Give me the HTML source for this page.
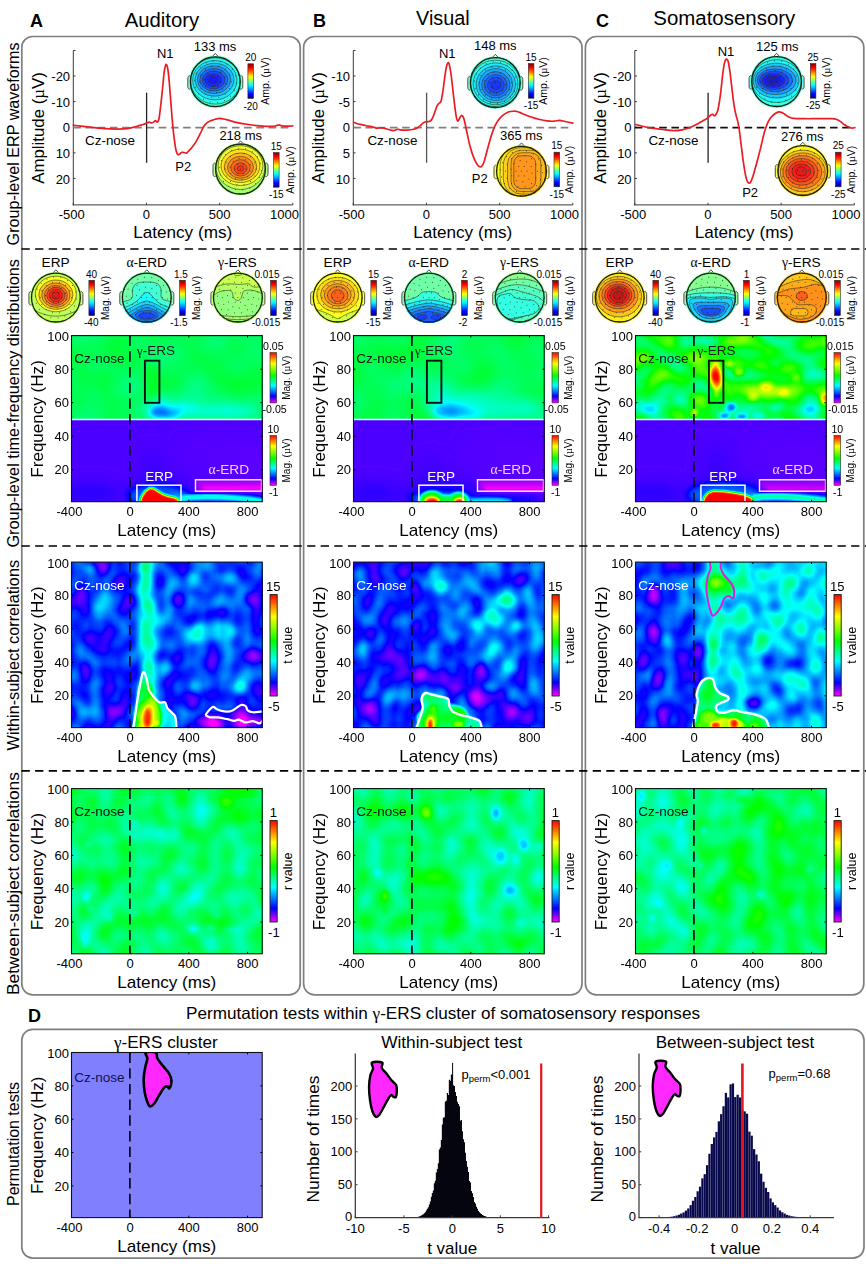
<!DOCTYPE html>
<html><head><meta charset="utf-8"><title>Figure</title>
<style>html,body{margin:0;padding:0;background:#fff}svg{display:block}text{font-family:"Liberation Sans",sans-serif}</style></head>
<body>
<svg width="866" height="1264" viewBox="0 0 866 1264">
<rect width="866" height="1264" fill="#fff"/>
<defs>
<linearGradient id="gHSV" x1="0" y1="1" x2="0" y2="0"><stop offset="0" stop-color="#ff00ff"/><stop offset="0.134" stop-color="#0000ff"/><stop offset="0.343" stop-color="#00ffff"/><stop offset="0.54" stop-color="#00ff00"/><stop offset="0.785" stop-color="#ffff00"/><stop offset="1" stop-color="#ff0000"/></linearGradient>
<linearGradient id="gJET" x1="0" y1="1" x2="0" y2="0"><stop offset="0" stop-color="#00007f"/><stop offset="0.06" stop-color="#0000bf"/><stop offset="0.12" stop-color="#0000ff"/><stop offset="0.19" stop-color="#003fff"/><stop offset="0.25" stop-color="#007fff"/><stop offset="0.31" stop-color="#00bfff"/><stop offset="0.38" stop-color="#00ffff"/><stop offset="0.44" stop-color="#3fffbf"/><stop offset="0.5" stop-color="#7fff7f"/><stop offset="0.56" stop-color="#bfff3f"/><stop offset="0.62" stop-color="#ffff00"/><stop offset="0.69" stop-color="#ffbf00"/><stop offset="0.75" stop-color="#ff7f00"/><stop offset="0.81" stop-color="#ff3f00"/><stop offset="0.88" stop-color="#ff0000"/><stop offset="0.94" stop-color="#bf0000"/><stop offset="1" stop-color="#7f0000"/></linearGradient>
<filter id="b1" x="-50%" y="-50%" width="200%" height="200%" color-interpolation-filters="sRGB"><feGaussianBlur stdDeviation="1"/></filter>
<filter id="b1_5" x="-50%" y="-50%" width="200%" height="200%" color-interpolation-filters="sRGB"><feGaussianBlur stdDeviation="1.5"/></filter>
<filter id="b2" x="-50%" y="-50%" width="200%" height="200%" color-interpolation-filters="sRGB"><feGaussianBlur stdDeviation="2"/></filter>
<filter id="b3" x="-50%" y="-50%" width="200%" height="200%" color-interpolation-filters="sRGB"><feGaussianBlur stdDeviation="3"/></filter>
<filter id="b4" x="-50%" y="-50%" width="200%" height="200%" color-interpolation-filters="sRGB"><feGaussianBlur stdDeviation="4"/></filter>
<filter id="b5" x="-50%" y="-50%" width="200%" height="200%" color-interpolation-filters="sRGB"><feGaussianBlur stdDeviation="5"/></filter>
<filter id="b6" x="-50%" y="-50%" width="200%" height="200%" color-interpolation-filters="sRGB"><feGaussianBlur stdDeviation="6"/></filter>
<filter id="b8" x="-50%" y="-50%" width="200%" height="200%" color-interpolation-filters="sRGB"><feGaussianBlur stdDeviation="8"/></filter>
<filter id="b10" x="-50%" y="-50%" width="200%" height="200%" color-interpolation-filters="sRGB"><feGaussianBlur stdDeviation="10"/></filter>
<filter id="h1" filterUnits="userSpaceOnUse" x="71.5" y="335.6" width="190.7" height="83.89" color-interpolation-filters="sRGB"><feTurbulence type="fractalNoise" baseFrequency="0.03 0.035" numOctaves="1" seed="31" result="n0"/><feColorMatrix in="n0" values="1 0 0 0 0  1 0 0 0 0  1 0 0 0 0  0 0 0 0 1" result="n"/><feComposite in="SourceGraphic" in2="n" operator="arithmetic" k1="0" k2="1" k3="0.13" k4="-0.07" result="s"/><feComponentTransfer><feFuncR type="table" tableValues="1 0 0 0 1 1"/><feFuncG type="table" tableValues="0 0 1 1 1 0"/><feFuncB type="table" tableValues="1 1 1 0 0 0"/><feFuncA type="table" tableValues="1 1"/></feComponentTransfer></filter>
<filter id="h2" filterUnits="userSpaceOnUse" x="71.5" y="419.49" width="190.7" height="82.21" color-interpolation-filters="sRGB"><feComponentTransfer><feFuncR type="table" tableValues="1 0 0 0 1 1"/><feFuncG type="table" tableValues="0 0 1 1 1 0"/><feFuncB type="table" tableValues="1 1 1 0 0 0"/><feFuncA type="table" tableValues="1 1"/></feComponentTransfer></filter>
<filter id="h3" filterUnits="userSpaceOnUse" x="353.5" y="335.6" width="190.7" height="83.89" color-interpolation-filters="sRGB"><feTurbulence type="fractalNoise" baseFrequency="0.03 0.035" numOctaves="1" seed="32" result="n0"/><feColorMatrix in="n0" values="1 0 0 0 0  1 0 0 0 0  1 0 0 0 0  0 0 0 0 1" result="n"/><feComposite in="SourceGraphic" in2="n" operator="arithmetic" k1="0" k2="1" k3="0.13" k4="-0.07" result="s"/><feComponentTransfer><feFuncR type="table" tableValues="1 0 0 0 1 1"/><feFuncG type="table" tableValues="0 0 1 1 1 0"/><feFuncB type="table" tableValues="1 1 1 0 0 0"/><feFuncA type="table" tableValues="1 1"/></feComponentTransfer></filter>
<filter id="h4" filterUnits="userSpaceOnUse" x="353.5" y="419.49" width="190.7" height="82.21" color-interpolation-filters="sRGB"><feComponentTransfer><feFuncR type="table" tableValues="1 0 0 0 1 1"/><feFuncG type="table" tableValues="0 0 1 1 1 0"/><feFuncB type="table" tableValues="1 1 1 0 0 0"/><feFuncA type="table" tableValues="1 1"/></feComponentTransfer></filter>
<filter id="h5" filterUnits="userSpaceOnUse" x="635.5" y="335.6" width="190.7" height="83.89" color-interpolation-filters="sRGB"><feTurbulence type="fractalNoise" baseFrequency="0.045 0.06" numOctaves="1" seed="37" result="n0"/><feColorMatrix in="n0" values="1 0 0 0 0  1 0 0 0 0  1 0 0 0 0  0 0 0 0 1" result="n"/><feComposite in="SourceGraphic" in2="n" operator="arithmetic" k1="0" k2="1" k3="0.46" k4="-0.23" result="s"/><feComponentTransfer><feFuncR type="table" tableValues="1 0 0 0 1 1"/><feFuncG type="table" tableValues="0 0 1 1 1 0"/><feFuncB type="table" tableValues="1 1 1 0 0 0"/><feFuncA type="table" tableValues="1 1"/></feComponentTransfer></filter>
<filter id="h6" filterUnits="userSpaceOnUse" x="635.5" y="419.49" width="190.7" height="82.21" color-interpolation-filters="sRGB"><feComponentTransfer><feFuncR type="table" tableValues="1 0 0 0 1 1"/><feFuncG type="table" tableValues="0 0 1 1 1 0"/><feFuncB type="table" tableValues="1 1 1 0 0 0"/><feFuncA type="table" tableValues="1 1"/></feComponentTransfer></filter>
<clipPath id="t7"><circle cx="215.3" cy="81.7" r="25.8"/></clipPath>
<clipPath id="t8"><circle cx="240.5" cy="169.1" r="25.8"/></clipPath>
<clipPath id="t9"><circle cx="495.3" cy="82.6" r="25.8"/></clipPath>
<clipPath id="t10"><circle cx="521.5" cy="171.2" r="25.8"/></clipPath>
<clipPath id="t11"><circle cx="776.6" cy="81.6" r="25.8"/></clipPath>
<clipPath id="t12"><circle cx="802.8" cy="170.6" r="25.8"/></clipPath>
<clipPath id="t13"><circle cx="55.9" cy="297.6" r="25.3"/></clipPath>
<clipPath id="t14"><circle cx="146.8" cy="297.6" r="25.3"/></clipPath>
<clipPath id="t15"><circle cx="237.9" cy="297.6" r="25.3"/></clipPath>
<clipPath id="t16"><circle cx="337.7" cy="297.6" r="25.3"/></clipPath>
<clipPath id="t17"><circle cx="428.9" cy="297.6" r="25.3"/></clipPath>
<clipPath id="t18"><circle cx="519.7" cy="297.6" r="25.3"/></clipPath>
<clipPath id="t19"><circle cx="619.7" cy="297.6" r="25.3"/></clipPath>
<clipPath id="t20"><circle cx="710.9" cy="297.6" r="25.3"/></clipPath>
<clipPath id="t21"><circle cx="801.8" cy="297.6" r="25.3"/></clipPath>
<filter id="h22" filterUnits="userSpaceOnUse" x="71.5" y="562.1" width="190.7" height="165.5" color-interpolation-filters="sRGB"><feTurbulence type="fractalNoise" baseFrequency="0.068 0.054" numOctaves="1" seed="4" result="n0"/><feColorMatrix in="n0" values="1 0 0 0 0  1 0 0 0 0  1 0 0 0 0  0 0 0 0 1" result="n"/><feComposite in="SourceGraphic" in2="n" operator="arithmetic" k1="0" k2="1" k3="0.36" k4="-0.18" result="s"/><feComponentTransfer><feFuncR type="table" tableValues="1 0 0 0 1 1"/><feFuncG type="table" tableValues="0 0 1 1 1 0"/><feFuncB type="table" tableValues="1 1 1 0 0 0"/><feFuncA type="table" tableValues="1 1"/></feComponentTransfer></filter>
<clipPath id="c23"><rect x="71.5" y="562.1" width="190.7" height="165.5"/></clipPath>
<filter id="h24" filterUnits="userSpaceOnUse" x="353.5" y="562.1" width="190.7" height="165.5" color-interpolation-filters="sRGB"><feTurbulence type="fractalNoise" baseFrequency="0.068 0.054" numOctaves="1" seed="8" result="n0"/><feColorMatrix in="n0" values="1 0 0 0 0  1 0 0 0 0  1 0 0 0 0  0 0 0 0 1" result="n"/><feComposite in="SourceGraphic" in2="n" operator="arithmetic" k1="0" k2="1" k3="0.36" k4="-0.18" result="s"/><feComponentTransfer><feFuncR type="table" tableValues="1 0 0 0 1 1"/><feFuncG type="table" tableValues="0 0 1 1 1 0"/><feFuncB type="table" tableValues="1 1 1 0 0 0"/><feFuncA type="table" tableValues="1 1"/></feComponentTransfer></filter>
<clipPath id="c25"><rect x="353.5" y="562.1" width="190.7" height="165.5"/></clipPath>
<filter id="h26" filterUnits="userSpaceOnUse" x="635.5" y="562.1" width="190.7" height="165.5" color-interpolation-filters="sRGB"><feTurbulence type="fractalNoise" baseFrequency="0.068 0.054" numOctaves="1" seed="13" result="n0"/><feColorMatrix in="n0" values="1 0 0 0 0  1 0 0 0 0  1 0 0 0 0  0 0 0 0 1" result="n"/><feComposite in="SourceGraphic" in2="n" operator="arithmetic" k1="0" k2="1" k3="0.36" k4="-0.18" result="s"/><feComponentTransfer><feFuncR type="table" tableValues="1 0 0 0 1 1"/><feFuncG type="table" tableValues="0 0 1 1 1 0"/><feFuncB type="table" tableValues="1 1 1 0 0 0"/><feFuncA type="table" tableValues="1 1"/></feComponentTransfer></filter>
<clipPath id="c27"><rect x="635.5" y="562.1" width="190.7" height="165.5"/></clipPath>
<filter id="h28" filterUnits="userSpaceOnUse" x="71.5" y="788.6" width="190.7" height="165.2" color-interpolation-filters="sRGB"><feTurbulence type="fractalNoise" baseFrequency="0.052 0.045" numOctaves="1" seed="21" result="n0"/><feColorMatrix in="n0" values="1 0 0 0 0  1 0 0 0 0  1 0 0 0 0  0 0 0 0 1" result="n"/><feComposite in="SourceGraphic" in2="n" operator="arithmetic" k1="0" k2="1" k3="0.3" k4="-0.15" result="s"/><feComponentTransfer><feFuncR type="table" tableValues="1 0 0 0 1 1"/><feFuncG type="table" tableValues="0 0 1 1 1 0"/><feFuncB type="table" tableValues="1 1 1 0 0 0"/><feFuncA type="table" tableValues="1 1"/></feComponentTransfer></filter>
<filter id="h29" filterUnits="userSpaceOnUse" x="353.5" y="788.6" width="190.7" height="165.2" color-interpolation-filters="sRGB"><feTurbulence type="fractalNoise" baseFrequency="0.052 0.045" numOctaves="1" seed="25" result="n0"/><feColorMatrix in="n0" values="1 0 0 0 0  1 0 0 0 0  1 0 0 0 0  0 0 0 0 1" result="n"/><feComposite in="SourceGraphic" in2="n" operator="arithmetic" k1="0" k2="1" k3="0.3" k4="-0.15" result="s"/><feComponentTransfer><feFuncR type="table" tableValues="1 0 0 0 1 1"/><feFuncG type="table" tableValues="0 0 1 1 1 0"/><feFuncB type="table" tableValues="1 1 1 0 0 0"/><feFuncA type="table" tableValues="1 1"/></feComponentTransfer></filter>
<filter id="h30" filterUnits="userSpaceOnUse" x="635.5" y="788.6" width="190.7" height="165.2" color-interpolation-filters="sRGB"><feTurbulence type="fractalNoise" baseFrequency="0.052 0.045" numOctaves="1" seed="29" result="n0"/><feColorMatrix in="n0" values="1 0 0 0 0  1 0 0 0 0  1 0 0 0 0  0 0 0 0 1" result="n"/><feComposite in="SourceGraphic" in2="n" operator="arithmetic" k1="0" k2="1" k3="0.3" k4="-0.15" result="s"/><feComponentTransfer><feFuncR type="table" tableValues="1 0 0 0 1 1"/><feFuncG type="table" tableValues="0 0 1 1 1 0"/><feFuncB type="table" tableValues="1 1 1 0 0 0"/><feFuncA type="table" tableValues="1 1"/></feComponentTransfer></filter>
<clipPath id="c31"><rect x="71.5" y="1052.5" width="190.7" height="165.1"/></clipPath>
</defs>
<rect x="21.8" y="36.5" width="278.4" height="958.3" fill="none" stroke="#7f7f7f" stroke-width="1.7" rx="11" />
<rect x="303.6" y="36.5" width="278.4" height="958.3" fill="none" stroke="#7f7f7f" stroke-width="1.7" rx="11" />
<rect x="585.4" y="36.5" width="278.4" height="958.3" fill="none" stroke="#7f7f7f" stroke-width="1.7" rx="11" />
<rect x="21.8" y="1029.3" width="842.2" height="228.8" fill="none" stroke="#7f7f7f" stroke-width="1.7" rx="11" />
<line x1="21.5" y1="249" x2="866" y2="249" stroke="#000" stroke-width="1.7" stroke-dasharray="8.3 5.3" />
<line x1="21.5" y1="546" x2="866" y2="546" stroke="#000" stroke-width="1.7" stroke-dasharray="8.3 5.3" />
<line x1="21.5" y1="770.8" x2="866" y2="770.8" stroke="#000" stroke-width="1.7" stroke-dasharray="8.3 5.3" />
<text x="36.5" y="26.74" font-size="18" text-anchor="middle" font-weight="bold" >A</text>
<text x="161.9" y="27.06" font-size="20" text-anchor="middle" textLength="74.5" lengthAdjust="spacingAndGlyphs" >Auditory</text>
<text x="319.6" y="26.74" font-size="18" text-anchor="middle" font-weight="bold" >B</text>
<text x="442.9" y="24.86" font-size="20" text-anchor="middle" textLength="53.7" lengthAdjust="spacingAndGlyphs" >Visual</text>
<text x="602.4" y="26.84" font-size="18" text-anchor="middle" font-weight="bold" >C</text>
<text x="724.3" y="24.96" font-size="20" text-anchor="middle" textLength="142" lengthAdjust="spacingAndGlyphs" >Somatosensory</text>
<text x="34.5" y="1022.04" font-size="18" text-anchor="middle" font-weight="bold" >D</text>
<text x="443" y="1019.01" font-size="16.5" text-anchor="middle" textLength="514" lengthAdjust="spacingAndGlyphs" >Permutation tests within <tspan font-family="Liberation Serif">γ</tspan>-ERS cluster of somatosensory responses</text>
<text x="12.7" y="149.81" font-size="16.5" text-anchor="middle" textLength="203" lengthAdjust="spacingAndGlyphs" transform="rotate(-90 12.7 143.9)" >Group-level ERP waveforms</text>
<text x="12.7" y="409.21" font-size="16.5" text-anchor="middle" textLength="288.6" lengthAdjust="spacingAndGlyphs" transform="rotate(-90 12.7 403.3)" >Group-level time-frequency distributions</text>
<text x="12.7" y="661.11" font-size="16.5" text-anchor="middle" textLength="190.5" lengthAdjust="spacingAndGlyphs" transform="rotate(-90 12.7 655.2)" >Within-subject correlations</text>
<text x="12.7" y="889.51" font-size="16.5" text-anchor="middle" textLength="223" lengthAdjust="spacingAndGlyphs" transform="rotate(-90 12.7 883.6)" >Between-subject correlations</text>
<text x="12.7" y="1149.91" font-size="16.5" text-anchor="middle" textLength="124" lengthAdjust="spacingAndGlyphs" transform="rotate(-90 12.7 1144)" >Permutation tests</text>
<line x1="73.3" y1="50.5" x2="73.3" y2="205.4" stroke="#3a3a3a" stroke-width="1" />
<line x1="72.8" y1="204.9" x2="292.8" y2="204.9" stroke="#3a3a3a" stroke-width="1" />
<line x1="73.3" y1="76" x2="75.5" y2="76" stroke="#3a3a3a" stroke-width="1" />
<text x="70.1" y="81.15" font-size="13" text-anchor="end" >-20</text>
<line x1="73.3" y1="101.62" x2="75.5" y2="101.62" stroke="#3a3a3a" stroke-width="1" />
<text x="70.1" y="106.77" font-size="13" text-anchor="end" >-10</text>
<line x1="73.3" y1="127.24" x2="75.5" y2="127.24" stroke="#3a3a3a" stroke-width="1" />
<text x="70.1" y="132.39" font-size="13" text-anchor="end" >0</text>
<line x1="73.3" y1="152.86" x2="75.5" y2="152.86" stroke="#3a3a3a" stroke-width="1" />
<text x="70.1" y="158.01" font-size="13" text-anchor="end" >10</text>
<line x1="73.3" y1="178.48" x2="75.5" y2="178.48" stroke="#3a3a3a" stroke-width="1" />
<text x="70.1" y="183.63" font-size="13" text-anchor="end" >20</text>
<line x1="73.3" y1="50.5" x2="75.5" y2="50.5" stroke="#3a3a3a" stroke-width="1" />
<line x1="73.3" y1="204.9" x2="73.3" y2="202.8" stroke="#3a3a3a" stroke-width="1" />
<text x="71.8" y="219.25" font-size="13" text-anchor="middle" >-500</text>
<line x1="146.47" y1="204.9" x2="146.47" y2="202.8" stroke="#3a3a3a" stroke-width="1" />
<text x="146.47" y="219.25" font-size="13" text-anchor="middle" >0</text>
<line x1="219.64" y1="204.9" x2="219.64" y2="202.8" stroke="#3a3a3a" stroke-width="1" />
<text x="219.64" y="219.25" font-size="13" text-anchor="middle" >500</text>
<line x1="292.81" y1="204.9" x2="292.81" y2="202.8" stroke="#3a3a3a" stroke-width="1" />
<text x="299" y="219.25" font-size="13" text-anchor="end" >1000</text>
<text x="182.7" y="238.39" font-size="17" text-anchor="middle" textLength="99" lengthAdjust="spacingAndGlyphs" >Latency (ms)</text>
<text x="38.3" y="134.09" font-size="17" text-anchor="middle" textLength="111.5" lengthAdjust="spacingAndGlyphs" transform="rotate(-90 38.3 128)" >Amplitude (<tspan font-family="Liberation Serif">µ</tspan>V)</text>
<line x1="73.3" y1="127.6" x2="292.8" y2="127.6" stroke="#808080" stroke-width="1.6" stroke-dasharray="7.6 4.6" />
<line x1="146.6" y1="92.7" x2="146.6" y2="162.8" stroke="#222" stroke-width="1.3" />
<path d="M73.3 125.09 C74.32 125.23 77 125.64 79.4 125.92 C81.8 126.2 84.48 126.38 87.72 126.75 C90.95 127.12 95.11 127.77 98.8 128.14 C102.5 128.51 105.73 128.83 109.89 128.97 C114.05 129.11 120.05 129.2 123.75 128.97 C127.44 128.74 129.52 128.14 132.06 127.58 C134.6 127.03 137.14 126.15 138.99 125.64 C140.84 125.13 141.9 124.95 143.15 124.53 C144.4 124.12 145.46 123.56 146.47 123.15 C147.49 122.73 148.41 122.09 149.25 122.04 C150.08 121.99 150.72 122.87 151.46 122.87 C152.2 122.87 152.99 122.41 153.68 122.04 C154.37 121.67 155.02 120.65 155.62 120.65 C156.22 120.65 156.73 122.32 157.28 122.04 C157.84 121.76 158.39 121.58 158.95 118.99 C159.5 116.4 160.01 111.6 160.61 106.52 C161.21 101.44 161.95 94.28 162.55 88.5 C163.15 82.73 163.7 75.75 164.21 71.87 C164.72 67.99 165.18 66.38 165.6 65.22 C166.01 64.07 166.34 64.3 166.71 64.94 C167.08 65.59 167.4 66.33 167.82 69.1 C168.23 71.87 168.69 76.03 169.2 81.57 C169.71 87.12 170.31 95.43 170.86 102.36 C171.42 109.29 171.97 117.14 172.53 123.15 C173.08 129.15 173.64 134 174.19 138.39 C174.75 142.78 175.3 146.85 175.85 149.48 C176.41 152.11 176.96 153.36 177.52 154.19 C178.07 155.02 178.53 154.75 179.18 154.47 C179.83 154.19 180.61 152.85 181.4 152.53 C182.18 152.2 183.06 152.44 183.89 152.53 C184.72 152.62 185.55 153.36 186.39 153.08 C187.22 152.8 187.86 151.93 188.88 150.86 C189.9 149.8 191.24 148.32 192.48 146.71 C193.73 145.09 195.07 143.34 196.36 141.16 C197.66 138.99 199.04 136.08 200.24 133.68 C201.44 131.28 202.46 128.55 203.57 126.75 C204.68 124.95 205.65 123.89 206.9 122.87 C208.14 121.86 209.67 121.25 211.05 120.65 C212.44 120.05 213.82 119.64 215.21 119.27 C216.6 118.9 217.98 118.48 219.37 118.44 C220.75 118.39 221.91 118.67 223.53 118.99 C225.14 119.31 226.76 119.78 229.07 120.38 C231.38 120.98 234.15 121.9 237.38 122.59 C240.62 123.29 244.77 123.98 248.47 124.53 C252.17 125.09 255.86 125.6 259.56 125.92 C263.25 126.24 267.96 126.47 270.64 126.47 C273.32 126.47 274.25 126.2 275.63 125.92 C277.02 125.64 277.94 124.81 278.96 124.81 C279.97 124.81 280.34 125.69 281.73 125.92 C283.12 126.15 285.42 126.2 287.27 126.2 C289.12 126.2 291.89 125.97 292.82 125.92" fill="none" stroke="#ea1d25" stroke-width="1.7" stroke-linejoin="round" stroke-linecap="round"/>
<text x="165.3" y="58.15" font-size="13" text-anchor="middle" >N1</text>
<text x="183.3" y="170.65" font-size="13" text-anchor="middle" >P2</text>
<text x="110" y="144.95" font-size="13" text-anchor="middle" textLength="50" lengthAdjust="spacingAndGlyphs" >Cz-nose</text>
<text x="215" y="50.65" font-size="13" text-anchor="middle" >133 ms</text>
<text x="240.7" y="140.25" font-size="13" text-anchor="middle" >218 ms</text>
<rect x="247.9" y="63.8" width="5.6" height="34.6" fill="url(#gJET)" stroke="#2a2a2a" stroke-width="0.6" />
<text x="250.7" y="61.08" font-size="10" text-anchor="middle" >20</text>
<text x="250.7" y="109.58" font-size="10" text-anchor="middle" >-20</text>
<text x="265" y="84.86" font-size="10.5" text-anchor="middle" transform="rotate(-90 265 81.1)" >Amp. (<tspan font-family="Liberation Serif">µ</tspan>V)</text>
<rect x="273.5" y="152.6" width="5.6" height="34.6" fill="url(#gJET)" stroke="#2a2a2a" stroke-width="0.6" />
<text x="276.3" y="149.88" font-size="10" text-anchor="middle" >15</text>
<text x="276.3" y="198.38" font-size="10" text-anchor="middle" >-15</text>
<text x="290.6" y="173.66" font-size="10.5" text-anchor="middle" transform="rotate(-90 290.6 169.9)" >Amp. (<tspan font-family="Liberation Serif">µ</tspan>V)</text>
<line x1="353.3" y1="50.5" x2="353.3" y2="205.4" stroke="#3a3a3a" stroke-width="1" />
<line x1="352.8" y1="204.9" x2="572.8" y2="204.9" stroke="#3a3a3a" stroke-width="1" />
<line x1="353.3" y1="76" x2="355.5" y2="76" stroke="#3a3a3a" stroke-width="1" />
<text x="350.1" y="81.15" font-size="13" text-anchor="end" >-10</text>
<line x1="353.3" y1="101.62" x2="355.5" y2="101.62" stroke="#3a3a3a" stroke-width="1" />
<text x="350.1" y="106.77" font-size="13" text-anchor="end" >-5</text>
<line x1="353.3" y1="127.24" x2="355.5" y2="127.24" stroke="#3a3a3a" stroke-width="1" />
<text x="350.1" y="132.39" font-size="13" text-anchor="end" >0</text>
<line x1="353.3" y1="152.86" x2="355.5" y2="152.86" stroke="#3a3a3a" stroke-width="1" />
<text x="350.1" y="158.01" font-size="13" text-anchor="end" >5</text>
<line x1="353.3" y1="178.48" x2="355.5" y2="178.48" stroke="#3a3a3a" stroke-width="1" />
<text x="350.1" y="183.63" font-size="13" text-anchor="end" >10</text>
<line x1="353.3" y1="50.5" x2="355.5" y2="50.5" stroke="#3a3a3a" stroke-width="1" />
<line x1="353.3" y1="204.9" x2="353.3" y2="202.8" stroke="#3a3a3a" stroke-width="1" />
<text x="351.8" y="219.25" font-size="13" text-anchor="middle" >-500</text>
<line x1="426.47" y1="204.9" x2="426.47" y2="202.8" stroke="#3a3a3a" stroke-width="1" />
<text x="426.47" y="219.25" font-size="13" text-anchor="middle" >0</text>
<line x1="499.64" y1="204.9" x2="499.64" y2="202.8" stroke="#3a3a3a" stroke-width="1" />
<text x="499.64" y="219.25" font-size="13" text-anchor="middle" >500</text>
<line x1="572.81" y1="204.9" x2="572.81" y2="202.8" stroke="#3a3a3a" stroke-width="1" />
<text x="579" y="219.25" font-size="13" text-anchor="end" >1000</text>
<text x="462.7" y="238.39" font-size="17" text-anchor="middle" textLength="99" lengthAdjust="spacingAndGlyphs" >Latency (ms)</text>
<text x="318.3" y="134.09" font-size="17" text-anchor="middle" textLength="111.5" lengthAdjust="spacingAndGlyphs" transform="rotate(-90 318.3 128)" >Amplitude (<tspan font-family="Liberation Serif">µ</tspan>V)</text>
<line x1="353.3" y1="127.6" x2="572.8" y2="127.6" stroke="#808080" stroke-width="1.6" stroke-dasharray="7.6 4.6" />
<line x1="426.6" y1="92.7" x2="426.6" y2="162.8" stroke="#555" stroke-width="1.3" />
<path d="M353.64 122.32 C354.24 122.55 355.72 123.29 357.24 123.7 C358.77 124.12 360.94 124.4 362.79 124.81 C364.63 125.23 366.71 125.87 368.33 126.2 C369.95 126.52 371.1 126.43 372.49 126.75 C373.87 127.08 375.03 127.95 376.65 128.14 C378.26 128.32 380.34 127.68 382.19 127.86 C384.04 128.05 385.88 128.78 387.73 129.25 C389.58 129.71 391.66 130.63 393.27 130.63 C394.89 130.63 396.05 129.34 397.43 129.25 C398.82 129.15 399.97 129.94 401.59 130.08 C403.21 130.22 405.29 130.17 407.13 130.08 C408.98 129.99 411.06 129.85 412.68 129.52 C414.29 129.2 415.59 128.74 416.83 128.14 C418.08 127.54 419.14 126.75 420.16 125.92 C421.18 125.09 422.01 123.84 422.93 123.15 C423.86 122.46 424.64 122.04 425.7 121.76 C426.77 121.49 428.24 121.95 429.31 121.49 C430.37 121.02 431.15 120.56 432.08 118.99 C433 117.42 434.02 114.23 434.85 112.06 C435.68 109.89 436.37 107.44 437.07 105.96 C437.76 104.49 438.36 103.93 439.01 103.19 C439.65 102.45 440.3 103.52 440.95 101.53 C441.59 99.54 442.29 95.06 442.89 91.27 C443.49 87.49 444 82.73 444.55 78.8 C445.1 74.88 445.66 70.4 446.21 67.72 C446.77 65.04 447.37 63.28 447.88 62.73 C448.38 62.17 448.75 62.63 449.26 64.39 C449.77 66.15 450.32 69.01 450.92 73.26 C451.53 77.51 452.22 84.35 452.86 89.89 C453.51 95.43 454.2 101.9 454.8 106.52 C455.41 111.14 455.96 115.16 456.47 117.61 C456.98 120.05 457.35 121.07 457.85 121.21 C458.36 121.35 458.96 119.36 459.52 118.44 C460.07 117.51 460.63 116.03 461.18 115.67 C461.73 115.3 462.29 115.34 462.84 116.22 C463.4 117.1 463.86 118.39 464.51 120.93 C465.15 123.47 465.89 127.63 466.72 131.46 C467.55 135.3 468.57 140.24 469.49 143.94 C470.42 147.63 471.34 150.86 472.27 153.64 C473.19 156.41 474.11 158.63 475.04 160.57 C475.96 162.51 476.98 164.21 477.81 165.28 C478.64 166.34 479.33 166.8 480.03 166.94 C480.72 167.08 481.27 167.03 481.97 166.11 C482.66 165.18 483.4 163.71 484.18 161.4 C484.97 159.09 485.8 155.48 486.68 152.25 C487.56 149.02 488.53 145.23 489.45 142 C490.37 138.76 491.3 135.53 492.22 132.85 C493.15 130.17 493.93 128.09 494.99 125.92 C496.06 123.75 497.3 121.58 498.6 119.82 C499.89 118.07 501.14 116.68 502.75 115.39 C504.37 114.09 506.45 112.75 508.3 112.06 C510.14 111.37 512.36 111.32 513.84 111.23 C515.32 111.14 515.78 111.14 517.17 111.51 C518.55 111.88 519.94 112.57 522.16 113.45 C524.37 114.33 527.7 115.8 530.47 116.77 C533.24 117.74 536.01 118.58 538.78 119.27 C541.56 119.96 544.56 120.61 547.1 120.93 C549.64 121.25 551.95 121.3 554.03 121.21 C556.11 121.12 557.72 120.33 559.57 120.38 C561.42 120.42 562.9 121.02 565.12 121.49 C567.33 121.95 571.58 122.87 572.88 123.15" fill="none" stroke="#ea1d25" stroke-width="1.7" stroke-linejoin="round" stroke-linecap="round"/>
<text x="447.3" y="57.95" font-size="13" text-anchor="middle" >N1</text>
<text x="479.7" y="183.25" font-size="13" text-anchor="middle" >P2</text>
<text x="392.4" y="145.25" font-size="13" text-anchor="middle" textLength="50" lengthAdjust="spacingAndGlyphs" >Cz-nose</text>
<text x="495.3" y="50.15" font-size="13" text-anchor="middle" >148 ms</text>
<text x="521.3" y="140.25" font-size="13" text-anchor="middle" >365 ms</text>
<rect x="528.3" y="63.6" width="5.6" height="34.6" fill="url(#gJET)" stroke="#2a2a2a" stroke-width="0.6" />
<text x="531.1" y="60.88" font-size="10" text-anchor="middle" >15</text>
<text x="531.1" y="109.38" font-size="10" text-anchor="middle" >-15</text>
<text x="543.6" y="84.66" font-size="10.5" text-anchor="middle" transform="rotate(-90 543.6 80.9)" >Amp. (<tspan font-family="Liberation Serif">µ</tspan>V)</text>
<rect x="554" y="152.2" width="5.6" height="34.6" fill="url(#gJET)" stroke="#2a2a2a" stroke-width="0.6" />
<text x="556.8" y="149.48" font-size="10" text-anchor="middle" >15</text>
<text x="556.8" y="197.98" font-size="10" text-anchor="middle" >-15</text>
<text x="569.3" y="173.26" font-size="10.5" text-anchor="middle" transform="rotate(-90 569.3 169.5)" >Amp. (<tspan font-family="Liberation Serif">µ</tspan>V)</text>
<line x1="634.8" y1="50.5" x2="634.8" y2="205.4" stroke="#3a3a3a" stroke-width="1" />
<line x1="634.3" y1="204.9" x2="854.3" y2="204.9" stroke="#3a3a3a" stroke-width="1" />
<line x1="634.8" y1="76" x2="637" y2="76" stroke="#3a3a3a" stroke-width="1" />
<text x="631.6" y="81.15" font-size="13" text-anchor="end" >-20</text>
<line x1="634.8" y1="101.62" x2="637" y2="101.62" stroke="#3a3a3a" stroke-width="1" />
<text x="631.6" y="106.77" font-size="13" text-anchor="end" >-10</text>
<line x1="634.8" y1="127.24" x2="637" y2="127.24" stroke="#3a3a3a" stroke-width="1" />
<text x="631.6" y="132.39" font-size="13" text-anchor="end" >0</text>
<line x1="634.8" y1="152.86" x2="637" y2="152.86" stroke="#3a3a3a" stroke-width="1" />
<text x="631.6" y="158.01" font-size="13" text-anchor="end" >10</text>
<line x1="634.8" y1="178.48" x2="637" y2="178.48" stroke="#3a3a3a" stroke-width="1" />
<text x="631.6" y="183.63" font-size="13" text-anchor="end" >20</text>
<line x1="634.8" y1="50.5" x2="637" y2="50.5" stroke="#3a3a3a" stroke-width="1" />
<line x1="634.8" y1="204.9" x2="634.8" y2="202.8" stroke="#3a3a3a" stroke-width="1" />
<text x="633.3" y="219.25" font-size="13" text-anchor="middle" >-500</text>
<line x1="707.97" y1="204.9" x2="707.97" y2="202.8" stroke="#3a3a3a" stroke-width="1" />
<text x="707.97" y="219.25" font-size="13" text-anchor="middle" >0</text>
<line x1="781.14" y1="204.9" x2="781.14" y2="202.8" stroke="#3a3a3a" stroke-width="1" />
<text x="781.14" y="219.25" font-size="13" text-anchor="middle" >500</text>
<line x1="854.31" y1="204.9" x2="854.31" y2="202.8" stroke="#3a3a3a" stroke-width="1" />
<text x="860.5" y="219.25" font-size="13" text-anchor="end" >1000</text>
<text x="744.2" y="238.39" font-size="17" text-anchor="middle" textLength="99" lengthAdjust="spacingAndGlyphs" >Latency (ms)</text>
<text x="599.8" y="134.09" font-size="17" text-anchor="middle" textLength="111.5" lengthAdjust="spacingAndGlyphs" transform="rotate(-90 599.8 128)" >Amplitude (<tspan font-family="Liberation Serif">µ</tspan>V)</text>
<line x1="634.8" y1="127.6" x2="854.3" y2="127.6" stroke="#111" stroke-width="1.8" stroke-dasharray="7.6 4.6" />
<line x1="708.1" y1="92.7" x2="708.1" y2="162.8" stroke="#222" stroke-width="1.3" />
<path d="M635.64 124.53 C636.93 124.86 640.72 125.87 643.4 126.47 C646.08 127.08 648.48 127.63 651.72 128.14 C654.95 128.65 659.11 129.11 662.8 129.52 C666.5 129.94 670.66 130.59 673.89 130.63 C677.12 130.68 679.43 130.35 682.2 129.8 C684.98 129.25 687.98 128.28 690.52 127.31 C693.06 126.34 695.37 125.09 697.45 123.98 C699.53 122.87 701.47 121.53 702.99 120.65 C704.52 119.78 705.62 119.36 706.59 118.71 C707.56 118.07 708.07 117.42 708.81 116.77 C709.55 116.13 710.38 115.25 711.03 114.83 C711.68 114.42 712.14 114.09 712.69 114.28 C713.25 114.46 713.8 115.94 714.35 115.94 C714.91 115.94 715.46 115.16 716.02 114.28 C716.57 113.4 717.13 112.66 717.68 110.68 C718.24 108.69 718.79 105.83 719.34 102.36 C719.9 98.9 720.45 94.51 721.01 89.89 C721.56 85.27 722.12 79.03 722.67 74.65 C723.22 70.26 723.82 66.05 724.33 63.56 C724.84 61.06 725.26 60.37 725.72 59.68 C726.18 58.99 726.64 58.89 727.1 59.4 C727.57 59.91 727.98 60.42 728.49 62.73 C729 65.04 729.55 68.73 730.15 73.26 C730.75 77.79 731.45 84.58 732.09 89.89 C732.74 95.2 733.39 100.98 734.03 105.13 C734.68 109.29 735.37 112.2 735.97 114.83 C736.57 117.47 737.08 118.39 737.64 120.93 C738.19 123.47 738.7 126.01 739.3 130.08 C739.9 134.14 740.59 140.24 741.24 145.32 C741.89 150.4 742.53 155.95 743.18 160.57 C743.83 165.18 744.47 169.67 745.12 173.04 C745.77 176.41 746.46 179.14 747.06 180.8 C747.66 182.46 748.17 182.74 748.72 183.02 C749.28 183.29 749.79 183.29 750.39 182.46 C750.99 181.63 751.59 180.15 752.33 178.03 C753.07 175.9 753.94 172.76 754.82 169.71 C755.7 166.66 756.58 163.57 757.59 159.73 C758.61 155.9 759.81 151.19 760.92 146.71 C762.03 142.23 763.14 136.78 764.24 132.85 C765.35 128.92 766.46 125.69 767.57 123.15 C768.68 120.61 769.79 119.08 770.9 117.61 C772 116.13 773.07 115.2 774.22 114.28 C775.38 113.36 776.62 112.39 777.82 112.06 C779.03 111.74 780.27 111.97 781.43 112.34 C782.58 112.71 783.51 113.49 784.75 114.28 C786 115.06 787.43 116.36 788.91 117.05 C790.39 117.74 791.08 118.16 793.62 118.44 C796.16 118.71 800.09 118.67 804.16 118.71 C808.22 118.76 813.39 118.71 818.01 118.71 C822.63 118.71 828.73 118.58 831.87 118.71 C835.01 118.85 835.38 119.04 836.86 119.55 C838.34 120.05 839.45 120.89 840.74 121.76 C842.03 122.64 843.33 123.93 844.62 124.81 C845.91 125.69 847.3 126.47 848.5 127.03 C849.7 127.58 850.76 128.05 851.83 128.14 C852.89 128.23 854.37 127.68 854.88 127.58" fill="none" stroke="#ea1d25" stroke-width="1.7" stroke-linejoin="round" stroke-linecap="round"/>
<text x="726" y="56.25" font-size="13" text-anchor="middle" >N1</text>
<text x="750.1" y="196.55" font-size="13" text-anchor="middle" >P2</text>
<text x="673.4" y="145.25" font-size="13" text-anchor="middle" textLength="50" lengthAdjust="spacingAndGlyphs" >Cz-nose</text>
<text x="777.3" y="50.65" font-size="13" text-anchor="middle" >125 ms</text>
<text x="802.3" y="141.05" font-size="13" text-anchor="middle" >276 ms</text>
<rect x="810.3" y="63.6" width="5.6" height="34.6" fill="url(#gJET)" stroke="#2a2a2a" stroke-width="0.6" />
<text x="813.1" y="60.88" font-size="10" text-anchor="middle" >25</text>
<text x="813.1" y="109.38" font-size="10" text-anchor="middle" >-25</text>
<text x="825.8" y="84.66" font-size="10.5" text-anchor="middle" transform="rotate(-90 825.8 80.9)" >Amp. (<tspan font-family="Liberation Serif">µ</tspan>V)</text>
<rect x="835.5" y="152.2" width="5.6" height="34.6" fill="url(#gJET)" stroke="#2a2a2a" stroke-width="0.6" />
<text x="838.3" y="149.48" font-size="10" text-anchor="middle" >25</text>
<text x="838.3" y="197.98" font-size="10" text-anchor="middle" >-25</text>
<text x="851" y="173.26" font-size="10.5" text-anchor="middle" transform="rotate(-90 851 169.5)" >Amp. (<tspan font-family="Liberation Serif">µ</tspan>V)</text>
<text x="55.6" y="267.2" font-size="13.7" text-anchor="middle" >ERP</text>
<rect x="88.9" y="280.3" width="5.7" height="35.3" fill="url(#gJET)" stroke="#2a2a2a" stroke-width="0.6" />
<text x="91.45" y="278.38" font-size="10" text-anchor="middle" >40</text>
<text x="91.25" y="326.38" font-size="10" text-anchor="middle" >-40</text>
<text x="105.3" y="301.53" font-size="10" text-anchor="middle" transform="rotate(-90 105.3 297.95)" >Mag. (<tspan font-family="Liberation Serif">µ</tspan>V)</text>
<text x="146.7" y="267.2" font-size="13.7" text-anchor="middle" ><tspan font-family="Liberation Serif">α</tspan>-ERD</text>
<rect x="179.6" y="280.3" width="5.7" height="35.3" fill="url(#gJET)" stroke="#2a2a2a" stroke-width="0.6" />
<text x="180.85" y="278.38" font-size="10" text-anchor="middle" >1.5</text>
<text x="178.85" y="326.38" font-size="10" text-anchor="middle" >-1.5</text>
<text x="196" y="301.53" font-size="10" text-anchor="middle" transform="rotate(-90 196 297.95)" >Mag. (<tspan font-family="Liberation Serif">µ</tspan>V)</text>
<text x="237.3" y="267.2" font-size="13.7" text-anchor="middle" ><tspan font-family="Liberation Serif">γ</tspan>-ERS</text>
<rect x="270.6" y="280.3" width="5.7" height="35.3" fill="url(#gJET)" stroke="#2a2a2a" stroke-width="0.6" />
<text x="266.95" y="278.38" font-size="10" text-anchor="middle" >0.015</text>
<text x="266.05" y="326.38" font-size="10" text-anchor="middle" >-0.015</text>
<text x="287" y="301.53" font-size="10" text-anchor="middle" transform="rotate(-90 287 297.95)" >Mag. (<tspan font-family="Liberation Serif">µ</tspan>V)</text>
<text x="337.6" y="267.2" font-size="13.7" text-anchor="middle" >ERP</text>
<rect x="370.9" y="280.3" width="5.7" height="35.3" fill="url(#gJET)" stroke="#2a2a2a" stroke-width="0.6" />
<text x="373.45" y="278.38" font-size="10" text-anchor="middle" >15</text>
<text x="373.25" y="326.38" font-size="10" text-anchor="middle" >-15</text>
<text x="387.3" y="301.53" font-size="10" text-anchor="middle" transform="rotate(-90 387.3 297.95)" >Mag. (<tspan font-family="Liberation Serif">µ</tspan>V)</text>
<text x="428.7" y="267.2" font-size="13.7" text-anchor="middle" ><tspan font-family="Liberation Serif">α</tspan>-ERD</text>
<rect x="461.6" y="280.3" width="5.7" height="35.3" fill="url(#gJET)" stroke="#2a2a2a" stroke-width="0.6" />
<text x="464.45" y="278.38" font-size="10" text-anchor="middle" >2</text>
<text x="462.95" y="326.38" font-size="10" text-anchor="middle" >-2</text>
<text x="478" y="301.53" font-size="10" text-anchor="middle" transform="rotate(-90 478 297.95)" >Mag. (<tspan font-family="Liberation Serif">µ</tspan>V)</text>
<text x="519.3" y="267.2" font-size="13.7" text-anchor="middle" ><tspan font-family="Liberation Serif">γ</tspan>-ERS</text>
<rect x="552.6" y="280.3" width="5.7" height="35.3" fill="url(#gJET)" stroke="#2a2a2a" stroke-width="0.6" />
<text x="548.95" y="278.38" font-size="10" text-anchor="middle" >0.015</text>
<text x="548.05" y="326.38" font-size="10" text-anchor="middle" >-0.015</text>
<text x="569" y="301.53" font-size="10" text-anchor="middle" transform="rotate(-90 569 297.95)" >Mag. (<tspan font-family="Liberation Serif">µ</tspan>V)</text>
<text x="619.6" y="267.2" font-size="13.7" text-anchor="middle" >ERP</text>
<rect x="652.9" y="280.3" width="5.7" height="35.3" fill="url(#gJET)" stroke="#2a2a2a" stroke-width="0.6" />
<text x="655.45" y="278.38" font-size="10" text-anchor="middle" >40</text>
<text x="655.25" y="326.38" font-size="10" text-anchor="middle" >-40</text>
<text x="669.3" y="301.53" font-size="10" text-anchor="middle" transform="rotate(-90 669.3 297.95)" >Mag. (<tspan font-family="Liberation Serif">µ</tspan>V)</text>
<text x="710.7" y="267.2" font-size="13.7" text-anchor="middle" ><tspan font-family="Liberation Serif">α</tspan>-ERD</text>
<rect x="743.6" y="280.3" width="5.7" height="35.3" fill="url(#gJET)" stroke="#2a2a2a" stroke-width="0.6" />
<text x="746.45" y="278.38" font-size="10" text-anchor="middle" >1</text>
<text x="744.95" y="326.38" font-size="10" text-anchor="middle" >-1</text>
<text x="760" y="301.53" font-size="10" text-anchor="middle" transform="rotate(-90 760 297.95)" >Mag. (<tspan font-family="Liberation Serif">µ</tspan>V)</text>
<text x="801.3" y="267.2" font-size="13.7" text-anchor="middle" ><tspan font-family="Liberation Serif">γ</tspan>-ERS</text>
<rect x="834.6" y="280.3" width="5.7" height="35.3" fill="url(#gJET)" stroke="#2a2a2a" stroke-width="0.6" />
<text x="830.95" y="278.38" font-size="10" text-anchor="middle" >0.015</text>
<text x="830.05" y="326.38" font-size="10" text-anchor="middle" >-0.015</text>
<text x="851" y="301.53" font-size="10" text-anchor="middle" transform="rotate(-90 851 297.95)" >Mag. (<tspan font-family="Liberation Serif">µ</tspan>V)</text>
<g filter="url(#h1)">
<rect x="41.5" y="305.6" width="250.7" height="143.89" fill="#898989" />
<g filter="url(#b6)">
<ellipse cx="196.19" cy="407.74" rx="60" ry="9" fill="#747474" opacity="0.95"/>
<ellipse cx="174.18" cy="399.36" rx="30" ry="10" fill="#7a7a7a" opacity="0.7"/>
<ellipse cx="93.5" cy="382.58" rx="22" ry="10" fill="#8c8c8c" opacity="0.5"/>
<ellipse cx="232.86" cy="406.07" rx="30" ry="6" fill="#808080" opacity="0.7"/>
<ellipse cx="108.17" cy="412.78" rx="30" ry="5" fill="#858585" opacity="0.6"/>
<ellipse cx="166.85" cy="399.36" rx="14" ry="8" fill="#808080" opacity="0.6"/>
</g>
<g filter="url(#b3)">
<ellipse cx="166.12" cy="411.94" rx="17" ry="6.5" fill="#494949"/>
<ellipse cx="181.52" cy="408.58" rx="16" ry="5" fill="#636363" opacity="0.9"/>
<ellipse cx="152.18" cy="382.58" rx="8" ry="18" fill="#999999" opacity="0.6"/>
<ellipse cx="200.59" cy="411.1" rx="18" ry="4" fill="#6b6b6b" opacity="0.8"/>
<ellipse cx="160.98" cy="402.71" rx="7" ry="5" fill="#6b6b6b" opacity="0.6"/>
<ellipse cx="225.53" cy="411.1" rx="30" ry="4" fill="#707070" opacity="0.7"/>
</g>
</g>
<g filter="url(#h2)">
<rect x="41.5" y="389.49" width="250.7" height="142.21" fill="#242424" />
<g filter="url(#b8)">
<ellipse cx="89.1" cy="493.31" rx="30" ry="10" fill="#2e2e2e" opacity="0.8"/>
<ellipse cx="225.53" cy="453.04" rx="45" ry="25" fill="#212121" opacity="0.6"/>
<ellipse cx="254.87" cy="469.82" rx="14" ry="20" fill="#1f1f1f" opacity="0.6"/>
<ellipse cx="159.52" cy="494.99" rx="34" ry="11" fill="#343434" opacity="0.9"/>
<ellipse cx="152.18" cy="469.82" rx="12" ry="20" fill="#2a2a2a" opacity="0.7"/>
</g>
<g filter="url(#b3)">
<ellipse cx="158.05" cy="495.83" rx="30" ry="10" fill="#474747"/>
<ellipse cx="212.32" cy="499.02" rx="52" ry="2.8" fill="#545454" opacity="0.95"/>
<ellipse cx="178.59" cy="499.35" rx="12" ry="3.2" fill="#616161" opacity="0.9"/>
</g>
<g filter="url(#b1_5)">
<rect x="197" y="480.8" width="70" height="9.4" fill="#0e0e0e"/>
<rect x="203" y="486" width="70" height="5" fill="#000000"/>
</g>
<g filter="url(#b1_5)">
<path d="M181 498.4 C205 494.6 235 497 263 501" stroke="#545454" stroke-width="6.5" fill="none"/>
<path d="M181 498.6 C205 494.8 235 497.2 263 501.2" stroke="#787878" stroke-width="3.4" fill="none"/>
</g>
<g filter="url(#b1)">
<path d="M139.6 504 L141 497.4 L145 491.2 L149.7 487.8 L154.2 488.4 L158.6 491.6 L163.8 494.6 L170 496.4 L175 497.6 L178.6 499.4 L179.4 504 Z" fill="#ffffff" />
</g>
</g>
<line x1="71.5" y1="419.49" x2="262.2" y2="419.49" stroke="#fff" stroke-width="1.5" />
<rect x="144.9" y="360.7" width="14.5" height="42.1" fill="none" stroke="#111" stroke-width="1.9" />
<rect x="136.9" y="485.2" width="44.1" height="17" fill="none" stroke="#fff" stroke-width="1.5" />
<rect x="195.5" y="479.8" width="66.1" height="11.4" fill="none" stroke="#ffdcff" stroke-width="1.5" />
<text x="155.8" y="355.13" font-size="13.5" text-anchor="middle" fill="#1a1a1a" ><tspan font-family="Liberation Serif">γ</tspan>-ERS</text>
<text x="159.2" y="481.43" font-size="13.5" text-anchor="middle" fill="#fff" >ERP</text>
<text x="228.8" y="474.3" font-size="13.7" text-anchor="middle" fill="#ffc8ff" ><tspan font-family="Liberation Serif">α</tspan>-ERD</text>
<rect x="71.5" y="335.6" width="190.7" height="166.1" fill="none" stroke="#111" stroke-width="1.1" />
<text x="68.9" y="341.05" font-size="13" text-anchor="end" >100</text>
<line x1="71.5" y1="369.16" x2="73.4" y2="369.16" stroke="#000" stroke-width="1" />
<line x1="262.2" y1="369.16" x2="260.3" y2="369.16" stroke="#000" stroke-width="1" />
<text x="68.9" y="373.81" font-size="13" text-anchor="end" >80</text>
<line x1="71.5" y1="402.71" x2="73.4" y2="402.71" stroke="#000" stroke-width="1" />
<line x1="262.2" y1="402.71" x2="260.3" y2="402.71" stroke="#000" stroke-width="1" />
<text x="68.9" y="407.37" font-size="13" text-anchor="end" >60</text>
<line x1="71.5" y1="436.27" x2="73.4" y2="436.27" stroke="#000" stroke-width="1" />
<line x1="262.2" y1="436.27" x2="260.3" y2="436.27" stroke="#000" stroke-width="1" />
<text x="68.9" y="440.92" font-size="13" text-anchor="end" >40</text>
<line x1="71.5" y1="469.82" x2="73.4" y2="469.82" stroke="#000" stroke-width="1" />
<line x1="262.2" y1="469.82" x2="260.3" y2="469.82" stroke="#000" stroke-width="1" />
<text x="68.9" y="474.48" font-size="13" text-anchor="end" >20</text>
<text x="69.5" y="515.85" font-size="13" text-anchor="middle" >-400</text>
<line x1="130.18" y1="501.7" x2="130.18" y2="499.8" stroke="#000" stroke-width="1" />
<line x1="130.18" y1="335.6" x2="130.18" y2="337.5" stroke="#000" stroke-width="1" />
<text x="130.18" y="515.85" font-size="13" text-anchor="middle" >0</text>
<line x1="188.85" y1="501.7" x2="188.85" y2="499.8" stroke="#000" stroke-width="1" />
<line x1="188.85" y1="335.6" x2="188.85" y2="337.5" stroke="#000" stroke-width="1" />
<text x="188.85" y="515.85" font-size="13" text-anchor="middle" >400</text>
<line x1="247.53" y1="501.7" x2="247.53" y2="499.8" stroke="#000" stroke-width="1" />
<line x1="247.53" y1="335.6" x2="247.53" y2="337.5" stroke="#000" stroke-width="1" />
<text x="247.53" y="515.85" font-size="13" text-anchor="middle" >800</text>
<text x="166.8" y="535.99" font-size="17" text-anchor="middle" textLength="99" lengthAdjust="spacingAndGlyphs" >Latency (ms)</text>
<text x="37.4" y="425.04" font-size="17" text-anchor="middle" textLength="117.5" lengthAdjust="spacingAndGlyphs" transform="rotate(-90 37.4 418.95)" >Frequency (Hz)</text>
<line x1="129.88" y1="335.6" x2="129.88" y2="501.7" stroke="#0a0a18" stroke-width="1.75" stroke-dasharray="10.4 5.3" />
<text x="99.4" y="363.03" font-size="13.5" text-anchor="middle" fill="#111" textLength="50.5" lengthAdjust="spacingAndGlyphs" >Cz-nose</text>
<rect x="270" y="352.6" width="6.6" height="50.3" fill="url(#gHSV)" stroke="#2a2a2a" stroke-width="0.6" />
<text x="273.3" y="350.39" font-size="10.6" text-anchor="middle" >0.05</text>
<text x="274.6" y="413.39" font-size="10.6" text-anchor="middle" >-0.05</text>
<text x="286.5" y="381.33" font-size="10" text-anchor="middle" transform="rotate(-90 286.5 377.75)" >Mag. (<tspan font-family="Liberation Serif">µ</tspan>V)</text>
<rect x="270" y="435.5" width="6.6" height="49.8" fill="url(#gHSV)" stroke="#2a2a2a" stroke-width="0.6" />
<text x="273.3" y="432.69" font-size="10.6" text-anchor="middle" >10</text>
<text x="273.7" y="495.79" font-size="10.6" text-anchor="middle" >-1</text>
<text x="286.5" y="463.98" font-size="10" text-anchor="middle" transform="rotate(-90 286.5 460.4)" >Mag. (<tspan font-family="Liberation Serif">µ</tspan>V)</text>
<g filter="url(#h3)">
<rect x="323.5" y="305.6" width="250.7" height="143.89" fill="#898989" />
<g filter="url(#b6)">
<ellipse cx="478.19" cy="406.07" rx="60" ry="11" fill="#737373" opacity="0.95"/>
<ellipse cx="459.12" cy="397.68" rx="28" ry="13" fill="#737373" opacity="0.85"/>
<ellipse cx="448.85" cy="389.29" rx="16" ry="9" fill="#7d7d7d" opacity="0.7"/>
<ellipse cx="526.6" cy="409.42" rx="18" ry="6" fill="#7a7a7a" opacity="0.7"/>
<ellipse cx="382.84" cy="412.78" rx="30" ry="5" fill="#878787" opacity="0.6"/>
<ellipse cx="494.32" cy="392.64" rx="20" ry="8" fill="#808080" opacity="0.5"/>
</g>
<g filter="url(#b3)">
<ellipse cx="449.58" cy="411.1" rx="18" ry="7" fill="#525252"/>
<ellipse cx="470.12" cy="412.78" rx="15" ry="5" fill="#5e5e5e" opacity="0.9"/>
<ellipse cx="444.45" cy="399.36" rx="8" ry="6" fill="#696969" opacity="0.7"/>
<ellipse cx="460.59" cy="402.71" rx="9" ry="5" fill="#6b6b6b" opacity="0.6"/>
<ellipse cx="500.19" cy="411.1" rx="30" ry="4" fill="#707070" opacity="0.6"/>
</g>
</g>
<g filter="url(#h4)">
<rect x="323.5" y="389.49" width="250.7" height="142.21" fill="#242424" />
<g filter="url(#b8)">
<ellipse cx="371.1" cy="493.31" rx="30" ry="10" fill="#2e2e2e" opacity="0.8"/>
<ellipse cx="507.53" cy="453.04" rx="45" ry="25" fill="#212121" opacity="0.6"/>
<ellipse cx="536.87" cy="469.82" rx="14" ry="20" fill="#1f1f1f" opacity="0.6"/>
<ellipse cx="442.98" cy="494.99" rx="38" ry="11" fill="#333333" opacity="0.9"/>
<ellipse cx="429.78" cy="473.18" rx="12" ry="16" fill="#2a2a2a" opacity="0.6"/>
</g>
<g filter="url(#b3)">
<ellipse cx="441.52" cy="499.02" rx="32" ry="6.5" fill="#4c4c4c"/>
<ellipse cx="497.26" cy="499.69" rx="45" ry="2.4" fill="#454545" opacity="0.8"/>
</g>
<g filter="url(#b1_5)">
<rect x="479" y="480.8" width="70" height="9.4" fill="#0e0e0e"/>
<rect x="485" y="486" width="70" height="5" fill="#000000"/>
</g>
<g filter="url(#b1_5)">
<ellipse cx="432" cy="500.5" rx="12" ry="9.5" fill="#999999"/>
<ellipse cx="458.5" cy="501" rx="10" ry="8.8" fill="#949494"/>
<ellipse cx="445" cy="501.5" rx="15" ry="6.2" fill="#8f8f8f"/>
<ellipse cx="488" cy="501" rx="24" ry="3.6" fill="#666666" opacity="0.9"/>
</g>
<g filter="url(#b1)">
<ellipse cx="432" cy="501.3" rx="8" ry="5.4" fill="#d1d1d1"/>
<ellipse cx="459.3" cy="501.8" rx="6" ry="4.6" fill="#d1d1d1"/>
<ellipse cx="432" cy="502" rx="6" ry="3.6" fill="#ffffff"/>
<ellipse cx="459.6" cy="502.4" rx="4.2" ry="3" fill="#ffffff"/>
</g>
</g>
<line x1="353.5" y1="419.49" x2="544.2" y2="419.49" stroke="#fff" stroke-width="1.5" />
<rect x="426.9" y="360.7" width="14.5" height="42.1" fill="none" stroke="#111" stroke-width="1.9" />
<rect x="418.9" y="485.2" width="44.1" height="17" fill="none" stroke="#fff" stroke-width="1.5" />
<rect x="477.5" y="479.8" width="66.1" height="11.4" fill="none" stroke="#ffdcff" stroke-width="1.5" />
<text x="433.9" y="355.13" font-size="13.5" text-anchor="middle" fill="#1a1a1a" ><tspan font-family="Liberation Serif">γ</tspan>-ERS</text>
<text x="441.2" y="481.43" font-size="13.5" text-anchor="middle" fill="#fff" >ERP</text>
<text x="510.8" y="474.3" font-size="13.7" text-anchor="middle" fill="#ffc8ff" ><tspan font-family="Liberation Serif">α</tspan>-ERD</text>
<rect x="353.5" y="335.6" width="190.7" height="166.1" fill="none" stroke="#111" stroke-width="1.1" />
<text x="350.9" y="341.05" font-size="13" text-anchor="end" >100</text>
<line x1="353.5" y1="369.16" x2="355.4" y2="369.16" stroke="#000" stroke-width="1" />
<line x1="544.2" y1="369.16" x2="542.3" y2="369.16" stroke="#000" stroke-width="1" />
<text x="350.9" y="373.81" font-size="13" text-anchor="end" >80</text>
<line x1="353.5" y1="402.71" x2="355.4" y2="402.71" stroke="#000" stroke-width="1" />
<line x1="544.2" y1="402.71" x2="542.3" y2="402.71" stroke="#000" stroke-width="1" />
<text x="350.9" y="407.37" font-size="13" text-anchor="end" >60</text>
<line x1="353.5" y1="436.27" x2="355.4" y2="436.27" stroke="#000" stroke-width="1" />
<line x1="544.2" y1="436.27" x2="542.3" y2="436.27" stroke="#000" stroke-width="1" />
<text x="350.9" y="440.92" font-size="13" text-anchor="end" >40</text>
<line x1="353.5" y1="469.82" x2="355.4" y2="469.82" stroke="#000" stroke-width="1" />
<line x1="544.2" y1="469.82" x2="542.3" y2="469.82" stroke="#000" stroke-width="1" />
<text x="350.9" y="474.48" font-size="13" text-anchor="end" >20</text>
<text x="351.5" y="515.85" font-size="13" text-anchor="middle" >-400</text>
<line x1="412.18" y1="501.7" x2="412.18" y2="499.8" stroke="#000" stroke-width="1" />
<line x1="412.18" y1="335.6" x2="412.18" y2="337.5" stroke="#000" stroke-width="1" />
<text x="412.18" y="515.85" font-size="13" text-anchor="middle" >0</text>
<line x1="470.85" y1="501.7" x2="470.85" y2="499.8" stroke="#000" stroke-width="1" />
<line x1="470.85" y1="335.6" x2="470.85" y2="337.5" stroke="#000" stroke-width="1" />
<text x="470.85" y="515.85" font-size="13" text-anchor="middle" >400</text>
<line x1="529.53" y1="501.7" x2="529.53" y2="499.8" stroke="#000" stroke-width="1" />
<line x1="529.53" y1="335.6" x2="529.53" y2="337.5" stroke="#000" stroke-width="1" />
<text x="529.53" y="515.85" font-size="13" text-anchor="middle" >800</text>
<text x="448.8" y="535.99" font-size="17" text-anchor="middle" textLength="99" lengthAdjust="spacingAndGlyphs" >Latency (ms)</text>
<text x="319.4" y="425.04" font-size="17" text-anchor="middle" textLength="117.5" lengthAdjust="spacingAndGlyphs" transform="rotate(-90 319.4 418.95)" >Frequency (Hz)</text>
<line x1="411.88" y1="335.6" x2="411.88" y2="501.7" stroke="#0a0a18" stroke-width="1.75" stroke-dasharray="10.4 5.3" />
<text x="381.4" y="363.03" font-size="13.5" text-anchor="middle" fill="#111" textLength="50.5" lengthAdjust="spacingAndGlyphs" >Cz-nose</text>
<rect x="552" y="352.6" width="6.6" height="50.3" fill="url(#gHSV)" stroke="#2a2a2a" stroke-width="0.6" />
<text x="555.3" y="350.39" font-size="10.6" text-anchor="middle" >0.05</text>
<text x="556.6" y="413.39" font-size="10.6" text-anchor="middle" >-0.05</text>
<text x="568.5" y="381.33" font-size="10" text-anchor="middle" transform="rotate(-90 568.5 377.75)" >Mag. (<tspan font-family="Liberation Serif">µ</tspan>V)</text>
<rect x="552" y="435.5" width="6.6" height="49.8" fill="url(#gHSV)" stroke="#2a2a2a" stroke-width="0.6" />
<text x="555.3" y="432.69" font-size="10.6" text-anchor="middle" >10</text>
<text x="555.7" y="495.79" font-size="10.6" text-anchor="middle" >-1</text>
<text x="568.5" y="463.98" font-size="10" text-anchor="middle" transform="rotate(-90 568.5 460.4)" >Mag. (<tspan font-family="Liberation Serif">µ</tspan>V)</text>
<g filter="url(#h5)">
<rect x="605.5" y="305.6" width="250.7" height="143.89" fill="#939393" />
<g filter="url(#b6)">
<ellipse cx="657.5" cy="402.71" rx="30" ry="14" fill="#7d7d7d" opacity="0.8"/>
<ellipse cx="767.52" cy="390.97" rx="44" ry="12" fill="#a8a8a8" opacity="0.6"/>
<ellipse cx="799.8" cy="411.1" rx="34" ry="7" fill="#7a7a7a" opacity="0.8"/>
<ellipse cx="738.18" cy="364.12" rx="26" ry="8" fill="#adadad" opacity="0.6"/>
<ellipse cx="661.9" cy="352.38" rx="30" ry="8" fill="#949494" opacity="0.6"/>
</g>
<g filter="url(#b2)">
<ellipse cx="716.18" cy="375.87" rx="6" ry="16" fill="#e0e0e0"/>
<ellipse cx="716.18" cy="374.19" rx="4" ry="8" fill="#ffffff"/>
<ellipse cx="716.18" cy="372.51" rx="2.5" ry="4" fill="#ffffff"/>
<ellipse cx="716.18" cy="394.32" rx="3" ry="4" fill="#cccccc" opacity="0.9"/>
<ellipse cx="730.85" cy="406.91" rx="5.5" ry="5" fill="#454545" opacity="0.95"/>
<ellipse cx="724.98" cy="416.13" rx="6" ry="3" fill="#3d3d3d" opacity="0.95"/>
<ellipse cx="741.12" cy="416.97" rx="7" ry="2.5" fill="#3d3d3d" opacity="0.9"/>
<ellipse cx="758.72" cy="416.13" rx="7" ry="2.5" fill="#474747" opacity="0.85"/>
<ellipse cx="727.92" cy="364.12" rx="4" ry="3" fill="#d1d1d1" opacity="0.9"/>
<ellipse cx="738.92" cy="372.51" rx="5.5" ry="3.5" fill="#dbdbdb" opacity="0.9"/>
<ellipse cx="694.18" cy="412.78" rx="3.5" ry="3" fill="#e0e0e0" opacity="0.95"/>
<ellipse cx="824.73" cy="399.36" rx="4" ry="6" fill="#e6e6e6" opacity="0.9"/>
<ellipse cx="766.06" cy="385.93" rx="6" ry="4" fill="#c7c7c7" opacity="0.8"/>
<ellipse cx="783.66" cy="392.64" rx="6" ry="4" fill="#c7c7c7" opacity="0.7"/>
<ellipse cx="796.86" cy="377.54" rx="5" ry="4" fill="#c2c2c2" opacity="0.7"/>
<ellipse cx="752.85" cy="397.68" rx="5" ry="4" fill="#c4c4c4" opacity="0.7"/>
<ellipse cx="776.32" cy="407.74" rx="8" ry="3" fill="#6b6b6b" opacity="0.7"/>
<ellipse cx="811.53" cy="409.42" rx="8" ry="3" fill="#6e6e6e" opacity="0.7"/>
<ellipse cx="650.17" cy="409.42" rx="8" ry="4" fill="#707070" opacity="0.7"/>
<ellipse cx="679.51" cy="399.36" rx="7" ry="5" fill="#737373" opacity="0.7"/>
</g>
</g>
<g filter="url(#h6)">
<rect x="605.5" y="389.49" width="250.7" height="142.21" fill="#242424" />
<g filter="url(#b8)">
<ellipse cx="653.1" cy="493.31" rx="30" ry="10" fill="#2e2e2e" opacity="0.8"/>
<ellipse cx="789.53" cy="453.04" rx="45" ry="25" fill="#212121" opacity="0.6"/>
<ellipse cx="818.87" cy="469.82" rx="14" ry="20" fill="#1f1f1f" opacity="0.6"/>
<ellipse cx="727.92" cy="494.99" rx="42" ry="12" fill="#343434" opacity="0.9"/>
<ellipse cx="716.18" cy="466.47" rx="14" ry="22" fill="#2a2a2a" opacity="0.7"/>
</g>
<g filter="url(#b3)">
<ellipse cx="723.52" cy="494.99" rx="36" ry="12" fill="#474747"/>
<ellipse cx="782.19" cy="498.18" rx="52" ry="3" fill="#545454" opacity="0.95"/>
<ellipse cx="749.92" cy="499.02" rx="12" ry="3.4" fill="#616161" opacity="0.9"/>
</g>
<g filter="url(#b1_5)">
<rect x="761" y="480.8" width="70" height="9.4" fill="#131313"/>
<rect x="767" y="486" width="70" height="5" fill="#090909"/>
</g>
<g filter="url(#b1_5)">
<path d="M753 497.4 C775 494.4 800 496.6 828 500.8" stroke="#575757" stroke-width="7.5" fill="none"/>
<path d="M753 497.8 C775 494.8 800 497 828 501.2" stroke="#808080" stroke-width="4.2" fill="none"/>
</g>
<g filter="url(#b1)">
<path d="M702.4 504 L704 497.4 L707.8 493 L713 490.8 L725 491.3 L735 492.8 L743.6 494.2 L748.6 496.6 L752.6 498.4 L753.8 504 Z" fill="#ffffff" />
</g>
</g>
<line x1="635.5" y1="419.49" x2="826.2" y2="419.49" stroke="#fff" stroke-width="1.5" />
<rect x="708.9" y="360.7" width="14.5" height="42.1" fill="none" stroke="#111" stroke-width="1.9" />
<rect x="700.9" y="485.2" width="44.1" height="17" fill="none" stroke="#fff" stroke-width="1.5" />
<rect x="759.5" y="479.8" width="66.1" height="11.4" fill="none" stroke="#ffdcff" stroke-width="1.5" />
<text x="716.4" y="355.13" font-size="13.5" text-anchor="middle" fill="#1a1a1a" ><tspan font-family="Liberation Serif">γ</tspan>-ERS</text>
<text x="723.2" y="481.43" font-size="13.5" text-anchor="middle" fill="#fff" >ERP</text>
<text x="792.8" y="474.3" font-size="13.7" text-anchor="middle" fill="#ffc8ff" ><tspan font-family="Liberation Serif">α</tspan>-ERD</text>
<rect x="635.5" y="335.6" width="190.7" height="166.1" fill="none" stroke="#111" stroke-width="1.1" />
<text x="632.9" y="341.05" font-size="13" text-anchor="end" >100</text>
<line x1="635.5" y1="369.16" x2="637.4" y2="369.16" stroke="#000" stroke-width="1" />
<line x1="826.2" y1="369.16" x2="824.3" y2="369.16" stroke="#000" stroke-width="1" />
<text x="632.9" y="373.81" font-size="13" text-anchor="end" >80</text>
<line x1="635.5" y1="402.71" x2="637.4" y2="402.71" stroke="#000" stroke-width="1" />
<line x1="826.2" y1="402.71" x2="824.3" y2="402.71" stroke="#000" stroke-width="1" />
<text x="632.9" y="407.37" font-size="13" text-anchor="end" >60</text>
<line x1="635.5" y1="436.27" x2="637.4" y2="436.27" stroke="#000" stroke-width="1" />
<line x1="826.2" y1="436.27" x2="824.3" y2="436.27" stroke="#000" stroke-width="1" />
<text x="632.9" y="440.92" font-size="13" text-anchor="end" >40</text>
<line x1="635.5" y1="469.82" x2="637.4" y2="469.82" stroke="#000" stroke-width="1" />
<line x1="826.2" y1="469.82" x2="824.3" y2="469.82" stroke="#000" stroke-width="1" />
<text x="632.9" y="474.48" font-size="13" text-anchor="end" >20</text>
<text x="633.5" y="515.85" font-size="13" text-anchor="middle" >-400</text>
<line x1="694.18" y1="501.7" x2="694.18" y2="499.8" stroke="#000" stroke-width="1" />
<line x1="694.18" y1="335.6" x2="694.18" y2="337.5" stroke="#000" stroke-width="1" />
<text x="694.18" y="515.85" font-size="13" text-anchor="middle" >0</text>
<line x1="752.85" y1="501.7" x2="752.85" y2="499.8" stroke="#000" stroke-width="1" />
<line x1="752.85" y1="335.6" x2="752.85" y2="337.5" stroke="#000" stroke-width="1" />
<text x="752.85" y="515.85" font-size="13" text-anchor="middle" >400</text>
<line x1="811.53" y1="501.7" x2="811.53" y2="499.8" stroke="#000" stroke-width="1" />
<line x1="811.53" y1="335.6" x2="811.53" y2="337.5" stroke="#000" stroke-width="1" />
<text x="811.53" y="515.85" font-size="13" text-anchor="middle" >800</text>
<text x="730.8" y="535.99" font-size="17" text-anchor="middle" textLength="99" lengthAdjust="spacingAndGlyphs" >Latency (ms)</text>
<text x="601.4" y="425.04" font-size="17" text-anchor="middle" textLength="117.5" lengthAdjust="spacingAndGlyphs" transform="rotate(-90 601.4 418.95)" >Frequency (Hz)</text>
<line x1="693.88" y1="335.6" x2="693.88" y2="501.7" stroke="#0a0a18" stroke-width="1.75" stroke-dasharray="10.4 5.3" />
<text x="663.4" y="363.03" font-size="13.5" text-anchor="middle" fill="#111" textLength="50.5" lengthAdjust="spacingAndGlyphs" >Cz-nose</text>
<rect x="834" y="352.6" width="6.6" height="50.3" fill="url(#gHSV)" stroke="#2a2a2a" stroke-width="0.6" />
<text x="840.3" y="350.39" font-size="10.6" text-anchor="middle" >0.015</text>
<text x="842.9" y="413.39" font-size="10.6" text-anchor="middle" >-0.015</text>
<text x="850.5" y="381.33" font-size="10" text-anchor="middle" transform="rotate(-90 850.5 377.75)" >Mag. (<tspan font-family="Liberation Serif">µ</tspan>V)</text>
<rect x="834" y="435.5" width="6.6" height="49.8" fill="url(#gHSV)" stroke="#2a2a2a" stroke-width="0.6" />
<text x="837.3" y="432.69" font-size="10.6" text-anchor="middle" >10</text>
<text x="837.7" y="495.79" font-size="10.6" text-anchor="middle" >-1</text>
<text x="850.5" y="463.98" font-size="10" text-anchor="middle" transform="rotate(-90 850.5 460.4)" >Mag. (<tspan font-family="Liberation Serif">µ</tspan>V)</text>
<circle cx="215.3" cy="81.7" r="26.7" fill="#38ffc6" opacity="0.35"/>
<path d="M211.3 57.7 L215.3 53.4 L219.3 57.7" fill="#fff" stroke="#222" stroke-width="0.8" stroke-linejoin="round"/>
<path d="M190.7 76.2 C189.4 75.2 187.8 75.7 187.8 78.7 L187.8 86.2 C187.8 89.2 189.4 89.7 190.7 88.7" fill="#38ffc6" fill-opacity="0.55" stroke="#222" stroke-width="0.8"/>
<path d="M239.9 76.2 C241.2 75.2 242.8 75.7 242.8 78.7 L242.8 86.2 C242.8 89.2 241.2 89.7 239.9 88.7" fill="#38ffc6" fill-opacity="0.55" stroke="#222" stroke-width="0.8"/>
<g clip-path="url(#t7)">
<circle cx="215.3" cy="81.7" r="26.9" fill="#38ffc6"/>
<ellipse cx="215.3" cy="80.95" rx="24.65" ry="23.16" fill="#0fffef" stroke="#16200e" stroke-width="0.6"/>
<ellipse cx="214.8" cy="80.21" rx="22.16" ry="19.67" fill="#00e5ff" stroke="#16200e" stroke-width="0.6"/>
<ellipse cx="214.55" cy="79.71" rx="19.42" ry="16.43" fill="#00b7ff" stroke="#16200e" stroke-width="0.6"/>
<ellipse cx="214.06" cy="79.71" rx="16.68" ry="13.7" fill="#0089ff" stroke="#16200e" stroke-width="0.6"/>
<ellipse cx="213.81" cy="79.71" rx="13.94" ry="11.21" fill="#005bff" stroke="#16200e" stroke-width="0.6"/>
<ellipse cx="213.56" cy="79.96" rx="11.21" ry="8.96" fill="#0032ff" stroke="#16200e" stroke-width="0.6"/>
<ellipse cx="213.31" cy="80.21" rx="8.22" ry="6.47" fill="#000fff" stroke="#16200e" stroke-width="0.6"/>
<ellipse cx="213.31" cy="80.21" rx="4.73" ry="3.73" fill="#0000f4" stroke="#16200e" stroke-width="0.6"/>
<circle cx="215.3" cy="81.7" r="26.9" fill="#fff" opacity="0.1"/>
</g>
<circle cx="215.3" cy="81.7" r="24.9" fill="none" stroke="#1c2414" stroke-width="1.3"/>
<path d="M215.3 81.7h0.01M220.78 81.7h0.01M218.04 86.44h0.01M212.56 86.44h0.01M209.82 81.7h0.01M212.56 76.96h0.01M218.04 76.96h0.01M225.82 83.71h0.01M222.63 89.51h0.01M216.64 92.32h0.01M210.14 91.08h0.01M205.61 86.26h0.01M204.78 79.69h0.01M207.97 73.89h0.01M213.96 71.08h0.01M220.46 72.32h0.01M224.99 77.14h0.01M231.24 81.7h0.01M229.66 88.61h0.01M225.24 94.16h0.01M218.85 97.24h0.01M211.75 97.24h0.01M205.36 94.16h0.01M200.94 88.61h0.01M199.36 81.7h0.01M200.94 74.79h0.01M205.36 69.24h0.01M211.75 66.16h0.01M218.85 66.16h0.01M225.24 69.24h0.01M229.66 74.79h0.01M236.17 83.16h0.01M234.41 90.21h0.01M230.35 96.23h0.01M224.47 100.5h0.01M217.49 102.5h0.01M210.24 101.99h0.01M203.6 99.04h0.01M198.38 93.99h0.01M195.19 87.47h0.01M194.43 80.24h0.01M196.19 73.19h0.01M200.25 67.17h0.01M206.13 62.9h0.01M213.11 60.9h0.01M220.36 61.41h0.01M227 64.36h0.01M232.22 69.41h0.01M235.41 75.93h0.01M239.94 82.47h0.01M238.49 90.05h0.01M234.78 96.81h0.01M229.16 102.09h0.01M222.18 105.37h0.01M214.53 106.34h0.01M206.95 104.89h0.01M200.19 101.18h0.01M194.91 95.56h0.01M191.63 88.58h0.01M190.66 80.93h0.01M192.11 73.35h0.01M195.82 66.59h0.01M201.44 61.31h0.01M208.42 58.03h0.01M216.07 57.06h0.01M223.65 58.51h0.01M230.41 62.22h0.01M235.69 67.84h0.01M238.97 74.82h0.01" stroke="#10180a" stroke-width="1" stroke-linecap="round" opacity="0.8"/>
<circle cx="240.5" cy="169.1" r="26.7" fill="#99ff65" opacity="0.35"/>
<path d="M236.5 145.1 L240.5 140.8 L244.5 145.1" fill="#fff" stroke="#222" stroke-width="0.8" stroke-linejoin="round"/>
<path d="M215.9 163.6 C214.6 162.6 213 163.1 213 166.1 L213 173.6 C213 176.6 214.6 177.1 215.9 176.1" fill="#99ff65" fill-opacity="0.55" stroke="#222" stroke-width="0.8"/>
<path d="M265.1 163.6 C266.4 162.6 268 163.1 268 166.1 L268 173.6 C268 176.6 266.4 177.1 265.1 176.1" fill="#99ff65" fill-opacity="0.55" stroke="#222" stroke-width="0.8"/>
<g clip-path="url(#t8)">
<circle cx="240.5" cy="169.1" r="26.9" fill="#99ff65"/>
<ellipse cx="240.5" cy="166.61" rx="24.65" ry="22.91" fill="#c6ff38" stroke="#16200e" stroke-width="0.6"/>
<ellipse cx="240.5" cy="165.61" rx="22.41" ry="19.92" fill="#f4ff0a" stroke="#16200e" stroke-width="0.6"/>
<ellipse cx="240.5" cy="165.86" rx="19.42" ry="16.68" fill="#ffdb00" stroke="#16200e" stroke-width="0.6"/>
<ellipse cx="240.5" cy="166.61" rx="16.18" ry="13.7" fill="#ffad00" stroke="#16200e" stroke-width="0.6"/>
<ellipse cx="240.5" cy="167.36" rx="12.95" ry="10.96" fill="#ff7f00" stroke="#16200e" stroke-width="0.6"/>
<ellipse cx="240.5" cy="167.85" rx="9.71" ry="8.22" fill="#ff5600" stroke="#16200e" stroke-width="0.6"/>
<ellipse cx="240.5" cy="168.35" rx="6.47" ry="5.48" fill="#ff3300" stroke="#16200e" stroke-width="0.6"/>
<ellipse cx="240.5" cy="168.6" rx="3.24" ry="2.74" fill="#ff1900" stroke="#16200e" stroke-width="0.6"/>
<circle cx="240.5" cy="169.1" r="26.9" fill="#fff" opacity="0.1"/>
</g>
<circle cx="240.5" cy="169.1" r="24.9" fill="none" stroke="#1c2414" stroke-width="1.3"/>
<path d="M240.5 169.1h0.01M245.98 169.1h0.01M243.24 173.84h0.01M237.76 173.84h0.01M235.02 169.1h0.01M237.76 164.36h0.01M243.24 164.36h0.01M251.02 171.11h0.01M247.83 176.91h0.01M241.84 179.72h0.01M235.34 178.48h0.01M230.81 173.66h0.01M229.98 167.09h0.01M233.17 161.29h0.01M239.16 158.48h0.01M245.66 159.72h0.01M250.19 164.54h0.01M256.44 169.1h0.01M254.86 176.01h0.01M250.44 181.56h0.01M244.05 184.64h0.01M236.95 184.64h0.01M230.56 181.56h0.01M226.14 176.01h0.01M224.56 169.1h0.01M226.14 162.19h0.01M230.56 156.64h0.01M236.95 153.56h0.01M244.05 153.56h0.01M250.44 156.64h0.01M254.86 162.19h0.01M261.37 170.56h0.01M259.61 177.61h0.01M255.55 183.63h0.01M249.67 187.9h0.01M242.69 189.9h0.01M235.44 189.39h0.01M228.8 186.44h0.01M223.58 181.39h0.01M220.39 174.87h0.01M219.63 167.64h0.01M221.39 160.59h0.01M225.45 154.57h0.01M231.33 150.3h0.01M238.31 148.3h0.01M245.56 148.81h0.01M252.2 151.76h0.01M257.42 156.81h0.01M260.61 163.33h0.01M265.14 169.87h0.01M263.69 177.45h0.01M259.98 184.21h0.01M254.36 189.49h0.01M247.38 192.77h0.01M239.73 193.74h0.01M232.15 192.29h0.01M225.39 188.58h0.01M220.11 182.96h0.01M216.83 175.98h0.01M215.86 168.33h0.01M217.31 160.75h0.01M221.02 153.99h0.01M226.64 148.71h0.01M233.62 145.43h0.01M241.27 144.46h0.01M248.85 145.91h0.01M255.61 149.62h0.01M260.89 155.24h0.01M264.17 162.22h0.01" stroke="#10180a" stroke-width="1" stroke-linecap="round" opacity="0.8"/>
<circle cx="495.3" cy="82.6" r="26.7" fill="#32ffcc" opacity="0.35"/>
<path d="M491.3 58.6 L495.3 54.3 L499.3 58.6" fill="#fff" stroke="#222" stroke-width="0.8" stroke-linejoin="round"/>
<path d="M470.7 77.1 C469.4 76.1 467.8 76.6 467.8 79.6 L467.8 87.1 C467.8 90.1 469.4 90.6 470.7 89.6" fill="#32ffcc" fill-opacity="0.55" stroke="#222" stroke-width="0.8"/>
<path d="M519.9 77.1 C521.2 76.1 522.8 76.6 522.8 79.6 L522.8 87.1 C522.8 90.1 521.2 90.6 519.9 89.6" fill="#32ffcc" fill-opacity="0.55" stroke="#222" stroke-width="0.8"/>
<g clip-path="url(#t9)">
<circle cx="495.3" cy="82.6" r="26.9" fill="#32ffcc"/>
<ellipse cx="495.3" cy="83.35" rx="24.65" ry="23.16" fill="#0fffef" stroke="#16200e" stroke-width="0.6"/>
<ellipse cx="495.55" cy="83.84" rx="22.41" ry="20.92" fill="#00eaff" stroke="#16200e" stroke-width="0.6"/>
<ellipse cx="495.8" cy="84.34" rx="19.67" ry="18.43" fill="#00c6ff" stroke="#16200e" stroke-width="0.6"/>
<ellipse cx="495.8" cy="84.59" rx="16.93" ry="15.94" fill="#009eff" stroke="#16200e" stroke-width="0.6"/>
<ellipse cx="495.8" cy="84.84" rx="14.19" ry="13.2" fill="#0075ff" stroke="#16200e" stroke-width="0.6"/>
<ellipse cx="495.8" cy="85.09" rx="11.45" ry="10.46" fill="#0051ff" stroke="#16200e" stroke-width="0.6"/>
<ellipse cx="495.8" cy="85.09" rx="8.47" ry="7.72" fill="#0032ff" stroke="#16200e" stroke-width="0.6"/>
<ellipse cx="495.8" cy="85.09" rx="4.98" ry="4.48" fill="#001eff" stroke="#16200e" stroke-width="0.6"/>
<circle cx="495.3" cy="82.6" r="26.9" fill="#fff" opacity="0.1"/>
</g>
<circle cx="495.3" cy="82.6" r="24.9" fill="none" stroke="#1c2414" stroke-width="1.3"/>
<path d="M495.3 82.6h0.01M500.78 82.6h0.01M498.04 87.34h0.01M492.56 87.34h0.01M489.82 82.6h0.01M492.56 77.86h0.01M498.04 77.86h0.01M505.82 84.61h0.01M502.63 90.41h0.01M496.64 93.22h0.01M490.14 91.98h0.01M485.61 87.16h0.01M484.78 80.59h0.01M487.97 74.79h0.01M493.96 71.98h0.01M500.46 73.22h0.01M504.99 78.04h0.01M511.24 82.6h0.01M509.66 89.51h0.01M505.24 95.06h0.01M498.85 98.14h0.01M491.75 98.14h0.01M485.36 95.06h0.01M480.94 89.51h0.01M479.36 82.6h0.01M480.94 75.69h0.01M485.36 70.14h0.01M491.75 67.06h0.01M498.85 67.06h0.01M505.24 70.14h0.01M509.66 75.69h0.01M516.17 84.06h0.01M514.41 91.11h0.01M510.35 97.13h0.01M504.47 101.4h0.01M497.49 103.4h0.01M490.24 102.89h0.01M483.6 99.94h0.01M478.38 94.89h0.01M475.19 88.37h0.01M474.43 81.14h0.01M476.19 74.09h0.01M480.25 68.07h0.01M486.13 63.8h0.01M493.11 61.8h0.01M500.36 62.31h0.01M507 65.26h0.01M512.22 70.31h0.01M515.41 76.83h0.01M519.94 83.37h0.01M518.49 90.95h0.01M514.78 97.71h0.01M509.16 102.99h0.01M502.18 106.27h0.01M494.53 107.24h0.01M486.95 105.79h0.01M480.19 102.08h0.01M474.91 96.46h0.01M471.63 89.48h0.01M470.66 81.83h0.01M472.11 74.25h0.01M475.82 67.49h0.01M481.44 62.21h0.01M488.42 58.93h0.01M496.07 57.96h0.01M503.65 59.41h0.01M510.41 63.12h0.01M515.69 68.74h0.01M518.97 75.72h0.01" stroke="#10180a" stroke-width="1" stroke-linecap="round" opacity="0.8"/>
<circle cx="521.5" cy="171.2" r="26.7" fill="#ffff00" opacity="0.35"/>
<path d="M517.5 147.2 L521.5 142.9 L525.5 147.2" fill="#fff" stroke="#222" stroke-width="0.8" stroke-linejoin="round"/>
<path d="M496.9 165.7 C495.6 164.7 494 165.2 494 168.2 L494 175.7 C494 178.7 495.6 179.2 496.9 178.2" fill="#ffff00" fill-opacity="0.55" stroke="#222" stroke-width="0.8"/>
<path d="M546.1 165.7 C547.4 164.7 549 165.2 549 168.2 L549 175.7 C549 178.7 547.4 179.2 546.1 178.2" fill="#ffff00" fill-opacity="0.55" stroke="#222" stroke-width="0.8"/>
<g clip-path="url(#t10)">
<circle cx="521.5" cy="171.2" r="26.9" fill="#ffff00"/>
<rect x="500.09" y="145.8" width="48.8" height="51.79" rx="19.92" fill="#ffe500" stroke="#16200e" stroke-width="0.6"/>
<rect x="503.32" y="147.79" width="44.82" height="48.31" rx="17.43" fill="#ffcb00" stroke="#16200e" stroke-width="0.6"/>
<rect x="507.56" y="150.28" width="37.85" height="43.82" rx="13.7" fill="#ffb200" stroke="#16200e" stroke-width="0.6"/>
<rect x="511.04" y="152.77" width="29.88" height="38.84" rx="10.46" fill="#ff9e00" stroke="#16200e" stroke-width="0.6"/>
<rect x="513.78" y="155.76" width="21.91" height="32.87" rx="7.47" fill="#ff8900" stroke="#16200e" stroke-width="0.6"/>
<circle cx="521.5" cy="171.2" r="26.9" fill="#fff" opacity="0.1"/>
</g>
<circle cx="521.5" cy="171.2" r="24.9" fill="none" stroke="#1c2414" stroke-width="1.3"/>
<path d="M521.5 171.2h0.01M526.98 171.2h0.01M524.24 175.94h0.01M518.76 175.94h0.01M516.02 171.2h0.01M518.76 166.46h0.01M524.24 166.46h0.01M532.02 173.21h0.01M528.83 179.01h0.01M522.84 181.82h0.01M516.34 180.58h0.01M511.81 175.76h0.01M510.98 169.19h0.01M514.17 163.39h0.01M520.16 160.58h0.01M526.66 161.82h0.01M531.19 166.64h0.01M537.44 171.2h0.01M535.86 178.11h0.01M531.44 183.66h0.01M525.05 186.74h0.01M517.95 186.74h0.01M511.56 183.66h0.01M507.14 178.11h0.01M505.56 171.2h0.01M507.14 164.29h0.01M511.56 158.74h0.01M517.95 155.66h0.01M525.05 155.66h0.01M531.44 158.74h0.01M535.86 164.29h0.01M542.37 172.66h0.01M540.61 179.71h0.01M536.55 185.73h0.01M530.67 190h0.01M523.69 192h0.01M516.44 191.49h0.01M509.8 188.54h0.01M504.58 183.49h0.01M501.39 176.97h0.01M500.63 169.74h0.01M502.39 162.69h0.01M506.45 156.67h0.01M512.33 152.4h0.01M519.31 150.4h0.01M526.56 150.91h0.01M533.2 153.86h0.01M538.42 158.91h0.01M541.61 165.43h0.01M546.14 171.97h0.01M544.69 179.55h0.01M540.98 186.31h0.01M535.36 191.59h0.01M528.38 194.87h0.01M520.73 195.84h0.01M513.15 194.39h0.01M506.39 190.68h0.01M501.11 185.06h0.01M497.83 178.08h0.01M496.86 170.43h0.01M498.31 162.85h0.01M502.02 156.09h0.01M507.64 150.81h0.01M514.62 147.53h0.01M522.27 146.56h0.01M529.85 148.01h0.01M536.61 151.72h0.01M541.89 157.34h0.01M545.17 164.32h0.01" stroke="#10180a" stroke-width="1" stroke-linecap="round" opacity="0.8"/>
<circle cx="776.6" cy="81.6" r="26.7" fill="#28ffd6" opacity="0.35"/>
<path d="M772.6 57.6 L776.6 53.3 L780.6 57.6" fill="#fff" stroke="#222" stroke-width="0.8" stroke-linejoin="round"/>
<path d="M752 76.1 C750.7 75.1 749.1 75.6 749.1 78.6 L749.1 86.1 C749.1 89.1 750.7 89.6 752 88.6" fill="#28ffd6" fill-opacity="0.55" stroke="#222" stroke-width="0.8"/>
<path d="M801.2 76.1 C802.5 75.1 804.1 75.6 804.1 78.6 L804.1 86.1 C804.1 89.1 802.5 89.6 801.2 88.6" fill="#28ffd6" fill-opacity="0.55" stroke="#222" stroke-width="0.8"/>
<g clip-path="url(#t11)">
<circle cx="776.6" cy="81.6" r="26.9" fill="#28ffd6"/>
<ellipse cx="776.6" cy="81.1" rx="24.65" ry="21.41" fill="#00f9ff" stroke="#16200e" stroke-width="0.6"/>
<ellipse cx="776.1" cy="80.6" rx="22.91" ry="17.43" fill="#00c6ff" stroke="#16200e" stroke-width="0.6"/>
<ellipse cx="775.6" cy="80.35" rx="20.42" ry="14.19" fill="#0093ff" stroke="#16200e" stroke-width="0.6"/>
<ellipse cx="774.86" cy="80.35" rx="17.68" ry="11.45" fill="#0060ff" stroke="#16200e" stroke-width="0.6"/>
<ellipse cx="774.11" cy="80.35" rx="14.69" ry="9.21" fill="#0032ff" stroke="#16200e" stroke-width="0.6"/>
<ellipse cx="773.36" cy="80.6" rx="11.45" ry="6.97" fill="#000aff" stroke="#16200e" stroke-width="0.6"/>
<ellipse cx="772.87" cy="80.6" rx="7.72" ry="4.73" fill="#0000e5" stroke="#16200e" stroke-width="0.6"/>
<ellipse cx="772.62" cy="80.6" rx="3.98" ry="2.49" fill="#0000d1" stroke="#16200e" stroke-width="0.6"/>
<circle cx="776.6" cy="81.6" r="26.9" fill="#fff" opacity="0.1"/>
</g>
<circle cx="776.6" cy="81.6" r="24.9" fill="none" stroke="#1c2414" stroke-width="1.3"/>
<path d="M776.6 81.6h0.01M782.08 81.6h0.01M779.34 86.34h0.01M773.86 86.34h0.01M771.12 81.6h0.01M773.86 76.86h0.01M779.34 76.86h0.01M787.12 83.61h0.01M783.93 89.41h0.01M777.94 92.22h0.01M771.44 90.98h0.01M766.91 86.16h0.01M766.08 79.59h0.01M769.27 73.79h0.01M775.26 70.98h0.01M781.76 72.22h0.01M786.29 77.04h0.01M792.54 81.6h0.01M790.96 88.51h0.01M786.54 94.06h0.01M780.15 97.14h0.01M773.05 97.14h0.01M766.66 94.06h0.01M762.24 88.51h0.01M760.66 81.6h0.01M762.24 74.69h0.01M766.66 69.14h0.01M773.05 66.06h0.01M780.15 66.06h0.01M786.54 69.14h0.01M790.96 74.69h0.01M797.47 83.06h0.01M795.71 90.11h0.01M791.65 96.13h0.01M785.77 100.4h0.01M778.79 102.4h0.01M771.54 101.89h0.01M764.9 98.94h0.01M759.68 93.89h0.01M756.49 87.37h0.01M755.73 80.14h0.01M757.49 73.09h0.01M761.55 67.07h0.01M767.43 62.8h0.01M774.41 60.8h0.01M781.66 61.31h0.01M788.3 64.26h0.01M793.52 69.31h0.01M796.71 75.83h0.01M801.24 82.37h0.01M799.79 89.95h0.01M796.08 96.71h0.01M790.46 101.99h0.01M783.48 105.27h0.01M775.83 106.24h0.01M768.25 104.79h0.01M761.49 101.08h0.01M756.21 95.46h0.01M752.93 88.48h0.01M751.96 80.83h0.01M753.41 73.25h0.01M757.12 66.49h0.01M762.74 61.21h0.01M769.72 57.93h0.01M777.37 56.96h0.01M784.95 58.41h0.01M791.71 62.12h0.01M796.99 67.74h0.01M800.27 74.72h0.01" stroke="#10180a" stroke-width="1" stroke-linecap="round" opacity="0.8"/>
<circle cx="802.8" cy="170.6" r="26.7" fill="#fff400" opacity="0.35"/>
<path d="M798.8 146.6 L802.8 142.3 L806.8 146.6" fill="#fff" stroke="#222" stroke-width="0.8" stroke-linejoin="round"/>
<path d="M778.2 165.1 C776.9 164.1 775.3 164.6 775.3 167.6 L775.3 175.1 C775.3 178.1 776.9 178.6 778.2 177.6" fill="#fff400" fill-opacity="0.55" stroke="#222" stroke-width="0.8"/>
<path d="M827.4 165.1 C828.7 164.1 830.3 164.6 830.3 167.6 L830.3 175.1 C830.3 178.1 828.7 178.6 827.4 177.6" fill="#fff400" fill-opacity="0.55" stroke="#222" stroke-width="0.8"/>
<g clip-path="url(#t12)">
<circle cx="802.8" cy="170.6" r="26.9" fill="#fff400"/>
<ellipse cx="802.8" cy="172.59" rx="24.65" ry="22.41" fill="#ffc600" stroke="#16200e" stroke-width="0.6"/>
<ellipse cx="802.8" cy="172.34" rx="22.41" ry="19.42" fill="#ff9900" stroke="#16200e" stroke-width="0.6"/>
<ellipse cx="802.3" cy="172.09" rx="19.42" ry="16.43" fill="#ff6b00" stroke="#16200e" stroke-width="0.6"/>
<ellipse cx="801.8" cy="171.84" rx="16.18" ry="13.45" fill="#ff4200" stroke="#16200e" stroke-width="0.6"/>
<ellipse cx="801.55" cy="171.6" rx="12.95" ry="10.46" fill="#ff1e00" stroke="#16200e" stroke-width="0.6"/>
<ellipse cx="801.31" cy="171.35" rx="9.46" ry="7.47" fill="#ff0000" stroke="#16200e" stroke-width="0.6"/>
<ellipse cx="801.06" cy="171.35" rx="5.48" ry="4.48" fill="#e50000" stroke="#16200e" stroke-width="0.6"/>
<circle cx="802.8" cy="170.6" r="26.9" fill="#fff" opacity="0.1"/>
</g>
<circle cx="802.8" cy="170.6" r="24.9" fill="none" stroke="#1c2414" stroke-width="1.3"/>
<path d="M802.8 170.6h0.01M808.28 170.6h0.01M805.54 175.34h0.01M800.06 175.34h0.01M797.32 170.6h0.01M800.06 165.86h0.01M805.54 165.86h0.01M813.32 172.61h0.01M810.13 178.41h0.01M804.14 181.22h0.01M797.64 179.98h0.01M793.11 175.16h0.01M792.28 168.59h0.01M795.47 162.79h0.01M801.46 159.98h0.01M807.96 161.22h0.01M812.49 166.04h0.01M818.74 170.6h0.01M817.16 177.51h0.01M812.74 183.06h0.01M806.35 186.14h0.01M799.25 186.14h0.01M792.86 183.06h0.01M788.44 177.51h0.01M786.86 170.6h0.01M788.44 163.69h0.01M792.86 158.14h0.01M799.25 155.06h0.01M806.35 155.06h0.01M812.74 158.14h0.01M817.16 163.69h0.01M823.67 172.06h0.01M821.91 179.11h0.01M817.85 185.13h0.01M811.97 189.4h0.01M804.99 191.4h0.01M797.74 190.89h0.01M791.1 187.94h0.01M785.88 182.89h0.01M782.69 176.37h0.01M781.93 169.14h0.01M783.69 162.09h0.01M787.75 156.07h0.01M793.63 151.8h0.01M800.61 149.8h0.01M807.86 150.31h0.01M814.5 153.26h0.01M819.72 158.31h0.01M822.91 164.83h0.01M827.44 171.37h0.01M825.99 178.95h0.01M822.28 185.71h0.01M816.66 190.99h0.01M809.68 194.27h0.01M802.03 195.24h0.01M794.45 193.79h0.01M787.69 190.08h0.01M782.41 184.46h0.01M779.13 177.48h0.01M778.16 169.83h0.01M779.61 162.25h0.01M783.32 155.49h0.01M788.94 150.21h0.01M795.92 146.93h0.01M803.57 145.96h0.01M811.15 147.41h0.01M817.91 151.12h0.01M823.19 156.74h0.01M826.47 163.72h0.01" stroke="#10180a" stroke-width="1" stroke-linecap="round" opacity="0.8"/>
<circle cx="55.9" cy="297.6" r="26.2" fill="#b7ff47" opacity="0.35"/>
<path d="M51.9 274.1 L55.9 269.8 L59.9 274.1" fill="#fff" stroke="#222" stroke-width="0.8" stroke-linejoin="round"/>
<path d="M31.8 292.1 C30.5 291.1 28.9 291.6 28.9 294.6 L28.9 302.1 C28.9 305.1 30.5 305.6 31.8 304.6" fill="#b7ff47" fill-opacity="0.55" stroke="#222" stroke-width="0.8"/>
<path d="M80 292.1 C81.3 291.1 82.9 291.6 82.9 294.6 L82.9 302.1 C82.9 305.1 81.3 305.6 80 304.6" fill="#b7ff47" fill-opacity="0.55" stroke="#222" stroke-width="0.8"/>
<g clip-path="url(#t13)">
<circle cx="55.9" cy="297.6" r="26.4" fill="#b7ff47"/>
<ellipse cx="55.9" cy="293.94" rx="20.5" ry="17.81" fill="#ffff00" stroke="#16200e" stroke-width="0.6"/>
<ellipse cx="55.9" cy="294.67" rx="17.08" ry="14.64" fill="#ffc600" stroke="#16200e" stroke-width="0.6"/>
<ellipse cx="55.9" cy="295.16" rx="14.15" ry="12.2" fill="#ff9300" stroke="#16200e" stroke-width="0.6"/>
<ellipse cx="55.9" cy="295.4" rx="11.47" ry="10" fill="#ff6000" stroke="#16200e" stroke-width="0.6"/>
<ellipse cx="55.9" cy="295.4" rx="9.03" ry="8.05" fill="#ff2d00" stroke="#16200e" stroke-width="0.6"/>
<ellipse cx="55.9" cy="295.4" rx="6.59" ry="6.1" fill="#ff0500" stroke="#16200e" stroke-width="0.6"/>
<ellipse cx="55.9" cy="295.4" rx="3.9" ry="3.66" fill="#e50000" stroke="#16200e" stroke-width="0.6"/>
<path d="M29.06 307.85 C31.5 308.91 39.23 312.81 43.7 314.19 C48.17 315.57 51.83 316.14 55.9 316.14 C59.97 316.14 63.63 315.57 68.1 314.19 C72.57 312.81 80.3 308.91 82.74 307.85" fill="none" stroke="#16200e" stroke-width="0.6"/>
<circle cx="55.9" cy="297.6" r="26.4" fill="#fff" opacity="0.1"/>
</g>
<circle cx="55.9" cy="297.6" r="24.4" fill="none" stroke="#1c2414" stroke-width="1.3"/>
<path d="M55.9 297.6h0.01M61.27 297.6h0.01M58.58 302.25h0.01M53.22 302.25h0.01M50.53 297.6h0.01M53.22 292.95h0.01M58.58 292.95h0.01M66.21 299.57h0.01M63.08 305.25h0.01M57.21 308.01h0.01M50.85 306.79h0.01M46.41 302.07h0.01M45.59 295.63h0.01M48.72 289.95h0.01M54.59 287.19h0.01M60.95 288.41h0.01M65.39 293.13h0.01M71.52 297.6h0.01M69.97 304.38h0.01M65.64 309.81h0.01M59.37 312.82h0.01M52.43 312.82h0.01M46.16 309.81h0.01M41.83 304.38h0.01M40.28 297.6h0.01M41.83 290.82h0.01M46.16 285.39h0.01M52.43 282.38h0.01M59.37 282.38h0.01M65.64 285.39h0.01M69.97 290.82h0.01M76.35 299.03h0.01M74.62 305.94h0.01M70.64 311.84h0.01M64.88 316.02h0.01M58.04 317.98h0.01M50.94 317.49h0.01M44.44 314.59h0.01M39.32 309.65h0.01M36.2 303.25h0.01M35.45 296.17h0.01M37.18 289.26h0.01M41.16 283.36h0.01M46.92 279.18h0.01M53.76 277.22h0.01M60.86 277.71h0.01M67.36 280.61h0.01M72.48 285.55h0.01M75.6 291.95h0.01M80.04 298.36h0.01M78.63 305.78h0.01M74.99 312.41h0.01M69.48 317.58h0.01M62.64 320.8h0.01M55.14 321.74h0.01M47.72 320.33h0.01M41.09 316.69h0.01M35.92 311.18h0.01M32.7 304.34h0.01M31.76 296.84h0.01M33.17 289.42h0.01M36.81 282.79h0.01M42.32 277.62h0.01M49.16 274.4h0.01M56.66 273.46h0.01M64.08 274.87h0.01M70.71 278.51h0.01M75.88 284.02h0.01M79.1 290.86h0.01" stroke="#10180a" stroke-width="1" stroke-linecap="round" opacity="0.8"/>
<circle cx="146.8" cy="297.6" r="26.2" fill="#60ff9e" opacity="0.35"/>
<path d="M142.8 274.1 L146.8 269.8 L150.8 274.1" fill="#fff" stroke="#222" stroke-width="0.8" stroke-linejoin="round"/>
<path d="M122.7 292.1 C121.4 291.1 119.8 291.6 119.8 294.6 L119.8 302.1 C119.8 305.1 121.4 305.6 122.7 304.6" fill="#60ff9e" fill-opacity="0.55" stroke="#222" stroke-width="0.8"/>
<path d="M170.9 292.1 C172.2 291.1 173.8 291.6 173.8 294.6 L173.8 302.1 C173.8 305.1 172.2 305.6 170.9 304.6" fill="#60ff9e" fill-opacity="0.55" stroke="#222" stroke-width="0.8"/>
<g clip-path="url(#t14)">
<circle cx="146.8" cy="297.6" r="26.4" fill="#60ff9e"/>
<path d="M117.35 303.37 C118.41 303.08 121.49 302.32 123.71 301.64 C125.92 300.97 129.15 300.29 130.63 299.33 C132.12 298.37 132.31 297.41 132.6 295.87 C132.89 294.33 131.92 292.02 132.37 290.09 C132.81 288.17 133.81 285.63 135.25 284.32 C136.7 283.01 139.1 282.63 141.03 282.24 C142.95 281.86 144.88 282.01 146.8 282.01 C148.72 282.01 150.65 281.86 152.57 282.24 C154.5 282.63 156.9 283.01 158.35 284.32 C159.79 285.63 160.79 288.17 161.23 290.09 C161.68 292.02 160.71 294.33 161 295.87 C161.29 297.41 161.39 298.37 162.97 299.33 C164.54 300.29 168.26 300.97 170.47 301.64 C172.69 302.32 175.28 303.08 176.25 303.37 L185.84 336.64 L107.76 336.64 Z" fill="#2dffd1" stroke="#16200e" stroke-width="0.6"/>
<path d="M118.51 309.72 C119.57 309.34 122.55 308.38 124.86 307.42 C127.17 306.45 130.06 305.3 132.37 303.95 C134.68 302.6 136.98 300.91 138.72 299.33 C140.45 297.75 141.41 295.64 142.76 294.48 C144.11 293.33 145.45 292.4 146.8 292.4 C148.15 292.4 149.49 293.33 150.84 294.48 C152.19 295.64 153.15 297.7 154.88 299.33 C156.62 300.97 158.83 302.95 161.23 304.3 C163.64 305.64 167.01 306.51 169.32 307.42 C171.63 308.32 174.13 309.34 175.09 309.72 L185.84 336.64 L107.76 336.64 Z" fill="#00f9ff" stroke="#16200e" stroke-width="0.6"/>
<path d="M119.66 313.19 C120.72 312.71 123.71 311.42 126.01 310.3 C128.32 309.19 131.21 307.68 133.52 306.49 C135.83 305.3 137.66 304.05 139.87 303.14 C142.08 302.24 144.49 301.06 146.8 301.06 C149.11 301.06 151.52 302.24 153.73 303.14 C155.94 304.05 157.77 305.3 160.08 306.49 C162.39 307.68 165.28 309.19 167.59 310.3 C169.89 311.42 172.88 312.71 173.94 313.19 L185.84 336.64 L107.76 336.64 Z" fill="#00d1ff" stroke="#16200e" stroke-width="0.6"/>
<path d="M120.82 316.65 C121.97 316.08 125.44 314.44 127.75 313.19 C130.06 311.94 132.46 310.34 134.68 309.15 C136.89 307.95 139.01 306.8 141.03 306.03 C143.05 305.26 144.88 304.53 146.8 304.53 C148.72 304.53 150.55 305.26 152.57 306.03 C154.59 306.8 156.71 307.95 158.92 309.15 C161.14 310.34 163.54 311.94 165.85 313.19 C168.16 314.44 171.63 316.08 172.78 316.65 L185.84 336.64 L107.76 336.64 Z" fill="#00a8ff" stroke="#16200e" stroke-width="0.6"/>
<path d="M123.13 319.54 C124.28 318.87 127.84 316.85 130.06 315.5 C132.27 314.15 134.39 312.61 136.41 311.46 C138.43 310.3 140.45 309.24 142.18 308.57 C143.91 307.9 145.26 307.42 146.8 307.42 C148.34 307.42 149.69 307.9 151.42 308.57 C153.15 309.24 155.17 310.3 157.19 311.46 C159.21 312.61 161.33 314.15 163.54 315.5 C165.76 316.85 169.32 318.87 170.47 319.54 L185.84 336.64 L107.76 336.64 Z" fill="#007fff" stroke="#16200e" stroke-width="0.6"/>
<ellipse cx="146.8" cy="315.41" rx="11.47" ry="4.88" fill="#0056ff" stroke="#16200e" stroke-width="0.6"/>
<ellipse cx="146.8" cy="315.9" rx="8.05" ry="3.05" fill="#0032ff" stroke="#16200e" stroke-width="0.6"/>
<circle cx="146.8" cy="297.6" r="26.4" fill="#fff" opacity="0.1"/>
</g>
<circle cx="146.8" cy="297.6" r="24.4" fill="none" stroke="#1c2414" stroke-width="1.3"/>
<path d="M146.8 297.6h0.01M152.17 297.6h0.01M149.48 302.25h0.01M144.12 302.25h0.01M141.43 297.6h0.01M144.12 292.95h0.01M149.48 292.95h0.01M157.11 299.57h0.01M153.98 305.25h0.01M148.11 308.01h0.01M141.75 306.79h0.01M137.31 302.07h0.01M136.49 295.63h0.01M139.62 289.95h0.01M145.49 287.19h0.01M151.85 288.41h0.01M156.29 293.13h0.01M162.42 297.6h0.01M160.87 304.38h0.01M156.54 309.81h0.01M150.27 312.82h0.01M143.33 312.82h0.01M137.06 309.81h0.01M132.73 304.38h0.01M131.18 297.6h0.01M132.73 290.82h0.01M137.06 285.39h0.01M143.33 282.38h0.01M150.27 282.38h0.01M156.54 285.39h0.01M160.87 290.82h0.01M167.25 299.03h0.01M165.52 305.94h0.01M161.54 311.84h0.01M155.78 316.02h0.01M148.94 317.98h0.01M141.84 317.49h0.01M135.34 314.59h0.01M130.22 309.65h0.01M127.1 303.25h0.01M126.35 296.17h0.01M128.08 289.26h0.01M132.06 283.36h0.01M137.82 279.18h0.01M144.66 277.22h0.01M151.76 277.71h0.01M158.26 280.61h0.01M163.38 285.55h0.01M166.5 291.95h0.01M170.94 298.36h0.01M169.53 305.78h0.01M165.89 312.41h0.01M160.38 317.58h0.01M153.54 320.8h0.01M146.04 321.74h0.01M138.62 320.33h0.01M131.99 316.69h0.01M126.82 311.18h0.01M123.6 304.34h0.01M122.66 296.84h0.01M124.07 289.42h0.01M127.71 282.79h0.01M133.22 277.62h0.01M140.06 274.4h0.01M147.56 273.46h0.01M154.98 274.87h0.01M161.61 278.51h0.01M166.78 284.02h0.01M170 290.86h0.01" stroke="#10180a" stroke-width="1" stroke-linecap="round" opacity="0.8"/>
<circle cx="237.9" cy="297.6" r="26.2" fill="#c3ff3b" opacity="0.35"/>
<path d="M233.9 274.1 L237.9 269.8 L241.9 274.1" fill="#fff" stroke="#222" stroke-width="0.8" stroke-linejoin="round"/>
<path d="M213.8 292.1 C212.5 291.1 210.9 291.6 210.9 294.6 L210.9 302.1 C210.9 305.1 212.5 305.6 213.8 304.6" fill="#c3ff3b" fill-opacity="0.55" stroke="#222" stroke-width="0.8"/>
<path d="M262 292.1 C263.3 291.1 264.9 291.6 264.9 294.6 L264.9 302.1 C264.9 305.1 263.3 305.6 262 304.6" fill="#c3ff3b" fill-opacity="0.55" stroke="#222" stroke-width="0.8"/>
<g clip-path="url(#t15)">
<circle cx="237.9" cy="297.6" r="26.4" fill="#c3ff3b"/>
<path d="M209.61 287.78 C210.96 287.52 215.38 286.71 217.69 286.17 C220 285.63 221.54 284.94 223.47 284.55 C225.39 284.17 226.55 283.88 229.24 283.86 C231.93 283.84 236.46 284.46 239.63 284.44 C242.81 284.42 246.37 283.53 248.29 283.74 C250.22 283.95 250.22 285.15 251.18 285.71 C252.14 286.26 252.72 286.9 254.07 287.09 C255.41 287.28 257.24 286.94 259.26 286.86 C261.28 286.78 265.04 286.67 266.19 286.63 L276.94 336.64 L198.86 336.64 Z" fill="#adff51" stroke="#16200e" stroke-width="0.6"/>
<path d="M208.45 296.45 C209.51 296.08 212.88 295.08 214.81 294.25 C216.73 293.42 218.27 292.1 220 291.48 C221.73 290.86 223.37 290.67 225.2 290.56 C227.03 290.44 229.72 290.19 230.97 290.79 C232.22 291.38 232.22 292.9 232.7 294.14 C233.18 295.37 233.05 297.12 233.86 298.18 C234.67 299.24 236.36 300.45 237.55 300.49 C238.75 300.53 240.19 299.56 241.02 298.41 C241.85 297.25 241.98 294.83 242.52 293.56 C243.06 292.29 242.81 291.36 244.25 290.79 C245.69 290.21 249.06 289.98 251.18 290.09 C253.3 290.21 255.22 290.94 256.95 291.48 C258.69 292.02 259.84 292.75 261.57 293.33 C263.3 293.9 266.38 294.67 267.35 294.94 L276.94 336.64 L198.86 336.64 Z" fill="#8bff73" stroke="#16200e" stroke-width="0.6"/>
<path d="M211.92 313.77 C213.46 314.05 218.08 315.07 221.16 315.5 C224.24 315.92 227.6 316.11 230.39 316.31 C233.18 316.5 235.4 316.65 237.9 316.65 C240.4 316.65 242.62 316.5 245.41 316.31 C248.2 316.11 251.56 315.92 254.64 315.5 C257.72 315.07 262.34 314.05 263.88 313.77 L276.94 336.64 L198.86 336.64 Z" fill="#a3ff5b" stroke="#16200e" stroke-width="0.6"/>
<path d="M218.85 317.23 C220.39 317.52 224.91 318.56 228.08 318.96 C231.26 319.37 234.63 319.66 237.9 319.66 C241.17 319.66 244.54 319.37 247.72 318.96 C250.89 318.56 255.41 317.52 256.95 317.23" fill="none" stroke="#16200e" stroke-width="0.6"/>
<path d="M223.47 319.89 C224.81 320.12 229.14 320.98 231.55 321.27 C233.95 321.56 235.78 321.62 237.9 321.62 C240.02 321.62 241.85 321.56 244.25 321.27 C246.66 320.98 250.99 320.12 252.33 319.89" fill="none" stroke="#16200e" stroke-width="0.6"/>
<path d="M233.86 274.51 C234.53 274.7 236.55 275.66 237.9 275.66 C239.25 275.66 241.27 274.7 241.94 274.51" fill="none" stroke="#16200e" stroke-width="0.6"/>
<circle cx="237.9" cy="297.6" r="26.4" fill="#fff" opacity="0.1"/>
</g>
<circle cx="237.9" cy="297.6" r="24.4" fill="none" stroke="#1c2414" stroke-width="1.3"/>
<path d="M237.9 297.6h0.01M243.27 297.6h0.01M240.58 302.25h0.01M235.22 302.25h0.01M232.53 297.6h0.01M235.22 292.95h0.01M240.58 292.95h0.01M248.21 299.57h0.01M245.08 305.25h0.01M239.21 308.01h0.01M232.85 306.79h0.01M228.41 302.07h0.01M227.59 295.63h0.01M230.72 289.95h0.01M236.59 287.19h0.01M242.95 288.41h0.01M247.39 293.13h0.01M253.52 297.6h0.01M251.97 304.38h0.01M247.64 309.81h0.01M241.37 312.82h0.01M234.43 312.82h0.01M228.16 309.81h0.01M223.83 304.38h0.01M222.28 297.6h0.01M223.83 290.82h0.01M228.16 285.39h0.01M234.43 282.38h0.01M241.37 282.38h0.01M247.64 285.39h0.01M251.97 290.82h0.01M258.35 299.03h0.01M256.62 305.94h0.01M252.64 311.84h0.01M246.88 316.02h0.01M240.04 317.98h0.01M232.94 317.49h0.01M226.44 314.59h0.01M221.32 309.65h0.01M218.2 303.25h0.01M217.45 296.17h0.01M219.18 289.26h0.01M223.16 283.36h0.01M228.92 279.18h0.01M235.76 277.22h0.01M242.86 277.71h0.01M249.36 280.61h0.01M254.48 285.55h0.01M257.6 291.95h0.01M262.04 298.36h0.01M260.63 305.78h0.01M256.99 312.41h0.01M251.48 317.58h0.01M244.64 320.8h0.01M237.14 321.74h0.01M229.72 320.33h0.01M223.09 316.69h0.01M217.92 311.18h0.01M214.7 304.34h0.01M213.76 296.84h0.01M215.17 289.42h0.01M218.81 282.79h0.01M224.32 277.62h0.01M231.16 274.4h0.01M238.66 273.46h0.01M246.08 274.87h0.01M252.71 278.51h0.01M257.88 284.02h0.01M261.1 290.86h0.01" stroke="#10180a" stroke-width="1" stroke-linecap="round" opacity="0.8"/>
<circle cx="337.7" cy="297.6" r="26.2" fill="#ffff00" opacity="0.35"/>
<path d="M333.7 274.1 L337.7 269.8 L341.7 274.1" fill="#fff" stroke="#222" stroke-width="0.8" stroke-linejoin="round"/>
<path d="M313.6 292.1 C312.3 291.1 310.7 291.6 310.7 294.6 L310.7 302.1 C310.7 305.1 312.3 305.6 313.6 304.6" fill="#ffff00" fill-opacity="0.55" stroke="#222" stroke-width="0.8"/>
<path d="M361.8 292.1 C363.1 291.1 364.7 291.6 364.7 294.6 L364.7 302.1 C364.7 305.1 363.1 305.6 361.8 304.6" fill="#ffff00" fill-opacity="0.55" stroke="#222" stroke-width="0.8"/>
<g clip-path="url(#t16)">
<circle cx="337.7" cy="297.6" r="26.4" fill="#ffff00"/>
<path d="M303.75 304.07 C305.64 304.87 311.57 307.51 315.07 308.92 C318.57 310.32 322.07 311.39 324.77 312.47 C327.46 313.55 329.08 314.36 331.23 315.38 C333.39 316.41 335.54 318.62 337.7 318.62 C339.86 318.62 342.01 316.41 344.17 315.38 C346.32 314.36 347.94 313.55 350.63 312.47 C353.33 311.39 356.83 310.32 360.33 308.92 C363.83 307.51 369.76 304.87 371.65 304.07 L376.74 336.64 L298.66 336.64 Z" fill="#cbff33" stroke="#16200e" stroke-width="0.6"/>
<ellipse cx="337.7" cy="294.67" rx="20.98" ry="17.32" fill="#ffd600" stroke="#16200e" stroke-width="0.6"/>
<ellipse cx="337.7" cy="294.67" rx="17.08" ry="14.15" fill="#ffb200" stroke="#16200e" stroke-width="0.6"/>
<ellipse cx="337.7" cy="294.92" rx="13.42" ry="11.22" fill="#ff8e00" stroke="#16200e" stroke-width="0.6"/>
<ellipse cx="337.7" cy="295.16" rx="10.25" ry="8.78" fill="#ff6b00" stroke="#16200e" stroke-width="0.6"/>
<ellipse cx="337.7" cy="295.65" rx="6.34" ry="5.86" fill="#ff4c00" stroke="#16200e" stroke-width="0.6"/>
<circle cx="337.7" cy="297.6" r="26.4" fill="#fff" opacity="0.1"/>
</g>
<circle cx="337.7" cy="297.6" r="24.4" fill="none" stroke="#1c2414" stroke-width="1.3"/>
<path d="M337.7 297.6h0.01M343.07 297.6h0.01M340.38 302.25h0.01M335.02 302.25h0.01M332.33 297.6h0.01M335.02 292.95h0.01M340.38 292.95h0.01M348.01 299.57h0.01M344.88 305.25h0.01M339.01 308.01h0.01M332.65 306.79h0.01M328.21 302.07h0.01M327.39 295.63h0.01M330.52 289.95h0.01M336.39 287.19h0.01M342.75 288.41h0.01M347.19 293.13h0.01M353.32 297.6h0.01M351.77 304.38h0.01M347.44 309.81h0.01M341.17 312.82h0.01M334.23 312.82h0.01M327.96 309.81h0.01M323.63 304.38h0.01M322.08 297.6h0.01M323.63 290.82h0.01M327.96 285.39h0.01M334.23 282.38h0.01M341.17 282.38h0.01M347.44 285.39h0.01M351.77 290.82h0.01M358.15 299.03h0.01M356.42 305.94h0.01M352.44 311.84h0.01M346.68 316.02h0.01M339.84 317.98h0.01M332.74 317.49h0.01M326.24 314.59h0.01M321.12 309.65h0.01M318 303.25h0.01M317.25 296.17h0.01M318.98 289.26h0.01M322.96 283.36h0.01M328.72 279.18h0.01M335.56 277.22h0.01M342.66 277.71h0.01M349.16 280.61h0.01M354.28 285.55h0.01M357.4 291.95h0.01M361.84 298.36h0.01M360.43 305.78h0.01M356.79 312.41h0.01M351.28 317.58h0.01M344.44 320.8h0.01M336.94 321.74h0.01M329.52 320.33h0.01M322.89 316.69h0.01M317.72 311.18h0.01M314.5 304.34h0.01M313.56 296.84h0.01M314.97 289.42h0.01M318.61 282.79h0.01M324.12 277.62h0.01M330.96 274.4h0.01M338.46 273.46h0.01M345.88 274.87h0.01M352.51 278.51h0.01M357.68 284.02h0.01M360.9 290.86h0.01" stroke="#10180a" stroke-width="1" stroke-linecap="round" opacity="0.8"/>
<circle cx="428.9" cy="297.6" r="26.2" fill="#60ff9e" opacity="0.35"/>
<path d="M424.9 274.1 L428.9 269.8 L432.9 274.1" fill="#fff" stroke="#222" stroke-width="0.8" stroke-linejoin="round"/>
<path d="M404.8 292.1 C403.5 291.1 401.9 291.6 401.9 294.6 L401.9 302.1 C401.9 305.1 403.5 305.6 404.8 304.6" fill="#60ff9e" fill-opacity="0.55" stroke="#222" stroke-width="0.8"/>
<path d="M453 292.1 C454.3 291.1 455.9 291.6 455.9 294.6 L455.9 302.1 C455.9 305.1 454.3 305.6 453 304.6" fill="#60ff9e" fill-opacity="0.55" stroke="#222" stroke-width="0.8"/>
<g clip-path="url(#t17)">
<circle cx="428.9" cy="297.6" r="26.4" fill="#60ff9e"/>
<path d="M397.38 302.77 C398.45 302.45 401.42 301.51 403.84 300.83 C406.27 300.16 409.64 299.49 411.93 298.73 C414.22 297.98 415.91 297.36 417.58 296.31 C419.25 295.26 420.06 293.21 421.95 292.43 C423.83 291.65 426.58 291.62 428.9 291.62 C431.22 291.62 433.97 291.65 435.85 292.43 C437.74 293.21 438.55 295.26 440.22 296.31 C441.89 297.36 443.58 297.98 445.87 298.73 C448.16 299.49 451.53 300.16 453.96 300.83 C456.38 301.51 459.35 302.45 460.42 302.77 L467.94 336.64 L389.86 336.64 Z" fill="#23ffdb" stroke="#16200e" stroke-width="0.6"/>
<path d="M397.38 307.62 C398.72 307.16 402.23 305.87 405.46 304.87 C408.69 303.88 412.87 302.48 416.78 301.64 C420.68 300.81 424.86 299.86 428.9 299.86 C432.94 299.86 437.12 300.81 441.02 301.64 C444.93 302.48 449.11 303.88 452.34 304.87 C455.57 305.87 459.08 307.16 460.42 307.62 L467.94 336.64 L389.86 336.64 Z" fill="#00efff" stroke="#16200e" stroke-width="0.6"/>
<path d="M397.38 311.34 C398.99 310.8 403.57 309.19 407.08 308.11 C410.58 307.03 414.76 305.68 418.39 304.87 C422.03 304.07 425.4 303.26 428.9 303.26 C432.4 303.26 435.77 304.07 439.41 304.87 C443.04 305.68 447.22 307.03 450.72 308.11 C454.23 309.19 458.81 310.8 460.42 311.34 L467.94 336.64 L389.86 336.64 Z" fill="#00bcff" stroke="#16200e" stroke-width="0.6"/>
<path d="M398.99 314.57 C400.61 313.9 405.33 311.69 408.69 310.53 C412.06 309.37 415.83 308.38 419.2 307.62 C422.57 306.87 425.67 306.01 428.9 306.01 C432.13 306.01 435.23 306.87 438.6 307.62 C441.97 308.38 445.74 309.37 449.11 310.53 C452.47 311.69 457.19 313.9 458.81 314.57 L467.94 336.64 L389.86 336.64 Z" fill="#0093ff" stroke="#16200e" stroke-width="0.6"/>
<path d="M400.61 317.81 C402.23 317.03 407.08 314.39 410.31 313.12 C413.54 311.85 416.91 310.96 420.01 310.21 C423.11 309.45 425.94 308.59 428.9 308.59 C431.86 308.59 434.69 309.45 437.79 310.21 C440.89 310.96 444.26 311.85 447.49 313.12 C450.72 314.39 455.57 317.03 457.19 317.81 L467.94 336.64 L389.86 336.64 Z" fill="#006bff" stroke="#16200e" stroke-width="0.6"/>
<path d="M403.84 321.04 C405.19 320.15 409.1 317.08 411.93 315.71 C414.76 314.33 417.99 313.5 420.82 312.8 C423.65 312.1 426.21 311.5 428.9 311.5 C431.59 311.5 434.15 312.1 436.98 312.8 C439.81 313.5 443.04 314.33 445.87 315.71 C448.7 317.08 452.61 320.15 453.96 321.04 L467.94 336.64 L389.86 336.64 Z" fill="#0047ff" stroke="#16200e" stroke-width="0.6"/>
<ellipse cx="422.31" cy="317.12" rx="4.88" ry="2.44" fill="#0028ff" stroke="#16200e" stroke-width="0.6"/>
<ellipse cx="436.22" cy="317.12" rx="4.88" ry="2.44" fill="#0028ff" stroke="#16200e" stroke-width="0.6"/>
<circle cx="428.9" cy="297.6" r="26.4" fill="#fff" opacity="0.1"/>
</g>
<circle cx="428.9" cy="297.6" r="24.4" fill="none" stroke="#1c2414" stroke-width="1.3"/>
<path d="M428.9 297.6h0.01M434.27 297.6h0.01M431.58 302.25h0.01M426.22 302.25h0.01M423.53 297.6h0.01M426.22 292.95h0.01M431.58 292.95h0.01M439.21 299.57h0.01M436.08 305.25h0.01M430.21 308.01h0.01M423.85 306.79h0.01M419.41 302.07h0.01M418.59 295.63h0.01M421.72 289.95h0.01M427.59 287.19h0.01M433.95 288.41h0.01M438.39 293.13h0.01M444.52 297.6h0.01M442.97 304.38h0.01M438.64 309.81h0.01M432.37 312.82h0.01M425.43 312.82h0.01M419.16 309.81h0.01M414.83 304.38h0.01M413.28 297.6h0.01M414.83 290.82h0.01M419.16 285.39h0.01M425.43 282.38h0.01M432.37 282.38h0.01M438.64 285.39h0.01M442.97 290.82h0.01M449.35 299.03h0.01M447.62 305.94h0.01M443.64 311.84h0.01M437.88 316.02h0.01M431.04 317.98h0.01M423.94 317.49h0.01M417.44 314.59h0.01M412.32 309.65h0.01M409.2 303.25h0.01M408.45 296.17h0.01M410.18 289.26h0.01M414.16 283.36h0.01M419.92 279.18h0.01M426.76 277.22h0.01M433.86 277.71h0.01M440.36 280.61h0.01M445.48 285.55h0.01M448.6 291.95h0.01M453.04 298.36h0.01M451.63 305.78h0.01M447.99 312.41h0.01M442.48 317.58h0.01M435.64 320.8h0.01M428.14 321.74h0.01M420.72 320.33h0.01M414.09 316.69h0.01M408.92 311.18h0.01M405.7 304.34h0.01M404.76 296.84h0.01M406.17 289.42h0.01M409.81 282.79h0.01M415.32 277.62h0.01M422.16 274.4h0.01M429.66 273.46h0.01M437.08 274.87h0.01M443.71 278.51h0.01M448.88 284.02h0.01M452.1 290.86h0.01" stroke="#10180a" stroke-width="1" stroke-linecap="round" opacity="0.8"/>
<circle cx="519.7" cy="297.6" r="26.2" fill="#7fff7f" opacity="0.35"/>
<path d="M515.7 274.1 L519.7 269.8 L523.7 274.1" fill="#fff" stroke="#222" stroke-width="0.8" stroke-linejoin="round"/>
<path d="M495.6 292.1 C494.3 291.1 492.7 291.6 492.7 294.6 L492.7 302.1 C492.7 305.1 494.3 305.6 495.6 304.6" fill="#7fff7f" fill-opacity="0.55" stroke="#222" stroke-width="0.8"/>
<path d="M543.8 292.1 C545.1 291.1 546.7 291.6 546.7 294.6 L546.7 302.1 C546.7 305.1 545.1 305.6 543.8 304.6" fill="#7fff7f" fill-opacity="0.55" stroke="#222" stroke-width="0.8"/>
<g clip-path="url(#t18)">
<circle cx="519.7" cy="297.6" r="26.4" fill="#7fff7f"/>
<path d="M487.37 287.09 C489.52 286.42 496.53 284.21 500.3 283.05 C504.07 281.89 506.77 280.81 510 280.14 C513.23 279.47 516.74 279.12 519.7 279.01 C522.66 278.9 525.22 279.09 527.78 279.49 C530.34 279.9 532.63 280.36 535.06 281.43 C537.48 282.51 539.23 283.94 542.33 285.96 C545.43 287.98 551.76 292.29 553.65 293.56 L558.74 336.64 L480.66 336.64 Z" fill="#60ff9e" stroke="#16200e" stroke-width="0.6"/>
<path d="M485.75 294.37 C487.64 293.56 493.57 290.86 497.07 289.52 C500.57 288.17 503.67 287.09 506.77 286.28 C509.87 285.48 512.83 284.83 515.66 284.67 C518.49 284.51 521.18 284.91 523.74 285.31 C526.3 285.72 528.59 286.39 531.02 287.09 C533.44 287.79 536 288.63 538.29 289.52 C540.58 290.41 541.93 291.08 544.76 292.43 C547.59 293.77 553.51 296.74 555.26 297.6 L558.74 336.64 L480.66 336.64 Z" fill="#47ffb7" stroke="#16200e" stroke-width="0.6"/>
<path d="M484.14 300.02 C486.02 299.22 492.08 296.58 495.45 295.18 C498.82 293.77 501.65 292.56 504.34 291.62 C507.04 290.68 509.06 289.6 511.62 289.52 C514.18 289.44 517.01 290.46 519.7 291.13 C522.39 291.81 525.36 292.86 527.78 293.56 C530.21 294.26 532.23 294.58 534.25 295.34 C536.27 296.09 538.16 296.85 539.91 298.08 C541.66 299.32 542.47 300.43 544.76 302.77 C547.05 305.12 552.17 310.59 553.65 312.15 L558.74 336.64 L480.66 336.64 Z" fill="#32ffcc" stroke="#16200e" stroke-width="0.6"/>
<path d="M498.68 296.31 C499.9 294.91 502.4 294.8 504.34 294.37 C506.28 293.94 508.3 293.07 510.32 293.72 C512.34 294.37 513.56 297.2 516.47 298.25 C519.38 299.3 524.82 299.57 527.78 300.02 C530.75 300.48 532.36 299.78 534.25 300.99 C536.13 302.21 538.96 305.17 539.1 307.3 C539.23 309.43 538.29 312.15 535.06 313.77 C531.82 315.38 524.15 316.19 519.7 317 C515.25 317.81 511.62 319.42 508.38 318.62 C505.15 317.81 502.19 314.79 500.3 312.15 C498.42 309.51 497.34 305.41 497.07 302.77 C496.8 300.13 497.47 297.71 498.68 296.31 Z" fill="#1effe0" stroke="#16200e" stroke-width="0.6"/>
<path d="M500.3 321.04 C500.3 318.83 507.58 320.72 511.62 319.91 C515.66 319.1 520.78 317.27 524.55 316.19 C528.32 315.11 531.69 314.65 534.25 313.44 C536.81 312.23 537.75 309.94 539.91 308.92 C542.06 307.89 544.89 305.68 547.18 307.3 C549.47 308.92 555.26 314.3 553.65 318.62 C552.03 322.93 544.49 330.74 537.48 333.16 C530.48 335.59 517.81 335.18 511.62 333.16 C505.42 331.14 500.3 323.25 500.3 321.04 Z" fill="#42ffbc" stroke="#16200e" stroke-width="0.6"/>
<path d="M511.62 325.4 C513.23 323.38 520.51 322.49 524.55 321.04 C528.59 319.59 532.9 318 535.87 316.68 C538.83 315.36 539.91 313.6 542.33 313.12 C544.76 312.63 549.07 311.5 550.41 313.77 C551.76 316.03 553.65 323.2 550.41 326.7 C547.18 330.2 536.94 333.7 531.02 334.78 C525.09 335.86 518.08 334.73 514.85 333.16 C511.62 331.6 510 327.43 511.62 325.4 Z" fill="#65ff99" stroke="#16200e" stroke-width="0.6"/>
<circle cx="519.7" cy="297.6" r="26.4" fill="#fff" opacity="0.1"/>
</g>
<circle cx="519.7" cy="297.6" r="24.4" fill="none" stroke="#1c2414" stroke-width="1.3"/>
<path d="M519.7 297.6h0.01M525.07 297.6h0.01M522.38 302.25h0.01M517.02 302.25h0.01M514.33 297.6h0.01M517.02 292.95h0.01M522.38 292.95h0.01M530.01 299.57h0.01M526.88 305.25h0.01M521.01 308.01h0.01M514.65 306.79h0.01M510.21 302.07h0.01M509.39 295.63h0.01M512.52 289.95h0.01M518.39 287.19h0.01M524.75 288.41h0.01M529.19 293.13h0.01M535.32 297.6h0.01M533.77 304.38h0.01M529.44 309.81h0.01M523.17 312.82h0.01M516.23 312.82h0.01M509.96 309.81h0.01M505.63 304.38h0.01M504.08 297.6h0.01M505.63 290.82h0.01M509.96 285.39h0.01M516.23 282.38h0.01M523.17 282.38h0.01M529.44 285.39h0.01M533.77 290.82h0.01M540.15 299.03h0.01M538.42 305.94h0.01M534.44 311.84h0.01M528.68 316.02h0.01M521.84 317.98h0.01M514.74 317.49h0.01M508.24 314.59h0.01M503.12 309.65h0.01M500 303.25h0.01M499.25 296.17h0.01M500.98 289.26h0.01M504.96 283.36h0.01M510.72 279.18h0.01M517.56 277.22h0.01M524.66 277.71h0.01M531.16 280.61h0.01M536.28 285.55h0.01M539.4 291.95h0.01M543.84 298.36h0.01M542.43 305.78h0.01M538.79 312.41h0.01M533.28 317.58h0.01M526.44 320.8h0.01M518.94 321.74h0.01M511.52 320.33h0.01M504.89 316.69h0.01M499.72 311.18h0.01M496.5 304.34h0.01M495.56 296.84h0.01M496.97 289.42h0.01M500.61 282.79h0.01M506.12 277.62h0.01M512.96 274.4h0.01M520.46 273.46h0.01M527.88 274.87h0.01M534.51 278.51h0.01M539.68 284.02h0.01M542.9 290.86h0.01" stroke="#10180a" stroke-width="1" stroke-linecap="round" opacity="0.8"/>
<circle cx="619.7" cy="297.6" r="26.2" fill="#ffea00" opacity="0.35"/>
<path d="M615.7 274.1 L619.7 269.8 L623.7 274.1" fill="#fff" stroke="#222" stroke-width="0.8" stroke-linejoin="round"/>
<path d="M595.6 292.1 C594.3 291.1 592.7 291.6 592.7 294.6 L592.7 302.1 C592.7 305.1 594.3 305.6 595.6 304.6" fill="#ffea00" fill-opacity="0.55" stroke="#222" stroke-width="0.8"/>
<path d="M643.8 292.1 C645.1 291.1 646.7 291.6 646.7 294.6 L646.7 302.1 C646.7 305.1 645.1 305.6 643.8 304.6" fill="#ffea00" fill-opacity="0.55" stroke="#222" stroke-width="0.8"/>
<g clip-path="url(#t19)">
<circle cx="619.7" cy="297.6" r="26.4" fill="#ffea00"/>
<ellipse cx="618.97" cy="296.62" rx="22.69" ry="20.25" fill="#ffbc00" stroke="#16200e" stroke-width="0.6"/>
<ellipse cx="618.48" cy="295.65" rx="19.52" ry="16.59" fill="#ff8e00" stroke="#16200e" stroke-width="0.6"/>
<ellipse cx="618.24" cy="295.16" rx="16.59" ry="13.66" fill="#ff6000" stroke="#16200e" stroke-width="0.6"/>
<ellipse cx="618.24" cy="295.16" rx="13.66" ry="11.22" fill="#ff3300" stroke="#16200e" stroke-width="0.6"/>
<ellipse cx="618.24" cy="295.16" rx="10.98" ry="9.27" fill="#ff0500" stroke="#16200e" stroke-width="0.6"/>
<ellipse cx="618.24" cy="295.16" rx="8.3" ry="7.32" fill="#d60000" stroke="#16200e" stroke-width="0.6"/>
<ellipse cx="618.24" cy="295.16" rx="4.88" ry="4.39" fill="#b20000" stroke="#16200e" stroke-width="0.6"/>
<circle cx="619.7" cy="297.6" r="26.4" fill="#fff" opacity="0.1"/>
</g>
<circle cx="619.7" cy="297.6" r="24.4" fill="none" stroke="#1c2414" stroke-width="1.3"/>
<path d="M619.7 297.6h0.01M625.07 297.6h0.01M622.38 302.25h0.01M617.02 302.25h0.01M614.33 297.6h0.01M617.02 292.95h0.01M622.38 292.95h0.01M630.01 299.57h0.01M626.88 305.25h0.01M621.01 308.01h0.01M614.65 306.79h0.01M610.21 302.07h0.01M609.39 295.63h0.01M612.52 289.95h0.01M618.39 287.19h0.01M624.75 288.41h0.01M629.19 293.13h0.01M635.32 297.6h0.01M633.77 304.38h0.01M629.44 309.81h0.01M623.17 312.82h0.01M616.23 312.82h0.01M609.96 309.81h0.01M605.63 304.38h0.01M604.08 297.6h0.01M605.63 290.82h0.01M609.96 285.39h0.01M616.23 282.38h0.01M623.17 282.38h0.01M629.44 285.39h0.01M633.77 290.82h0.01M640.15 299.03h0.01M638.42 305.94h0.01M634.44 311.84h0.01M628.68 316.02h0.01M621.84 317.98h0.01M614.74 317.49h0.01M608.24 314.59h0.01M603.12 309.65h0.01M600 303.25h0.01M599.25 296.17h0.01M600.98 289.26h0.01M604.96 283.36h0.01M610.72 279.18h0.01M617.56 277.22h0.01M624.66 277.71h0.01M631.16 280.61h0.01M636.28 285.55h0.01M639.4 291.95h0.01M643.84 298.36h0.01M642.43 305.78h0.01M638.79 312.41h0.01M633.28 317.58h0.01M626.44 320.8h0.01M618.94 321.74h0.01M611.52 320.33h0.01M604.89 316.69h0.01M599.72 311.18h0.01M596.5 304.34h0.01M595.56 296.84h0.01M596.97 289.42h0.01M600.61 282.79h0.01M606.12 277.62h0.01M612.96 274.4h0.01M620.46 273.46h0.01M627.88 274.87h0.01M634.51 278.51h0.01M639.68 284.02h0.01M642.9 290.86h0.01" stroke="#10180a" stroke-width="1" stroke-linecap="round" opacity="0.8"/>
<circle cx="710.9" cy="297.6" r="26.2" fill="#7aff84" opacity="0.35"/>
<path d="M706.9 274.1 L710.9 269.8 L714.9 274.1" fill="#fff" stroke="#222" stroke-width="0.8" stroke-linejoin="round"/>
<path d="M686.8 292.1 C685.5 291.1 683.9 291.6 683.9 294.6 L683.9 302.1 C683.9 305.1 685.5 305.6 686.8 304.6" fill="#7aff84" fill-opacity="0.55" stroke="#222" stroke-width="0.8"/>
<path d="M735 292.1 C736.3 291.1 737.9 291.6 737.9 294.6 L737.9 302.1 C737.9 305.1 736.3 305.6 735 304.6" fill="#7aff84" fill-opacity="0.55" stroke="#222" stroke-width="0.8"/>
<g clip-path="url(#t20)">
<circle cx="710.9" cy="297.6" r="26.4" fill="#7aff84"/>
<path d="M677.76 295.18 C679.11 294.66 682.34 293.26 685.84 292.1 C689.35 290.95 694.6 289.06 698.78 288.22 C702.95 287.39 706.86 287.09 710.9 287.09 C714.94 287.09 718.85 287.39 723.02 288.22 C727.2 289.06 732.45 290.95 735.96 292.1 C739.46 293.26 742.69 294.66 744.04 295.18 L749.94 336.64 L671.86 336.64 Z" fill="#51ffad" stroke="#16200e" stroke-width="0.6"/>
<path d="M677.76 298.41 C678.84 298.06 681.53 297.09 684.23 296.31 C686.92 295.53 689.48 294.31 693.93 293.72 C698.37 293.13 705.24 292.75 710.9 292.75 C716.56 292.75 723.43 293.13 727.87 293.72 C732.32 294.31 734.88 295.53 737.57 296.31 C740.27 297.09 742.96 298.06 744.04 298.41 L749.94 336.64 L671.86 336.64 Z" fill="#23ffdb" stroke="#16200e" stroke-width="0.6"/>
<path d="M679.38 307.3 C680.4 306.71 684.12 305.22 685.52 303.74 C686.92 302.26 685.57 299.59 687.78 298.41 C689.99 297.22 694.92 296.79 698.78 296.63 C702.63 296.47 706.86 297.44 710.9 297.44 C714.94 297.44 719.17 296.47 723.02 296.63 C726.88 296.79 731.81 297.22 734.02 298.41 C736.23 299.59 734.88 302.26 736.28 303.74 C737.68 305.22 741.4 306.71 742.42 307.3 L749.94 336.64 L671.86 336.64 Z" fill="#00f9ff" stroke="#16200e" stroke-width="0.6"/>
<path d="M689.88 300.19 C691.37 298.08 696.89 298.06 700.39 297.92 C703.89 297.79 707.4 299.38 710.9 299.38 C714.4 299.38 717.91 297.79 721.41 297.92 C724.91 298.06 730.43 298.08 731.92 300.19 C733.4 302.29 731.73 307.46 730.3 310.53 C728.87 313.6 726.58 316.81 723.35 318.62 C720.11 320.42 715.05 321.36 710.9 321.36 C706.75 321.36 701.69 320.42 698.45 318.62 C695.22 316.81 692.93 313.6 691.5 310.53 C690.07 307.46 688.4 302.29 689.88 300.19 Z" fill="#00ccff" stroke="#16200e" stroke-width="0.6"/>
<path d="M693.93 303.42 C696.4 301.88 705.24 302.29 710.9 302.29 C716.56 302.29 725.4 301.88 727.87 303.42 C730.35 304.96 727.12 309.24 725.77 311.5 C724.43 313.77 722.27 315.79 719.79 317 C717.31 318.21 713.86 318.78 710.9 318.78 C707.94 318.78 704.49 318.21 702.01 317 C699.53 315.79 697.37 313.77 696.03 311.5 C694.68 309.24 691.45 304.96 693.93 303.42 Z" fill="#0099ff" stroke="#16200e" stroke-width="0.6"/>
<path d="M697.97 306.65 C699.72 305.39 706.59 305.52 710.9 305.52 C715.21 305.52 722.08 305.39 723.83 306.65 C725.58 307.92 723.56 311.5 721.41 313.12 C719.25 314.74 714.4 316.35 710.9 316.35 C707.4 316.35 702.55 314.74 700.39 313.12 C698.24 311.5 696.22 307.92 697.97 306.65 Z" fill="#0065ff" stroke="#16200e" stroke-width="0.6"/>
<path d="M702.01 309.08 C703.28 308.16 707.94 308.27 710.9 308.27 C713.86 308.27 718.58 308.16 719.79 309.08 C721 309.99 719.66 312.77 718.17 313.77 C716.69 314.76 713.38 315.06 710.9 315.06 C708.42 315.06 704.78 314.76 703.3 313.77 C701.82 312.77 700.74 309.99 702.01 309.08 Z" fill="#0038ff" stroke="#16200e" stroke-width="0.6"/>
<circle cx="710.9" cy="297.6" r="26.4" fill="#fff" opacity="0.1"/>
</g>
<circle cx="710.9" cy="297.6" r="24.4" fill="none" stroke="#1c2414" stroke-width="1.3"/>
<path d="M710.9 297.6h0.01M716.27 297.6h0.01M713.58 302.25h0.01M708.22 302.25h0.01M705.53 297.6h0.01M708.22 292.95h0.01M713.58 292.95h0.01M721.21 299.57h0.01M718.08 305.25h0.01M712.21 308.01h0.01M705.85 306.79h0.01M701.41 302.07h0.01M700.59 295.63h0.01M703.72 289.95h0.01M709.59 287.19h0.01M715.95 288.41h0.01M720.39 293.13h0.01M726.52 297.6h0.01M724.97 304.38h0.01M720.64 309.81h0.01M714.37 312.82h0.01M707.43 312.82h0.01M701.16 309.81h0.01M696.83 304.38h0.01M695.28 297.6h0.01M696.83 290.82h0.01M701.16 285.39h0.01M707.43 282.38h0.01M714.37 282.38h0.01M720.64 285.39h0.01M724.97 290.82h0.01M731.35 299.03h0.01M729.62 305.94h0.01M725.64 311.84h0.01M719.88 316.02h0.01M713.04 317.98h0.01M705.94 317.49h0.01M699.44 314.59h0.01M694.32 309.65h0.01M691.2 303.25h0.01M690.45 296.17h0.01M692.18 289.26h0.01M696.16 283.36h0.01M701.92 279.18h0.01M708.76 277.22h0.01M715.86 277.71h0.01M722.36 280.61h0.01M727.48 285.55h0.01M730.6 291.95h0.01M735.04 298.36h0.01M733.63 305.78h0.01M729.99 312.41h0.01M724.48 317.58h0.01M717.64 320.8h0.01M710.14 321.74h0.01M702.72 320.33h0.01M696.09 316.69h0.01M690.92 311.18h0.01M687.7 304.34h0.01M686.76 296.84h0.01M688.17 289.42h0.01M691.81 282.79h0.01M697.32 277.62h0.01M704.16 274.4h0.01M711.66 273.46h0.01M719.08 274.87h0.01M725.71 278.51h0.01M730.88 284.02h0.01M734.1 290.86h0.01" stroke="#10180a" stroke-width="1" stroke-linecap="round" opacity="0.8"/>
<circle cx="801.8" cy="297.6" r="26.2" fill="#ffc100" opacity="0.35"/>
<path d="M797.8 274.1 L801.8 269.8 L805.8 274.1" fill="#fff" stroke="#222" stroke-width="0.8" stroke-linejoin="round"/>
<path d="M777.7 292.1 C776.4 291.1 774.8 291.6 774.8 294.6 L774.8 302.1 C774.8 305.1 776.4 305.6 777.7 304.6" fill="#ffc100" fill-opacity="0.55" stroke="#222" stroke-width="0.8"/>
<path d="M825.9 292.1 C827.2 291.1 828.8 291.6 828.8 294.6 L828.8 302.1 C828.8 305.1 827.2 305.6 825.9 304.6" fill="#ffc100" fill-opacity="0.55" stroke="#222" stroke-width="0.8"/>
<g clip-path="url(#t21)">
<circle cx="801.8" cy="297.6" r="26.4" fill="#ffc100"/>
<path d="M770.15 290.48 C772 289.74 778.07 287.32 781.23 286.05 C784.39 284.78 786.77 283.73 789.14 282.88 C791.52 282.04 792.31 281.57 795.47 280.99 C798.64 280.41 804.44 279.19 808.13 279.4 C811.82 279.61 813.93 280.67 817.62 282.25 C821.31 283.83 828.17 287.79 830.28 288.9 L840.84 336.64 L762.76 336.64 Z" fill="#ffa300" stroke="#16200e" stroke-width="0.6"/>
<path d="M766.99 296.81 C768.84 296.18 774.37 294.3 778.07 293.01 C781.76 291.72 784.92 290.01 789.14 289.06 C793.36 288.11 799.16 288.11 803.38 287.32 C807.6 286.52 811.29 284.57 814.46 284.31 C817.62 284.05 819.21 284.7 822.37 285.73 C825.53 286.76 831.6 289.69 833.45 290.48 L840.84 336.64 L762.76 336.64 Z" fill="#ff8400" stroke="#16200e" stroke-width="0.6"/>
<path d="M774.9 297.13 C776.09 294.83 784.39 295.28 787.56 296.02 C790.72 296.76 792.04 300.11 793.89 301.56 C795.73 303.01 795.73 304.19 798.64 304.72 C801.54 305.25 808.34 304.03 811.29 304.72 C814.25 305.41 816.09 306.94 816.36 308.83 C816.62 310.73 815.57 314.37 812.88 316.11 C810.19 317.85 804.17 319.28 800.22 319.28 C796.26 319.28 792.44 317.69 789.14 316.11 C785.85 314.53 782.81 312.95 780.44 309.78 C778.07 306.62 773.71 299.42 774.9 297.13 Z" fill="#ff9900" stroke="#16200e" stroke-width="0.6"/>
<rect x="790.58" y="308.58" width="17.57" height="7.32" rx="3.66" fill="#ffb200" stroke="#16200e" stroke-width="0.6"/>
<ellipse cx="801.8" cy="296.01" rx="5.61" ry="4.51" fill="#ff4c00" stroke="#16200e" stroke-width="0.6"/>
<path d="M781.23 319.75 C783.08 320.46 788.88 323.1 792.31 324.02 C795.73 324.95 798.11 325.4 801.8 325.29 C805.49 325.18 810.77 324.71 814.46 323.39 C818.15 322.07 822.37 318.38 823.95 317.38" fill="none" stroke="#16200e" stroke-width="0.6"/>
<circle cx="801.8" cy="297.6" r="26.4" fill="#fff" opacity="0.1"/>
</g>
<circle cx="801.8" cy="297.6" r="24.4" fill="none" stroke="#1c2414" stroke-width="1.3"/>
<path d="M801.8 297.6h0.01M807.17 297.6h0.01M804.48 302.25h0.01M799.12 302.25h0.01M796.43 297.6h0.01M799.12 292.95h0.01M804.48 292.95h0.01M812.11 299.57h0.01M808.98 305.25h0.01M803.11 308.01h0.01M796.75 306.79h0.01M792.31 302.07h0.01M791.49 295.63h0.01M794.62 289.95h0.01M800.49 287.19h0.01M806.85 288.41h0.01M811.29 293.13h0.01M817.42 297.6h0.01M815.87 304.38h0.01M811.54 309.81h0.01M805.27 312.82h0.01M798.33 312.82h0.01M792.06 309.81h0.01M787.73 304.38h0.01M786.18 297.6h0.01M787.73 290.82h0.01M792.06 285.39h0.01M798.33 282.38h0.01M805.27 282.38h0.01M811.54 285.39h0.01M815.87 290.82h0.01M822.25 299.03h0.01M820.52 305.94h0.01M816.54 311.84h0.01M810.78 316.02h0.01M803.94 317.98h0.01M796.84 317.49h0.01M790.34 314.59h0.01M785.22 309.65h0.01M782.1 303.25h0.01M781.35 296.17h0.01M783.08 289.26h0.01M787.06 283.36h0.01M792.82 279.18h0.01M799.66 277.22h0.01M806.76 277.71h0.01M813.26 280.61h0.01M818.38 285.55h0.01M821.5 291.95h0.01M825.94 298.36h0.01M824.53 305.78h0.01M820.89 312.41h0.01M815.38 317.58h0.01M808.54 320.8h0.01M801.04 321.74h0.01M793.62 320.33h0.01M786.99 316.69h0.01M781.82 311.18h0.01M778.6 304.34h0.01M777.66 296.84h0.01M779.07 289.42h0.01M782.71 282.79h0.01M788.22 277.62h0.01M795.06 274.4h0.01M802.56 273.46h0.01M809.98 274.87h0.01M816.61 278.51h0.01M821.78 284.02h0.01M825 290.86h0.01" stroke="#10180a" stroke-width="1" stroke-linecap="round" opacity="0.8"/>
<g filter="url(#h22)">
<rect x="41.5" y="532.1" width="250.7" height="225.5" fill="#3b3b3b" />
<g filter="url(#b8)">
<ellipse cx="206.57" cy="634.21" rx="60.05" ry="69.28" fill="#4b4b4b" opacity="0.5"/>
<ellipse cx="98.02" cy="645.76" rx="30.02" ry="92.38" fill="#3c3c3c" opacity="0.5"/>
</g>
<g filter="url(#b3)">
<ellipse cx="147.68" cy="627.28" rx="11.09" ry="76.21" fill="#616161" opacity="0.85"/>
<ellipse cx="147.68" cy="622.67" rx="6" ry="69.28" fill="#737373" opacity="0.95"/>
<ellipse cx="147.68" cy="579.94" rx="4.62" ry="8.08" fill="#878787"/>
<ellipse cx="148.83" cy="604.19" rx="5.08" ry="5.77" fill="#7e7e7e"/>
<ellipse cx="147.68" cy="631.9" rx="4.62" ry="9.24" fill="#808080"/>
<ellipse cx="147.68" cy="659.62" rx="5.08" ry="9.24" fill="#828282"/>
<ellipse cx="144.21" cy="568.39" rx="4.16" ry="4.62" fill="#7d7d7d"/>
<ellipse cx="88.79" cy="568.39" rx="6.93" ry="5.08" fill="#696969" opacity="0.9"/>
<ellipse cx="100.33" cy="611.12" rx="6.47" ry="9.24" fill="#616161" opacity="0.9"/>
<ellipse cx="102.64" cy="594.95" rx="5.08" ry="6.93" fill="#5e5e5e" opacity="0.8"/>
<ellipse cx="79.55" cy="708.12" rx="5.77" ry="9.24" fill="#606060" opacity="0.8"/>
<ellipse cx="104.95" cy="569.55" rx="5.77" ry="6.93" fill="#1f1f1f" opacity="0.9"/>
<ellipse cx="86.48" cy="601.88" rx="6.47" ry="10.39" fill="#242424" opacity="0.9"/>
<ellipse cx="104.95" cy="643.45" rx="6" ry="9.24" fill="#1f1f1f" opacity="0.9"/>
<ellipse cx="86.48" cy="668.85" rx="5.54" ry="6.93" fill="#262626" opacity="0.8"/>
<ellipse cx="114.19" cy="710.42" rx="8.08" ry="6.93" fill="#212121" opacity="0.8"/>
<ellipse cx="211.19" cy="631.9" rx="27.71" ry="9.24" fill="#616161" opacity="0.85"/>
<ellipse cx="238.9" cy="687.33" rx="9.24" ry="6.93" fill="#666666" opacity="0.9"/>
<ellipse cx="192.71" cy="581.09" rx="6.93" ry="8.08" fill="#636363" opacity="0.9"/>
<ellipse cx="165" cy="666.55" rx="6.93" ry="9.24" fill="#5e5e5e" opacity="0.8"/>
<ellipse cx="229.66" cy="578.79" rx="9.24" ry="5.77" fill="#5c5c5c" opacity="0.7"/>
<ellipse cx="215.81" cy="634.21" rx="6.93" ry="5.77" fill="#6b6b6b" opacity="0.8"/>
<ellipse cx="197.33" cy="687.33" rx="9.24" ry="5.77" fill="#5e5e5e" opacity="0.8"/>
<ellipse cx="178.85" cy="600.73" rx="9.24" ry="6.93" fill="#242424" opacity="0.9"/>
<ellipse cx="218.12" cy="612.27" rx="11.55" ry="5.08" fill="#292929" opacity="0.9"/>
<ellipse cx="252.76" cy="599.57" rx="8.08" ry="6.93" fill="#242424" opacity="0.9"/>
<ellipse cx="176.55" cy="659.62" rx="8.08" ry="6.93" fill="#212121" opacity="0.9"/>
<ellipse cx="206.57" cy="661.93" rx="9.24" ry="6.93" fill="#2b2b2b" opacity="0.8"/>
<ellipse cx="252.76" cy="655" rx="8.08" ry="6.93" fill="#242424" opacity="0.9"/>
<ellipse cx="229.66" cy="668.85" rx="8.08" ry="5.77" fill="#2d2d2d" opacity="0.8"/>
<ellipse cx="188.09" cy="701.19" rx="10.39" ry="9.24" fill="#1f1f1f" opacity="0.9"/>
</g>
<g filter="url(#b2)">
<ellipse cx="229.66" cy="720.82" rx="34.64" ry="6.93" fill="#161616" opacity="0.95"/>
<ellipse cx="211.19" cy="724.74" rx="11.55" ry="3.7" fill="#050505"/>
<ellipse cx="250.45" cy="723.13" rx="11.55" ry="3.23" fill="#090909"/>
<ellipse cx="229.66" cy="712.27" rx="13.86" ry="2.77" fill="#171717" opacity="0.9"/>
</g>
<g filter="url(#b1_5)">
<path d="M132.67 730.06 L134.97 717.35 L137.28 701.19 L139.59 687.33 L143.06 672.32 L146.52 678.09 L148.83 689.64 L153.45 696.57 L159.22 702.34 L165 702.34 L167.31 708.12 L171.93 712.73 L175.39 717.35 L176.55 730.06 Z" fill="#737373" />
<ellipse cx="145.37" cy="705.81" rx="8.78" ry="27.71" fill="#8a8a8a"/>
<ellipse cx="147.68" cy="717.35" rx="12.7" ry="13.86" fill="#8f8f8f"/>
<ellipse cx="149.29" cy="715.04" rx="11.55" ry="17.32" fill="#ababab"/>
<ellipse cx="148.14" cy="717.35" rx="6.93" ry="12.93" fill="#cccccc"/>
<ellipse cx="147.45" cy="717.82" rx="3.93" ry="9.7" fill="#f2f2f2"/>
<ellipse cx="147.68" cy="717.35" rx="2.31" ry="6.93" fill="#ffffff"/>
<ellipse cx="156.91" cy="723.82" rx="3.7" ry="3.23" fill="#c6c6c6"/>
<ellipse cx="139.59" cy="726.59" rx="2.77" ry="2.31" fill="#b9b9b9"/>
<ellipse cx="143.06" cy="687.33" rx="2.77" ry="9.24" fill="#8a8a8a"/>
</g>
</g>
<g clip-path="url(#c23)">
<path d="M132.67 730.06 C133.05 727.94 134.2 722.16 134.97 717.35 C135.74 712.54 136.51 706.19 137.28 701.19 C138.05 696.18 138.63 692.14 139.59 687.33 C140.56 682.52 141.9 673.86 143.06 672.32 C144.21 670.78 145.56 675.21 146.52 678.09 C147.48 680.98 147.68 686.56 148.83 689.64 C149.99 692.72 151.72 694.45 153.45 696.57 C155.18 698.69 157.3 701.38 159.22 702.34 C161.15 703.3 163.65 701.38 165 702.34 C166.34 703.3 166.15 706.38 167.31 708.12 C168.46 709.85 170.58 711.19 171.93 712.73 C173.27 714.27 174.62 714.47 175.39 717.35 C176.16 720.24 176.35 727.94 176.55 730.06" fill="none" stroke="#fff" stroke-width="2.3" stroke-linejoin="round"/>
<path d="M205.41 715.04 C205.99 714.27 207.61 711.77 208.88 710.42 C210.15 709.08 211.69 707.15 213.03 706.96 C214.38 706.77 215.54 708.62 216.96 709.27 C218.38 709.92 219.85 710.5 221.58 710.89 C223.31 711.27 225.54 711.66 227.35 711.58 C229.16 711.5 230.7 711.19 232.43 710.42 C234.17 709.66 236.21 707.88 237.75 706.96 C239.29 706.04 240.32 705 241.67 704.88 C243.02 704.77 244.83 705.34 245.83 706.27 C246.83 707.19 246.52 709.42 247.68 710.42 C248.83 711.43 250.18 712.12 252.76 712.27 C255.34 712.43 261.42 711.5 263.15 711.35" fill="none" stroke="#fff" stroke-width="2.2" stroke-linejoin="round"/>
<path d="M205.41 715.04 C206.18 715.43 207.92 716.97 210.03 717.35 C212.15 717.74 215.23 717.05 218.12 717.35 C221 717.66 224.66 718.62 227.35 719.2 C230.05 719.78 232.36 720.74 234.28 720.82 C236.21 720.89 236.98 719.39 238.9 719.66 C240.83 719.93 243.52 722.2 245.83 722.43 C248.14 722.67 250.45 720.89 252.76 721.05 C255.07 721.2 257.95 723.59 259.69 723.36 C261.42 723.13 262.57 720.28 263.15 719.66" fill="none" stroke="#fff" stroke-width="2.2" stroke-linejoin="round"/>
</g>
<rect x="71.5" y="562.1" width="190.7" height="165.5" fill="none" stroke="#111" stroke-width="1.1" />
<text x="68.9" y="567.55" font-size="13" text-anchor="end" >100</text>
<line x1="71.5" y1="595.53" x2="73.4" y2="595.53" stroke="#000" stroke-width="1" />
<line x1="262.2" y1="595.53" x2="260.3" y2="595.53" stroke="#000" stroke-width="1" />
<text x="68.9" y="600.19" font-size="13" text-anchor="end" >80</text>
<line x1="71.5" y1="628.97" x2="73.4" y2="628.97" stroke="#000" stroke-width="1" />
<line x1="262.2" y1="628.97" x2="260.3" y2="628.97" stroke="#000" stroke-width="1" />
<text x="68.9" y="633.62" font-size="13" text-anchor="end" >60</text>
<line x1="71.5" y1="662.4" x2="73.4" y2="662.4" stroke="#000" stroke-width="1" />
<line x1="262.2" y1="662.4" x2="260.3" y2="662.4" stroke="#000" stroke-width="1" />
<text x="68.9" y="667.06" font-size="13" text-anchor="end" >40</text>
<line x1="71.5" y1="695.84" x2="73.4" y2="695.84" stroke="#000" stroke-width="1" />
<line x1="262.2" y1="695.84" x2="260.3" y2="695.84" stroke="#000" stroke-width="1" />
<text x="68.9" y="700.49" font-size="13" text-anchor="end" >20</text>
<text x="69.5" y="741.75" font-size="13" text-anchor="middle" >-400</text>
<line x1="130.18" y1="727.6" x2="130.18" y2="725.7" stroke="#000" stroke-width="1" />
<line x1="130.18" y1="562.1" x2="130.18" y2="564" stroke="#000" stroke-width="1" />
<text x="130.18" y="741.75" font-size="13" text-anchor="middle" >0</text>
<line x1="188.85" y1="727.6" x2="188.85" y2="725.7" stroke="#000" stroke-width="1" />
<line x1="188.85" y1="562.1" x2="188.85" y2="564" stroke="#000" stroke-width="1" />
<text x="188.85" y="741.75" font-size="13" text-anchor="middle" >400</text>
<line x1="247.53" y1="727.6" x2="247.53" y2="725.7" stroke="#000" stroke-width="1" />
<line x1="247.53" y1="562.1" x2="247.53" y2="564" stroke="#000" stroke-width="1" />
<text x="247.53" y="741.75" font-size="13" text-anchor="middle" >800</text>
<text x="166.8" y="761.89" font-size="17" text-anchor="middle" textLength="99" lengthAdjust="spacingAndGlyphs" >Latency (ms)</text>
<text x="37.4" y="651.24" font-size="17" text-anchor="middle" textLength="117.5" lengthAdjust="spacingAndGlyphs" transform="rotate(-90 37.4 645.15)" >Frequency (Hz)</text>
<line x1="129.88" y1="562.1" x2="129.88" y2="727.6" stroke="#0a0a18" stroke-width="1.75" stroke-dasharray="10.4 5.3" />
<text x="99.4" y="589.53" font-size="13.5" text-anchor="middle" fill="#fff" textLength="50.5" lengthAdjust="spacingAndGlyphs" >Cz-nose</text>
<rect x="270" y="594.6" width="7.2" height="101.4" fill="url(#gHSV)" stroke="#1a1a1a" stroke-width="0.9" />
<text x="273.3" y="591.05" font-size="13" text-anchor="middle" >15</text>
<text x="273.9" y="711.45" font-size="13" text-anchor="middle" >-5</text>
<text x="287.6" y="649.78" font-size="12.5" text-anchor="middle" transform="rotate(-90 287.6 645.3)" >t value</text>
<g filter="url(#h24)">
<rect x="323.5" y="532.1" width="250.7" height="225.5" fill="#3b3b3b" />
<g filter="url(#b8)">
<ellipse cx="493.19" cy="615.74" rx="60.05" ry="55.43" fill="#545454" opacity="0.6"/>
<ellipse cx="382.33" cy="645.76" rx="32.33" ry="92.38" fill="#393939" opacity="0.5"/>
</g>
<g filter="url(#b3)">
<ellipse cx="442.38" cy="588.02" rx="6.93" ry="6.93" fill="#6e6e6e" opacity="0.9"/>
<ellipse cx="453.93" cy="598.42" rx="6.93" ry="5.77" fill="#666666" opacity="0.9"/>
<ellipse cx="493.19" cy="618.05" rx="11.55" ry="8.08" fill="#707070" opacity="0.95"/>
<ellipse cx="517.44" cy="624.97" rx="5.08" ry="5.54" fill="#808080"/>
<ellipse cx="479.33" cy="622.67" rx="8.08" ry="6.93" fill="#666666" opacity="0.9"/>
<ellipse cx="507.04" cy="599.57" rx="9.24" ry="6.93" fill="#666666" opacity="0.9"/>
<ellipse cx="530.14" cy="597.26" rx="6.93" ry="8.08" fill="#636363" opacity="0.9"/>
<ellipse cx="497.81" cy="650.38" rx="9.24" ry="8.08" fill="#616161" opacity="0.9"/>
<ellipse cx="511.66" cy="666.55" rx="8.08" ry="6.93" fill="#616161" opacity="0.8"/>
<ellipse cx="437.76" cy="571.86" rx="9.24" ry="6.93" fill="#5e5e5e" opacity="0.8"/>
<ellipse cx="534.76" cy="687.33" rx="6.93" ry="9.24" fill="#5e5e5e" opacity="0.8"/>
<ellipse cx="386.95" cy="696.57" rx="5.77" ry="8.08" fill="#5e5e5e" opacity="0.8"/>
<ellipse cx="363.86" cy="650.38" rx="5.77" ry="8.08" fill="#616161" opacity="0.8"/>
<ellipse cx="384.64" cy="588.02" rx="5.08" ry="6.93" fill="#5c5c5c" opacity="0.7"/>
<ellipse cx="493.19" cy="687.33" rx="6.93" ry="5.77" fill="#5c5c5c" opacity="0.8"/>
<ellipse cx="419.28" cy="673.47" rx="6.93" ry="8.08" fill="#1a1a1a" opacity="0.95"/>
<ellipse cx="453.93" cy="682.71" rx="13.86" ry="9.24" fill="#1c1c1c" opacity="0.95"/>
<ellipse cx="481.64" cy="698.88" rx="13.86" ry="9.24" fill="#1c1c1c" opacity="0.95"/>
<ellipse cx="504.73" cy="711.58" rx="13.86" ry="8.08" fill="#1c1c1c" opacity="0.95"/>
<ellipse cx="527.83" cy="720.82" rx="13.86" ry="6.93" fill="#212121" opacity="0.9"/>
<ellipse cx="460.85" cy="643.45" rx="6.47" ry="8.31" fill="#1f1f1f" opacity="0.95"/>
<ellipse cx="481.64" cy="668.85" rx="5.08" ry="6.93" fill="#1c1c1c" opacity="0.95"/>
<ellipse cx="396.19" cy="659.62" rx="6.47" ry="8.31" fill="#1a1a1a" opacity="0.95"/>
<ellipse cx="373.09" cy="634.21" rx="5.08" ry="6.93" fill="#1f1f1f" opacity="0.9"/>
<ellipse cx="416.97" cy="623.82" rx="5.08" ry="6" fill="#1c1c1c" opacity="0.9"/>
<ellipse cx="414.67" cy="585.71" rx="5.08" ry="6.93" fill="#1f1f1f" opacity="0.9"/>
<ellipse cx="403.12" cy="574.17" rx="5.08" ry="6.47" fill="#212121" opacity="0.9"/>
<ellipse cx="369.63" cy="705.81" rx="4.62" ry="6.47" fill="#0f0f0f" opacity="0.95"/>
<ellipse cx="520.9" cy="578.79" rx="6.47" ry="6.93" fill="#242424" opacity="0.9"/>
<ellipse cx="477.02" cy="599.57" rx="5.77" ry="6.93" fill="#242424" opacity="0.9"/>
<ellipse cx="382.33" cy="678.09" rx="5.08" ry="6.93" fill="#1f1f1f" opacity="0.9"/>
<ellipse cx="396.19" cy="615.74" rx="4.62" ry="6.93" fill="#262626" opacity="0.8"/>
</g>
<g filter="url(#b2)">
</g>
<g filter="url(#b1_5)">
<path d="M415.82 730.06 L419.28 719.66 L422.75 708.12 L421.59 698.88 L425.06 693.1 L430.83 694.26 L440.07 696.57 L448.15 698.88 L449.31 705.81 L452.77 711.58 L460.85 715.04 L470.09 717.35 L479.33 720.82 L482.1 730.06 Z" fill="#787878" />
<ellipse cx="442.38" cy="717.35" rx="25.4" ry="13.86" fill="#8c8c8c"/>
<ellipse cx="430.83" cy="719.66" rx="8.08" ry="11.55" fill="#a6a6a6"/>
<ellipse cx="430.83" cy="723.13" rx="4.16" ry="8.08" fill="#cccccc"/>
<ellipse cx="430.14" cy="724.74" rx="2.08" ry="6" fill="#f9f9f9"/>
<ellipse cx="458.55" cy="724.74" rx="6.47" ry="3.7" fill="#b9b9b9"/>
<ellipse cx="433.14" cy="710.42" rx="4.16" ry="5.77" fill="#acacac"/>
</g>
</g>
<g clip-path="url(#c25)">
<path d="M415.82 730.06 C416.4 728.32 418.13 723.32 419.28 719.66 C420.44 716.01 422.36 711.58 422.75 708.12 C423.13 704.65 421.21 701.38 421.59 698.88 C421.98 696.38 423.52 693.87 425.06 693.1 C426.6 692.33 428.33 693.68 430.83 694.26 C433.33 694.84 437.18 695.8 440.07 696.57 C442.96 697.34 446.61 697.34 448.15 698.88 C449.69 700.42 448.54 703.69 449.31 705.81 C450.08 707.92 450.85 710.04 452.77 711.58 C454.7 713.12 457.97 714.08 460.85 715.04 C463.74 716.01 467.01 716.39 470.09 717.35 C473.17 718.32 477.33 718.7 479.33 720.82 C481.33 722.93 481.64 728.52 482.1 730.06" fill="none" stroke="#fff" stroke-width="2.3" stroke-linejoin="round"/>
</g>
<rect x="353.5" y="562.1" width="190.7" height="165.5" fill="none" stroke="#111" stroke-width="1.1" />
<text x="350.9" y="567.55" font-size="13" text-anchor="end" >100</text>
<line x1="353.5" y1="595.53" x2="355.4" y2="595.53" stroke="#000" stroke-width="1" />
<line x1="544.2" y1="595.53" x2="542.3" y2="595.53" stroke="#000" stroke-width="1" />
<text x="350.9" y="600.19" font-size="13" text-anchor="end" >80</text>
<line x1="353.5" y1="628.97" x2="355.4" y2="628.97" stroke="#000" stroke-width="1" />
<line x1="544.2" y1="628.97" x2="542.3" y2="628.97" stroke="#000" stroke-width="1" />
<text x="350.9" y="633.62" font-size="13" text-anchor="end" >60</text>
<line x1="353.5" y1="662.4" x2="355.4" y2="662.4" stroke="#000" stroke-width="1" />
<line x1="544.2" y1="662.4" x2="542.3" y2="662.4" stroke="#000" stroke-width="1" />
<text x="350.9" y="667.06" font-size="13" text-anchor="end" >40</text>
<line x1="353.5" y1="695.84" x2="355.4" y2="695.84" stroke="#000" stroke-width="1" />
<line x1="544.2" y1="695.84" x2="542.3" y2="695.84" stroke="#000" stroke-width="1" />
<text x="350.9" y="700.49" font-size="13" text-anchor="end" >20</text>
<text x="351.5" y="741.75" font-size="13" text-anchor="middle" >-400</text>
<line x1="412.18" y1="727.6" x2="412.18" y2="725.7" stroke="#000" stroke-width="1" />
<line x1="412.18" y1="562.1" x2="412.18" y2="564" stroke="#000" stroke-width="1" />
<text x="412.18" y="741.75" font-size="13" text-anchor="middle" >0</text>
<line x1="470.85" y1="727.6" x2="470.85" y2="725.7" stroke="#000" stroke-width="1" />
<line x1="470.85" y1="562.1" x2="470.85" y2="564" stroke="#000" stroke-width="1" />
<text x="470.85" y="741.75" font-size="13" text-anchor="middle" >400</text>
<line x1="529.53" y1="727.6" x2="529.53" y2="725.7" stroke="#000" stroke-width="1" />
<line x1="529.53" y1="562.1" x2="529.53" y2="564" stroke="#000" stroke-width="1" />
<text x="529.53" y="741.75" font-size="13" text-anchor="middle" >800</text>
<text x="448.8" y="761.89" font-size="17" text-anchor="middle" textLength="99" lengthAdjust="spacingAndGlyphs" >Latency (ms)</text>
<text x="319.4" y="651.24" font-size="17" text-anchor="middle" textLength="117.5" lengthAdjust="spacingAndGlyphs" transform="rotate(-90 319.4 645.15)" >Frequency (Hz)</text>
<line x1="411.88" y1="562.1" x2="411.88" y2="727.6" stroke="#0a0a18" stroke-width="1.75" stroke-dasharray="10.4 5.3" />
<text x="381.4" y="589.53" font-size="13.5" text-anchor="middle" fill="#fff" textLength="50.5" lengthAdjust="spacingAndGlyphs" >Cz-nose</text>
<rect x="552" y="594.6" width="7.2" height="101.4" fill="url(#gHSV)" stroke="#1a1a1a" stroke-width="0.9" />
<text x="555.3" y="591.05" font-size="13" text-anchor="middle" >15</text>
<text x="555.9" y="711.45" font-size="13" text-anchor="middle" >-5</text>
<text x="569.6" y="649.78" font-size="12.5" text-anchor="middle" transform="rotate(-90 569.6 645.3)" >t value</text>
<g filter="url(#h26)">
<rect x="605.5" y="532.1" width="250.7" height="225.5" fill="#3b3b3b" />
<g filter="url(#b8)">
<path d="M704.75 548.76 L839.85 548.76 L839.85 742.76 L704.75 742.76 Z" fill="#5c5c5c" opacity="0.95" />
<ellipse cx="761.33" cy="599.57" rx="69.28" ry="50.81" fill="#656565" opacity="0.7"/>
<ellipse cx="662.02" cy="645.76" rx="27.71" ry="97" fill="#3d3d3d" opacity="0.6"/>
</g>
<g filter="url(#b3)">
<ellipse cx="713.99" cy="636.52" rx="6.93" ry="13.86" fill="#808080" opacity="0.95"/>
<ellipse cx="763.64" cy="643.45" rx="5.77" ry="10.39" fill="#7a7a7a" opacity="0.9"/>
<ellipse cx="738.24" cy="666.55" rx="6.47" ry="11.55" fill="#787878" opacity="0.9"/>
<ellipse cx="742.85" cy="583.4" rx="6.93" ry="10.39" fill="#757575" opacity="0.9"/>
<ellipse cx="761.33" cy="574.17" rx="6.93" ry="6.93" fill="#787878" opacity="0.9"/>
<ellipse cx="782.12" cy="581.09" rx="8.08" ry="6.93" fill="#757575" opacity="0.9"/>
<ellipse cx="807.52" cy="571.86" rx="8.08" ry="6.93" fill="#737373" opacity="0.9"/>
<ellipse cx="814.45" cy="613.43" rx="9.24" ry="9.24" fill="#707070" opacity="0.9"/>
<ellipse cx="800.59" cy="682.71" rx="8.08" ry="6.93" fill="#7a7a7a" opacity="0.9"/>
<ellipse cx="819.07" cy="636.52" rx="5.77" ry="9.24" fill="#6e6e6e" opacity="0.9"/>
<ellipse cx="729" cy="615.74" rx="8.08" ry="6.93" fill="#6e6e6e" opacity="0.8"/>
<ellipse cx="784.42" cy="624.97" rx="9.24" ry="6.93" fill="#6e6e6e" opacity="0.8"/>
<ellipse cx="701.28" cy="585.71" rx="5.77" ry="13.86" fill="#666666" opacity="0.8"/>
<ellipse cx="712.83" cy="661.93" rx="6.93" ry="9.24" fill="#707070" opacity="0.8"/>
<ellipse cx="770.57" cy="664.24" rx="8.08" ry="6.93" fill="#383838" opacity="0.95"/>
<ellipse cx="793.66" cy="664.24" rx="8.08" ry="6.47" fill="#383838" opacity="0.95"/>
<ellipse cx="754.4" cy="627.28" rx="5.77" ry="5.77" fill="#424242" opacity="0.9"/>
<ellipse cx="752.09" cy="703.5" rx="9.24" ry="5.77" fill="#262626" opacity="0.95"/>
<ellipse cx="779.81" cy="687.33" rx="9.24" ry="6.93" fill="#404040" opacity="0.9"/>
<ellipse cx="816.76" cy="705.81" rx="9.24" ry="8.08" fill="#404040" opacity="0.9"/>
<ellipse cx="772.88" cy="606.5" rx="5.77" ry="5.77" fill="#454545" opacity="0.9"/>
<ellipse cx="793.66" cy="708.12" rx="9.24" ry="6.93" fill="#424242" opacity="0.8"/>
<ellipse cx="653.94" cy="592.64" rx="5.77" ry="10.39" fill="#1c1c1c" opacity="0.95"/>
<ellipse cx="652.79" cy="636.52" rx="6.93" ry="10.39" fill="#1c1c1c" opacity="0.95"/>
<ellipse cx="641.24" cy="664.24" rx="5.08" ry="8.08" fill="#1c1c1c" opacity="0.9"/>
<ellipse cx="657.4" cy="680.4" rx="5.77" ry="8.08" fill="#1f1f1f" opacity="0.9"/>
<ellipse cx="662.02" cy="717.35" rx="5.77" ry="9.24" fill="#1a1a1a" opacity="0.95"/>
<ellipse cx="685.12" cy="659.62" rx="5.08" ry="6.93" fill="#1f1f1f" opacity="0.9"/>
<ellipse cx="698.97" cy="652.69" rx="4.16" ry="6.47" fill="#212121" opacity="0.9"/>
<ellipse cx="673.57" cy="611.12" rx="6.93" ry="6.93" fill="#545454" opacity="0.8"/>
<ellipse cx="641.24" cy="606.5" rx="4.62" ry="8.08" fill="#595959" opacity="0.8"/>
<ellipse cx="666.64" cy="638.83" rx="5.08" ry="6.93" fill="#595959" opacity="0.8"/>
<path d="M709.37 560.31 L710.52 568.39 L707.75 576.48 L706.36 588.02 L707.75 599.57 L710.52 611.12 L712.83 615.74 L716.3 613.43 L720.91 606.5 L724.38 598.42 L729 596.11 L733.15 598.42 L734.08 590.33 L731.31 583.4 L724.38 575.32 L720.91 568.39 L720.91 560.31 Z" fill="#878787" opacity="0.95" />
<ellipse cx="716.3" cy="582.25" rx="5.08" ry="6.93" fill="#a1a1a1"/>
<ellipse cx="716.3" cy="582.25" rx="2.31" ry="3.23" fill="#adadad"/>
</g>
<g filter="url(#b2)">
</g>
<g filter="url(#b1_5)">
<path d="M692.51 730.06 L695.51 715.04 L697.82 701.19 L696.67 694.26 L700.13 683.87 L705.9 678.55 L712.83 679.25 L715.14 687.33 L719.76 693.1 L727.84 696.57 L727.84 700.03 L722.07 702.34 L716.3 705.81 L717.45 711.58 L724.38 712.73 L733.62 710.42 L745.16 712.73 L756.71 715.04 L765.95 719.66 L769.41 730.06 Z" fill="#878787" />
<ellipse cx="720.91" cy="724.74" rx="24.25" ry="7.39" fill="#c2c2c2"/>
<ellipse cx="708.21" cy="719.66" rx="9.7" ry="9.7" fill="#adadad"/>
<ellipse cx="715.6" cy="725.21" rx="4.62" ry="3.23" fill="#ffffff"/>
<ellipse cx="733.85" cy="723.59" rx="3.93" ry="4.85" fill="#ffffff"/>
<ellipse cx="752.09" cy="725.44" rx="6.93" ry="2.77" fill="#9f9f9f"/>
</g>
</g>
<g clip-path="url(#c27)">
<path d="M692.51 730.06 C693.01 727.55 694.63 719.86 695.51 715.04 C696.4 710.23 697.63 704.65 697.82 701.19 C698.01 697.72 696.28 697.15 696.67 694.26 C697.05 691.37 698.59 686.48 700.13 683.87 C701.67 681.25 703.79 679.32 705.9 678.55 C708.02 677.78 711.29 677.78 712.83 679.25 C714.37 680.71 713.99 685.02 715.14 687.33 C716.3 689.64 717.64 691.56 719.76 693.1 C721.88 694.64 726.5 695.41 727.84 696.57 C729.19 697.72 728.81 699.07 727.84 700.03 C726.88 700.99 723.99 701.38 722.07 702.34 C720.14 703.3 717.07 704.27 716.3 705.81 C715.53 707.35 716.1 710.42 717.45 711.58 C718.8 712.73 721.68 712.93 724.38 712.73 C727.07 712.54 730.15 710.42 733.62 710.42 C737.08 710.42 741.31 711.96 745.16 712.73 C749.01 713.5 753.25 713.89 756.71 715.04 C760.18 716.2 763.83 717.16 765.95 719.66 C768.07 722.16 768.84 728.32 769.41 730.06" fill="none" stroke="#fff" stroke-width="2.3" stroke-linejoin="round"/>
<path d="M709.37 560.31 C709.56 561.66 710.79 565.7 710.52 568.39 C710.25 571.09 708.44 573.2 707.75 576.48 C707.06 579.75 706.36 584.17 706.36 588.02 C706.36 591.87 707.06 595.72 707.75 599.57 C708.44 603.42 709.68 608.42 710.52 611.12 C711.37 613.81 711.87 615.35 712.83 615.74 C713.79 616.12 714.95 614.97 716.3 613.43 C717.64 611.89 719.57 609 720.91 606.5 C722.26 604 723.03 600.15 724.38 598.42 C725.73 596.68 727.54 596.11 729 596.11 C730.46 596.11 732.31 599.38 733.15 598.42 C734 597.45 734.39 592.83 734.08 590.33 C733.77 587.83 732.92 585.91 731.31 583.4 C729.69 580.9 726.11 577.82 724.38 575.32 C722.65 572.82 721.49 570.89 720.91 568.39 C720.34 565.89 720.91 561.66 720.91 560.31" fill="none" stroke="#dc1edc" stroke-width="2" stroke-linejoin="round"/>
</g>
<rect x="635.5" y="562.1" width="190.7" height="165.5" fill="none" stroke="#111" stroke-width="1.1" />
<text x="632.9" y="567.55" font-size="13" text-anchor="end" >100</text>
<line x1="635.5" y1="595.53" x2="637.4" y2="595.53" stroke="#000" stroke-width="1" />
<line x1="826.2" y1="595.53" x2="824.3" y2="595.53" stroke="#000" stroke-width="1" />
<text x="632.9" y="600.19" font-size="13" text-anchor="end" >80</text>
<line x1="635.5" y1="628.97" x2="637.4" y2="628.97" stroke="#000" stroke-width="1" />
<line x1="826.2" y1="628.97" x2="824.3" y2="628.97" stroke="#000" stroke-width="1" />
<text x="632.9" y="633.62" font-size="13" text-anchor="end" >60</text>
<line x1="635.5" y1="662.4" x2="637.4" y2="662.4" stroke="#000" stroke-width="1" />
<line x1="826.2" y1="662.4" x2="824.3" y2="662.4" stroke="#000" stroke-width="1" />
<text x="632.9" y="667.06" font-size="13" text-anchor="end" >40</text>
<line x1="635.5" y1="695.84" x2="637.4" y2="695.84" stroke="#000" stroke-width="1" />
<line x1="826.2" y1="695.84" x2="824.3" y2="695.84" stroke="#000" stroke-width="1" />
<text x="632.9" y="700.49" font-size="13" text-anchor="end" >20</text>
<text x="633.5" y="741.75" font-size="13" text-anchor="middle" >-400</text>
<line x1="694.18" y1="727.6" x2="694.18" y2="725.7" stroke="#000" stroke-width="1" />
<line x1="694.18" y1="562.1" x2="694.18" y2="564" stroke="#000" stroke-width="1" />
<text x="694.18" y="741.75" font-size="13" text-anchor="middle" >0</text>
<line x1="752.85" y1="727.6" x2="752.85" y2="725.7" stroke="#000" stroke-width="1" />
<line x1="752.85" y1="562.1" x2="752.85" y2="564" stroke="#000" stroke-width="1" />
<text x="752.85" y="741.75" font-size="13" text-anchor="middle" >400</text>
<line x1="811.53" y1="727.6" x2="811.53" y2="725.7" stroke="#000" stroke-width="1" />
<line x1="811.53" y1="562.1" x2="811.53" y2="564" stroke="#000" stroke-width="1" />
<text x="811.53" y="741.75" font-size="13" text-anchor="middle" >800</text>
<text x="730.8" y="761.89" font-size="17" text-anchor="middle" textLength="99" lengthAdjust="spacingAndGlyphs" >Latency (ms)</text>
<text x="601.4" y="651.24" font-size="17" text-anchor="middle" textLength="117.5" lengthAdjust="spacingAndGlyphs" transform="rotate(-90 601.4 645.15)" >Frequency (Hz)</text>
<line x1="693.88" y1="562.1" x2="693.88" y2="727.6" stroke="#0a0a18" stroke-width="1.75" stroke-dasharray="10.4 5.3" />
<text x="663.4" y="589.53" font-size="13.5" text-anchor="middle" fill="#fff" textLength="50.5" lengthAdjust="spacingAndGlyphs" >Cz-nose</text>
<rect x="834" y="594.6" width="7.2" height="101.4" fill="url(#gHSV)" stroke="#1a1a1a" stroke-width="0.9" />
<text x="837.3" y="591.05" font-size="13" text-anchor="middle" >15</text>
<text x="837.9" y="711.45" font-size="13" text-anchor="middle" >-5</text>
<text x="851.6" y="649.78" font-size="12.5" text-anchor="middle" transform="rotate(-90 851.6 645.3)" >t value</text>
<g filter="url(#h28)">
<rect x="41.5" y="758.6" width="250.7" height="225.2" fill="#838383" />
<g filter="url(#b8)">
<ellipse cx="184.14" cy="869.1" rx="51.05" ry="60.06" fill="#808080" opacity="0.6"/>
<ellipse cx="94.05" cy="905.14" rx="21.02" ry="39.04" fill="#808080" opacity="0.5"/>
<ellipse cx="235.2" cy="809.04" rx="24.02" ry="18.02" fill="#999999" opacity="0.6"/>
<ellipse cx="100.06" cy="809.04" rx="27.03" ry="18.02" fill="#959595" opacity="0.6"/>
</g>
<g filter="url(#b2)">
<ellipse cx="86.55" cy="897.63" rx="3" ry="4.8" fill="#5e5e5e"/>
<ellipse cx="89.55" cy="908.14" rx="3" ry="4.2" fill="#696969"/>
<ellipse cx="109.67" cy="917.75" rx="4.2" ry="3" fill="#696969"/>
<ellipse cx="136.1" cy="822.55" rx="2.7" ry="3.6" fill="#696969"/>
<ellipse cx="88.05" cy="845.08" rx="3" ry="3" fill="#696969" opacity="0.8"/>
<ellipse cx="193.15" cy="928.56" rx="4.8" ry="2.4" fill="#5e5e5e"/>
<ellipse cx="211.17" cy="927.66" rx="4.2" ry="2.4" fill="#696969"/>
<ellipse cx="232.19" cy="929.16" rx="9.01" ry="2.1" fill="#696969" opacity="0.8"/>
<ellipse cx="217.18" cy="915.65" rx="3" ry="2.7" fill="#696969" opacity="0.8"/>
<ellipse cx="134.59" cy="914.14" rx="3" ry="3.6" fill="#696969" opacity="0.7"/>
<ellipse cx="226.19" cy="802.43" rx="6.61" ry="6.01" fill="#a8a8a8" opacity="0.9"/>
<ellipse cx="85.05" cy="941.17" rx="3" ry="7.51" fill="#666666" opacity="0.8"/>
<ellipse cx="169.13" cy="833.06" rx="12.01" ry="7.51" fill="#6e6e6e" opacity="0.6"/>
<ellipse cx="196.16" cy="890.12" rx="6.01" ry="9.01" fill="#6e6e6e" opacity="0.6"/>
</g>
</g>
<rect x="71.5" y="788.6" width="190.7" height="165.2" fill="none" stroke="#111" stroke-width="1.1" />
<text x="68.9" y="794.05" font-size="13" text-anchor="end" >100</text>
<line x1="71.5" y1="821.97" x2="73.4" y2="821.97" stroke="#000" stroke-width="1" />
<line x1="262.2" y1="821.97" x2="260.3" y2="821.97" stroke="#000" stroke-width="1" />
<text x="68.9" y="826.63" font-size="13" text-anchor="end" >80</text>
<line x1="71.5" y1="855.35" x2="73.4" y2="855.35" stroke="#000" stroke-width="1" />
<line x1="262.2" y1="855.35" x2="260.3" y2="855.35" stroke="#000" stroke-width="1" />
<text x="68.9" y="860" font-size="13" text-anchor="end" >60</text>
<line x1="71.5" y1="888.72" x2="73.4" y2="888.72" stroke="#000" stroke-width="1" />
<line x1="262.2" y1="888.72" x2="260.3" y2="888.72" stroke="#000" stroke-width="1" />
<text x="68.9" y="893.38" font-size="13" text-anchor="end" >40</text>
<line x1="71.5" y1="922.09" x2="73.4" y2="922.09" stroke="#000" stroke-width="1" />
<line x1="262.2" y1="922.09" x2="260.3" y2="922.09" stroke="#000" stroke-width="1" />
<text x="68.9" y="926.75" font-size="13" text-anchor="end" >20</text>
<text x="69.5" y="967.95" font-size="13" text-anchor="middle" >-400</text>
<line x1="130.18" y1="953.8" x2="130.18" y2="951.9" stroke="#000" stroke-width="1" />
<line x1="130.18" y1="788.6" x2="130.18" y2="790.5" stroke="#000" stroke-width="1" />
<text x="130.18" y="967.95" font-size="13" text-anchor="middle" >0</text>
<line x1="188.85" y1="953.8" x2="188.85" y2="951.9" stroke="#000" stroke-width="1" />
<line x1="188.85" y1="788.6" x2="188.85" y2="790.5" stroke="#000" stroke-width="1" />
<text x="188.85" y="967.95" font-size="13" text-anchor="middle" >400</text>
<line x1="247.53" y1="953.8" x2="247.53" y2="951.9" stroke="#000" stroke-width="1" />
<line x1="247.53" y1="788.6" x2="247.53" y2="790.5" stroke="#000" stroke-width="1" />
<text x="247.53" y="967.95" font-size="13" text-anchor="middle" >800</text>
<text x="166.8" y="988.09" font-size="17" text-anchor="middle" textLength="99" lengthAdjust="spacingAndGlyphs" >Latency (ms)</text>
<text x="37.4" y="877.59" font-size="17" text-anchor="middle" textLength="117.5" lengthAdjust="spacingAndGlyphs" transform="rotate(-90 37.4 871.5)" >Frequency (Hz)</text>
<line x1="129.88" y1="788.6" x2="129.88" y2="953.8" stroke="#0a0a18" stroke-width="1.75" stroke-dasharray="10.4 5.3" />
<text x="99.4" y="816.03" font-size="13.5" text-anchor="middle" fill="#111" textLength="50.5" lengthAdjust="spacingAndGlyphs" >Cz-nose</text>
<rect x="270" y="820.6" width="7.2" height="101.4" fill="url(#gHSV)" stroke="#1a1a1a" stroke-width="0.9" />
<text x="273.3" y="817.25" font-size="13" text-anchor="middle" >1</text>
<text x="273.9" y="936.65" font-size="13" text-anchor="middle" >-1</text>
<text x="287.6" y="875.78" font-size="12.5" text-anchor="middle" transform="rotate(-90 287.6 871.3)" >r value</text>
<g filter="url(#h29)">
<rect x="323.5" y="758.6" width="250.7" height="225.2" fill="#838383" />
<g filter="url(#b8)">
<ellipse cx="497.81" cy="871.76" rx="46.19" ry="53.12" fill="#797979" opacity="0.75"/>
<ellipse cx="377.71" cy="876.38" rx="23.09" ry="46.19" fill="#858585" opacity="0.5"/>
<ellipse cx="442.38" cy="899.47" rx="23.09" ry="46.19" fill="#949494" opacity="0.5"/>
<ellipse cx="419.28" cy="807.09" rx="23.09" ry="13.86" fill="#969696" opacity="0.5"/>
</g>
<g filter="url(#b2)">
<ellipse cx="495.5" cy="814.02" rx="3.7" ry="6.47" fill="#5e5e5e"/>
<ellipse cx="523.21" cy="845.2" rx="5.08" ry="6" fill="#5e5e5e"/>
<ellipse cx="501.27" cy="857.9" rx="5.08" ry="7.85" fill="#696969"/>
<ellipse cx="516.28" cy="857.9" rx="3.7" ry="6.93" fill="#696969" opacity="0.9"/>
<ellipse cx="511.66" cy="890.24" rx="7.39" ry="4.16" fill="#696969"/>
<ellipse cx="539.38" cy="846.36" rx="2.77" ry="4.62" fill="#696969" opacity="0.8"/>
<ellipse cx="520.9" cy="922.57" rx="4.16" ry="3.23" fill="#696969" opacity="0.7"/>
<ellipse cx="377.71" cy="872.91" rx="3.23" ry="3.23" fill="#666666" opacity="0.8"/>
<ellipse cx="426.21" cy="812.87" rx="6" ry="6" fill="#a8a8a8" opacity="0.9"/>
<ellipse cx="385.8" cy="894.85" rx="2.77" ry="5.08" fill="#a8a8a8" opacity="0.85"/>
<ellipse cx="384.64" cy="911.02" rx="2.31" ry="3.23" fill="#a8a8a8" opacity="0.6"/>
</g>
</g>
<rect x="353.5" y="788.6" width="190.7" height="165.2" fill="none" stroke="#111" stroke-width="1.1" />
<text x="350.9" y="794.05" font-size="13" text-anchor="end" >100</text>
<line x1="353.5" y1="821.97" x2="355.4" y2="821.97" stroke="#000" stroke-width="1" />
<line x1="544.2" y1="821.97" x2="542.3" y2="821.97" stroke="#000" stroke-width="1" />
<text x="350.9" y="826.63" font-size="13" text-anchor="end" >80</text>
<line x1="353.5" y1="855.35" x2="355.4" y2="855.35" stroke="#000" stroke-width="1" />
<line x1="544.2" y1="855.35" x2="542.3" y2="855.35" stroke="#000" stroke-width="1" />
<text x="350.9" y="860" font-size="13" text-anchor="end" >60</text>
<line x1="353.5" y1="888.72" x2="355.4" y2="888.72" stroke="#000" stroke-width="1" />
<line x1="544.2" y1="888.72" x2="542.3" y2="888.72" stroke="#000" stroke-width="1" />
<text x="350.9" y="893.38" font-size="13" text-anchor="end" >40</text>
<line x1="353.5" y1="922.09" x2="355.4" y2="922.09" stroke="#000" stroke-width="1" />
<line x1="544.2" y1="922.09" x2="542.3" y2="922.09" stroke="#000" stroke-width="1" />
<text x="350.9" y="926.75" font-size="13" text-anchor="end" >20</text>
<text x="351.5" y="967.95" font-size="13" text-anchor="middle" >-400</text>
<line x1="412.18" y1="953.8" x2="412.18" y2="951.9" stroke="#000" stroke-width="1" />
<line x1="412.18" y1="788.6" x2="412.18" y2="790.5" stroke="#000" stroke-width="1" />
<text x="412.18" y="967.95" font-size="13" text-anchor="middle" >0</text>
<line x1="470.85" y1="953.8" x2="470.85" y2="951.9" stroke="#000" stroke-width="1" />
<line x1="470.85" y1="788.6" x2="470.85" y2="790.5" stroke="#000" stroke-width="1" />
<text x="470.85" y="967.95" font-size="13" text-anchor="middle" >400</text>
<line x1="529.53" y1="953.8" x2="529.53" y2="951.9" stroke="#000" stroke-width="1" />
<line x1="529.53" y1="788.6" x2="529.53" y2="790.5" stroke="#000" stroke-width="1" />
<text x="529.53" y="967.95" font-size="13" text-anchor="middle" >800</text>
<text x="448.8" y="988.09" font-size="17" text-anchor="middle" textLength="99" lengthAdjust="spacingAndGlyphs" >Latency (ms)</text>
<text x="319.4" y="877.59" font-size="17" text-anchor="middle" textLength="117.5" lengthAdjust="spacingAndGlyphs" transform="rotate(-90 319.4 871.5)" >Frequency (Hz)</text>
<line x1="411.88" y1="788.6" x2="411.88" y2="953.8" stroke="#0a0a18" stroke-width="1.75" stroke-dasharray="10.4 5.3" />
<text x="381.4" y="816.03" font-size="13.5" text-anchor="middle" fill="#111" textLength="50.5" lengthAdjust="spacingAndGlyphs" >Cz-nose</text>
<rect x="552" y="820.6" width="7.2" height="101.4" fill="url(#gHSV)" stroke="#1a1a1a" stroke-width="0.9" />
<text x="555.3" y="817.25" font-size="13" text-anchor="middle" >1</text>
<text x="555.9" y="936.65" font-size="13" text-anchor="middle" >-1</text>
<text x="569.6" y="875.78" font-size="12.5" text-anchor="middle" transform="rotate(-90 569.6 871.3)" >r value</text>
<g filter="url(#h30)">
<rect x="605.5" y="758.6" width="250.7" height="225.2" fill="#838383" />
<g filter="url(#b8)">
<ellipse cx="662.02" cy="871.76" rx="30.02" ry="92.38" fill="#787878" opacity="0.8"/>
<ellipse cx="770.57" cy="876.38" rx="55.43" ry="83.14" fill="#939393" opacity="0.6"/>
</g>
<g filter="url(#b2)">
<ellipse cx="641.24" cy="795.55" rx="5.08" ry="6.47" fill="#5e5e5e"/>
<ellipse cx="680.5" cy="822.11" rx="2.31" ry="5.08" fill="#5e5e5e" opacity="0.9"/>
<ellipse cx="703.59" cy="830.19" rx="2.77" ry="3.7" fill="#5e5e5e"/>
<ellipse cx="668.95" cy="864.83" rx="3.23" ry="4.16" fill="#696969"/>
<ellipse cx="700.13" cy="865.99" rx="2.31" ry="3.23" fill="#696969"/>
<ellipse cx="659.71" cy="904.09" rx="3.23" ry="3.23" fill="#696969"/>
<ellipse cx="652.79" cy="917.95" rx="2.77" ry="3.7" fill="#5e5e5e"/>
<ellipse cx="643.55" cy="830.19" rx="2.31" ry="2.31" fill="#696969" opacity="0.8"/>
<ellipse cx="685.12" cy="931.81" rx="2.31" ry="2.77" fill="#696969" opacity="0.7"/>
<ellipse cx="761.33" cy="894.85" rx="3.23" ry="3.23" fill="#6b6b6b" opacity="0.8"/>
<ellipse cx="809.83" cy="869.45" rx="2.77" ry="2.77" fill="#6b6b6b" opacity="0.7"/>
<ellipse cx="742.85" cy="800.17" rx="6.93" ry="3.7" fill="#a8a8a8" opacity="0.6"/>
</g>
</g>
<rect x="635.5" y="788.6" width="190.7" height="165.2" fill="none" stroke="#111" stroke-width="1.1" />
<text x="632.9" y="794.05" font-size="13" text-anchor="end" >100</text>
<line x1="635.5" y1="821.97" x2="637.4" y2="821.97" stroke="#000" stroke-width="1" />
<line x1="826.2" y1="821.97" x2="824.3" y2="821.97" stroke="#000" stroke-width="1" />
<text x="632.9" y="826.63" font-size="13" text-anchor="end" >80</text>
<line x1="635.5" y1="855.35" x2="637.4" y2="855.35" stroke="#000" stroke-width="1" />
<line x1="826.2" y1="855.35" x2="824.3" y2="855.35" stroke="#000" stroke-width="1" />
<text x="632.9" y="860" font-size="13" text-anchor="end" >60</text>
<line x1="635.5" y1="888.72" x2="637.4" y2="888.72" stroke="#000" stroke-width="1" />
<line x1="826.2" y1="888.72" x2="824.3" y2="888.72" stroke="#000" stroke-width="1" />
<text x="632.9" y="893.38" font-size="13" text-anchor="end" >40</text>
<line x1="635.5" y1="922.09" x2="637.4" y2="922.09" stroke="#000" stroke-width="1" />
<line x1="826.2" y1="922.09" x2="824.3" y2="922.09" stroke="#000" stroke-width="1" />
<text x="632.9" y="926.75" font-size="13" text-anchor="end" >20</text>
<text x="633.5" y="967.95" font-size="13" text-anchor="middle" >-400</text>
<line x1="694.18" y1="953.8" x2="694.18" y2="951.9" stroke="#000" stroke-width="1" />
<line x1="694.18" y1="788.6" x2="694.18" y2="790.5" stroke="#000" stroke-width="1" />
<text x="694.18" y="967.95" font-size="13" text-anchor="middle" >0</text>
<line x1="752.85" y1="953.8" x2="752.85" y2="951.9" stroke="#000" stroke-width="1" />
<line x1="752.85" y1="788.6" x2="752.85" y2="790.5" stroke="#000" stroke-width="1" />
<text x="752.85" y="967.95" font-size="13" text-anchor="middle" >400</text>
<line x1="811.53" y1="953.8" x2="811.53" y2="951.9" stroke="#000" stroke-width="1" />
<line x1="811.53" y1="788.6" x2="811.53" y2="790.5" stroke="#000" stroke-width="1" />
<text x="811.53" y="967.95" font-size="13" text-anchor="middle" >800</text>
<text x="730.8" y="988.09" font-size="17" text-anchor="middle" textLength="99" lengthAdjust="spacingAndGlyphs" >Latency (ms)</text>
<text x="601.4" y="877.59" font-size="17" text-anchor="middle" textLength="117.5" lengthAdjust="spacingAndGlyphs" transform="rotate(-90 601.4 871.5)" >Frequency (Hz)</text>
<line x1="693.88" y1="788.6" x2="693.88" y2="953.8" stroke="#0a0a18" stroke-width="1.75" stroke-dasharray="10.4 5.3" />
<text x="663.4" y="816.03" font-size="13.5" text-anchor="middle" fill="#111" textLength="50.5" lengthAdjust="spacingAndGlyphs" >Cz-nose</text>
<rect x="834" y="820.6" width="7.2" height="101.4" fill="url(#gHSV)" stroke="#1a1a1a" stroke-width="0.9" />
<text x="837.3" y="817.25" font-size="13" text-anchor="middle" >1</text>
<text x="837.9" y="936.65" font-size="13" text-anchor="middle" >-1</text>
<text x="851.6" y="875.78" font-size="12.5" text-anchor="middle" transform="rotate(-90 851.6 871.3)" >r value</text>
<rect x="71.5" y="1052.5" width="190.7" height="165.1" fill="#8080ff" />
<g clip-path="url(#c31)"><path d="M145.68 1052.48 C144.28 1053.49 147.41 1056.11 147.35 1058.51 C147.3 1060.91 145.96 1063.54 145.34 1066.89 C144.73 1070.23 143.78 1074.42 143.67 1078.61 C143.56 1082.79 144.06 1088.1 144.68 1092 C145.29 1095.91 146.46 1099.65 147.35 1102.05 C148.25 1104.45 148.92 1106.12 150.03 1106.4 C151.15 1106.68 152.55 1105.57 154.05 1103.72 C155.56 1101.88 157.4 1098.03 159.08 1095.35 C160.75 1092.67 162.7 1089.16 164.1 1087.65 C165.49 1086.14 166.56 1086.2 167.45 1086.31 C168.34 1086.42 168.79 1089.21 169.46 1088.32 C170.13 1087.43 171.52 1083.41 171.47 1080.95 C171.41 1078.5 170.63 1076.21 169.12 1073.58 C167.62 1070.96 164.38 1067.72 162.42 1065.21 C160.47 1062.7 158.52 1060.63 157.4 1058.51 C156.28 1056.39 157.68 1053.49 155.73 1052.48 C153.77 1051.48 147.08 1051.48 145.68 1052.48 Z" fill="#ff28ff" stroke="#000" stroke-width="2.6" stroke-linejoin="round"/></g>
<rect x="71.5" y="1052.5" width="190.7" height="165.1" fill="none" stroke="#111" stroke-width="1.1" />
<text x="68.9" y="1057.95" font-size="13" text-anchor="end" >100</text>
<line x1="71.5" y1="1085.85" x2="73.4" y2="1085.85" stroke="#000" stroke-width="1" />
<line x1="262.2" y1="1085.85" x2="260.3" y2="1085.85" stroke="#000" stroke-width="1" />
<text x="68.9" y="1090.51" font-size="13" text-anchor="end" >80</text>
<line x1="71.5" y1="1119.21" x2="73.4" y2="1119.21" stroke="#000" stroke-width="1" />
<line x1="262.2" y1="1119.21" x2="260.3" y2="1119.21" stroke="#000" stroke-width="1" />
<text x="68.9" y="1123.86" font-size="13" text-anchor="end" >60</text>
<line x1="71.5" y1="1152.56" x2="73.4" y2="1152.56" stroke="#000" stroke-width="1" />
<line x1="262.2" y1="1152.56" x2="260.3" y2="1152.56" stroke="#000" stroke-width="1" />
<text x="68.9" y="1157.21" font-size="13" text-anchor="end" >40</text>
<line x1="71.5" y1="1185.91" x2="73.4" y2="1185.91" stroke="#000" stroke-width="1" />
<line x1="262.2" y1="1185.91" x2="260.3" y2="1185.91" stroke="#000" stroke-width="1" />
<text x="68.9" y="1190.57" font-size="13" text-anchor="end" >20</text>
<text x="69.5" y="1231.75" font-size="13" text-anchor="middle" >-400</text>
<line x1="130.18" y1="1217.6" x2="130.18" y2="1215.7" stroke="#000" stroke-width="1" />
<line x1="130.18" y1="1052.5" x2="130.18" y2="1054.4" stroke="#000" stroke-width="1" />
<text x="130.18" y="1231.75" font-size="13" text-anchor="middle" >0</text>
<line x1="188.85" y1="1217.6" x2="188.85" y2="1215.7" stroke="#000" stroke-width="1" />
<line x1="188.85" y1="1052.5" x2="188.85" y2="1054.4" stroke="#000" stroke-width="1" />
<text x="188.85" y="1231.75" font-size="13" text-anchor="middle" >400</text>
<line x1="247.53" y1="1217.6" x2="247.53" y2="1215.7" stroke="#000" stroke-width="1" />
<line x1="247.53" y1="1052.5" x2="247.53" y2="1054.4" stroke="#000" stroke-width="1" />
<text x="247.53" y="1231.75" font-size="13" text-anchor="middle" >800</text>
<text x="166.8" y="1251.89" font-size="17" text-anchor="middle" textLength="99" lengthAdjust="spacingAndGlyphs" >Latency (ms)</text>
<text x="37.4" y="1141.44" font-size="17" text-anchor="middle" textLength="117.5" lengthAdjust="spacingAndGlyphs" transform="rotate(-90 37.4 1135.35)" >Frequency (Hz)</text>
<line x1="129.88" y1="1052.5" x2="129.88" y2="1217.6" stroke="#0a0a18" stroke-width="1.75" stroke-dasharray="10.4 5.3" />
<text x="99.4" y="1081.93" font-size="13.5" text-anchor="middle" fill="#101050" textLength="50.5" lengthAdjust="spacingAndGlyphs" >Cz-nose</text>
<text x="165.8" y="1047.71" font-size="16.5" text-anchor="middle" textLength="103.8" lengthAdjust="spacingAndGlyphs" ><tspan font-family="Liberation Serif">γ</tspan>-ERS cluster</text>
<path d="M372.05 1062.53 C373.56 1061.53 380.48 1061.64 382.1 1062.53 C383.72 1063.42 381.04 1066.05 381.76 1067.89 C382.49 1069.73 384.83 1071.52 386.45 1073.58 C388.07 1075.65 389.85 1078.38 391.47 1080.28 C393.09 1082.18 395.27 1083.18 396.16 1084.97 C397.06 1086.76 396.89 1088.99 396.83 1091 C396.78 1093.01 396.44 1096.08 395.83 1097.03 C395.21 1097.97 393.93 1097.03 393.15 1096.69 C392.37 1096.36 391.98 1094.63 391.14 1095.02 C390.3 1095.41 389.3 1097.14 388.12 1099.04 C386.95 1100.93 385.61 1103.72 384.11 1106.4 C382.6 1109.08 380.48 1113.38 379.08 1115.11 C377.69 1116.84 376.85 1117.45 375.73 1116.78 C374.62 1116.12 373.33 1113.83 372.38 1111.09 C371.44 1108.36 370.6 1104.39 370.04 1100.38 C369.48 1096.36 368.98 1091.17 369.04 1086.98 C369.09 1082.79 369.71 1078.33 370.38 1075.26 C371.04 1072.19 372.78 1070.68 373.05 1068.56 C373.33 1066.44 370.54 1063.54 372.05 1062.53 Z" fill="#ff28ff" stroke="#000" stroke-width="2.4" stroke-linejoin="round"/>
<path d="M655.75 1061.53 C657.26 1060.53 664.18 1060.64 665.8 1061.53 C667.42 1062.42 664.74 1065.05 665.46 1066.89 C666.19 1068.73 668.53 1070.52 670.15 1072.58 C671.77 1074.65 673.55 1077.38 675.17 1079.28 C676.79 1081.18 678.97 1082.18 679.86 1083.97 C680.76 1085.76 680.59 1087.99 680.53 1090 C680.48 1092.01 680.14 1095.08 679.53 1096.03 C678.91 1096.97 677.63 1096.03 676.85 1095.69 C676.07 1095.36 675.68 1093.63 674.84 1094.02 C674 1094.41 673 1096.14 671.82 1098.04 C670.65 1099.93 669.31 1102.72 667.81 1105.4 C666.3 1108.08 664.18 1112.38 662.78 1114.11 C661.39 1115.84 660.55 1116.45 659.43 1115.78 C658.32 1115.12 657.03 1112.83 656.08 1110.09 C655.14 1107.36 654.3 1103.39 653.74 1099.38 C653.18 1095.36 652.68 1090.17 652.74 1085.98 C652.79 1081.79 653.41 1077.33 654.08 1074.26 C654.74 1071.19 656.48 1069.68 656.75 1067.56 C657.03 1065.44 654.24 1062.54 655.75 1061.53 Z" fill="#ff28ff" stroke="#000" stroke-width="2.4" stroke-linejoin="round"/>
<path d="M416.4 1217.6V1217.11M417.4 1217.6V1216.92M418.4 1217.6V1216.78M419.4 1217.6V1216.43M420.4 1217.6V1215.96M421.4 1217.6V1215.51M422.4 1217.6V1214.8M423.4 1217.6V1214.3M424.4 1217.6V1213.18M425.4 1217.6V1212.13M426.4 1217.6V1210.45M427.4 1217.6V1208.63M428.4 1217.6V1207.23M429.4 1217.6V1204.54M430.4 1217.6V1201.58M431.4 1217.6V1196.76M432.4 1217.6V1193.1M433.4 1217.6V1190.6M434.4 1217.6V1183.33M435.4 1217.6V1180.72M436.4 1217.6V1172.44M437.4 1217.6V1168.9M438.4 1217.6V1163.19M439.4 1217.6V1149.59M440.4 1217.6V1147.51M441.4 1217.6V1140.04M442.4 1217.6V1124.5M443.4 1217.6V1117.7M444.4 1217.6V1117.21M445.4 1217.6V1101.54M446.4 1217.6V1100.66M447.4 1217.6V1092.88M448.4 1217.6V1095.09M449.4 1217.6V1079.71M450.4 1217.6V1080.69M451.4 1217.6V1074.39M452.4 1217.6V1074.96M453.4 1217.6V1085.26M454.4 1217.6V1085.98M455.4 1217.6V1091.89M456.4 1217.6V1095.99M457.4 1217.6V1101.85M458.4 1217.6V1103.98M459.4 1217.6V1106.27M460.4 1217.6V1120.74M461.4 1217.6V1119.93M462.4 1217.6V1131.3M463.4 1217.6V1139.13M464.4 1217.6V1142.2M465.4 1217.6V1152.64M466.4 1217.6V1161.01M467.4 1217.6V1166.73M468.4 1217.6V1171.98M469.4 1217.6V1181.1M470.4 1217.6V1182.62M471.4 1217.6V1191.06M472.4 1217.6V1193.15M473.4 1217.6V1196.93M474.4 1217.6V1202.1M475.4 1217.6V1203.62M476.4 1217.6V1206.77M477.4 1217.6V1208.63M478.4 1217.6V1210.91M479.4 1217.6V1212.26M480.4 1217.6V1213.33M481.4 1217.6V1213.95M482.4 1217.6V1215.02M483.4 1217.6V1215.49M484.4 1217.6V1215.96M485.4 1217.6V1216.37M486.4 1217.6V1216.74M487.4 1217.6V1216.96M488.4 1217.6V1217.12" stroke="#050510" stroke-width="1.15" fill="none"/>
<line x1="452.6" y1="1217.6" x2="452.6" y2="1062.9" stroke="#050510" stroke-width="1" />
<line x1="355.3" y1="1053.5" x2="355.3" y2="1218.1" stroke="#3a3a3a" stroke-width="1.25" />
<line x1="354.8" y1="1217.6" x2="549.5" y2="1217.6" stroke="#3a3a3a" stroke-width="1.25" />
<line x1="355.3" y1="1217.6" x2="357.6" y2="1217.6" stroke="#3a3a3a" stroke-width="1" />
<text x="352.3" y="1221.25" font-size="13" text-anchor="end" >0</text>
<line x1="355.3" y1="1184.7" x2="357.6" y2="1184.7" stroke="#3a3a3a" stroke-width="1" />
<text x="352.3" y="1189.35" font-size="13" text-anchor="end" >50</text>
<line x1="355.3" y1="1151.8" x2="357.6" y2="1151.8" stroke="#3a3a3a" stroke-width="1" />
<text x="352.3" y="1156.45" font-size="13" text-anchor="end" >100</text>
<line x1="355.3" y1="1118.9" x2="357.6" y2="1118.9" stroke="#3a3a3a" stroke-width="1" />
<text x="352.3" y="1123.55" font-size="13" text-anchor="end" >150</text>
<line x1="355.3" y1="1086" x2="357.6" y2="1086" stroke="#3a3a3a" stroke-width="1" />
<text x="352.3" y="1090.65" font-size="13" text-anchor="end" >200</text>
<line x1="355.3" y1="1217.6" x2="355.3" y2="1215.3" stroke="#3a3a3a" stroke-width="1" />
<text x="355.3" y="1233.25" font-size="13" text-anchor="middle" >-10</text>
<line x1="403.9" y1="1217.6" x2="403.9" y2="1215.3" stroke="#3a3a3a" stroke-width="1" />
<text x="403.9" y="1233.25" font-size="13" text-anchor="middle" >-5</text>
<line x1="452.4" y1="1217.6" x2="452.4" y2="1215.3" stroke="#3a3a3a" stroke-width="1" />
<text x="452.4" y="1233.25" font-size="13" text-anchor="middle" >0</text>
<line x1="500.3" y1="1217.6" x2="500.3" y2="1215.3" stroke="#3a3a3a" stroke-width="1" />
<text x="500.3" y="1233.25" font-size="13" text-anchor="middle" >5</text>
<line x1="548.5" y1="1217.6" x2="548.5" y2="1215.3" stroke="#3a3a3a" stroke-width="1" />
<text x="548.5" y="1233.25" font-size="13" text-anchor="middle" >10</text>
<text x="451.7" y="1047.71" font-size="16.5" text-anchor="middle" textLength="141" lengthAdjust="spacingAndGlyphs" >Within-subject test</text>
<text x="452.2" y="1254.09" font-size="17" text-anchor="middle" >t value</text>
<text x="312.8" y="1145.09" font-size="17" text-anchor="middle" textLength="127" lengthAdjust="spacingAndGlyphs" transform="rotate(-90 312.8 1139)" >Number of times</text>
<line x1="541.2" y1="1063.5" x2="541.2" y2="1217.6" stroke="#e8141c" stroke-width="2.2" />
<text x="461.5" y="1078.65" font-size="13" text-anchor="start" >p<tspan font-size="9.5" dy="3.5">perm</tspan><tspan dy="-3.5">&lt;0.001</tspan></text>
<g fill="#08084c"><rect x="668.38" y="1216.91" width="2.25" height="0.69"/><rect x="670.73" y="1216.66" width="2.25" height="0.94"/><rect x="673.08" y="1216.18" width="2.25" height="1.42"/><rect x="675.43" y="1215.51" width="2.25" height="2.09"/><rect x="677.78" y="1214.75" width="2.25" height="2.85"/><rect x="680.12" y="1213.54" width="2.25" height="4.06"/><rect x="682.48" y="1212.43" width="2.25" height="5.17"/><rect x="684.83" y="1210.59" width="2.25" height="7.01"/><rect x="687.18" y="1208.47" width="2.25" height="9.13"/><rect x="689.53" y="1205.09" width="2.25" height="12.51"/><rect x="691.88" y="1200.71" width="2.25" height="16.89"/><rect x="694.23" y="1197" width="2.25" height="20.6"/><rect x="696.58" y="1191.3" width="2.25" height="26.3"/><rect x="698.93" y="1186.67" width="2.25" height="30.93"/><rect x="701.28" y="1178.39" width="2.25" height="39.21"/><rect x="703.62" y="1174.2" width="2.25" height="43.4"/><rect x="705.98" y="1165.18" width="2.25" height="52.42"/><rect x="708.33" y="1153.76" width="2.25" height="63.84"/><rect x="710.68" y="1143.98" width="2.25" height="73.62"/><rect x="713.03" y="1137.36" width="2.25" height="80.24"/><rect x="715.38" y="1131.84" width="2.25" height="85.76"/><rect x="717.73" y="1121.32" width="2.25" height="96.28"/><rect x="720.08" y="1114.13" width="2.25" height="103.47"/><rect x="722.43" y="1106.23" width="2.25" height="111.37"/><rect x="724.78" y="1092.86" width="2.25" height="124.74"/><rect x="727.12" y="1097.42" width="2.25" height="120.18"/><rect x="729.48" y="1084.3" width="2.25" height="133.3"/><rect x="731.83" y="1083.45" width="2.25" height="134.15"/><rect x="734.18" y="1097.01" width="2.25" height="120.59"/><rect x="736.53" y="1094.74" width="2.25" height="122.86"/><rect x="738.88" y="1097.45" width="2.25" height="120.15"/><rect x="741.23" y="1109.77" width="2.25" height="107.83"/><rect x="743.58" y="1111.36" width="2.25" height="106.24"/><rect x="745.93" y="1113.71" width="2.25" height="103.89"/><rect x="748.28" y="1131.58" width="2.25" height="86.02"/><rect x="750.62" y="1135.66" width="2.25" height="81.94"/><rect x="752.98" y="1149.18" width="2.25" height="68.42"/><rect x="755.33" y="1154.48" width="2.25" height="63.12"/><rect x="757.68" y="1161.28" width="2.25" height="56.32"/><rect x="760.03" y="1173.65" width="2.25" height="43.95"/><rect x="762.38" y="1181.77" width="2.25" height="35.83"/><rect x="764.73" y="1187.8" width="2.25" height="29.8"/><rect x="767.08" y="1192.02" width="2.25" height="25.58"/><rect x="769.43" y="1198.4" width="2.25" height="19.2"/><rect x="771.78" y="1202.33" width="2.25" height="15.27"/><rect x="774.12" y="1205.11" width="2.25" height="12.49"/><rect x="776.48" y="1207.54" width="2.25" height="10.06"/><rect x="778.83" y="1210.43" width="2.25" height="7.17"/><rect x="781.18" y="1212.28" width="2.25" height="5.32"/><rect x="783.53" y="1213.58" width="2.25" height="4.02"/><rect x="785.88" y="1214.88" width="2.25" height="2.72"/><rect x="788.23" y="1215.54" width="2.25" height="2.06"/><rect x="790.58" y="1216.22" width="2.25" height="1.38"/><rect x="792.93" y="1216.59" width="2.25" height="1.01"/><rect x="795.28" y="1216.88" width="2.25" height="0.72"/></g>
<line x1="639" y1="1053.5" x2="639" y2="1218.1" stroke="#3a3a3a" stroke-width="1.25" />
<line x1="638.5" y1="1217.6" x2="833.9" y2="1217.6" stroke="#3a3a3a" stroke-width="1.25" />
<line x1="639" y1="1217.6" x2="641.3" y2="1217.6" stroke="#3a3a3a" stroke-width="1" />
<text x="636" y="1221.25" font-size="13" text-anchor="end" >0</text>
<line x1="639" y1="1184.7" x2="641.3" y2="1184.7" stroke="#3a3a3a" stroke-width="1" />
<text x="636" y="1189.35" font-size="13" text-anchor="end" >50</text>
<line x1="639" y1="1151.8" x2="641.3" y2="1151.8" stroke="#3a3a3a" stroke-width="1" />
<text x="636" y="1156.45" font-size="13" text-anchor="end" >100</text>
<line x1="639" y1="1118.9" x2="641.3" y2="1118.9" stroke="#3a3a3a" stroke-width="1" />
<text x="636" y="1123.55" font-size="13" text-anchor="end" >150</text>
<line x1="639" y1="1086" x2="641.3" y2="1086" stroke="#3a3a3a" stroke-width="1" />
<text x="636" y="1090.65" font-size="13" text-anchor="end" >200</text>
<line x1="659.1" y1="1217.6" x2="659.1" y2="1215.3" stroke="#3a3a3a" stroke-width="1" />
<text x="659.1" y="1233.25" font-size="13" text-anchor="middle" >-0.4</text>
<line x1="697.2" y1="1217.6" x2="697.2" y2="1215.3" stroke="#3a3a3a" stroke-width="1" />
<text x="697.2" y="1233.25" font-size="13" text-anchor="middle" >-0.2</text>
<line x1="734.6" y1="1217.6" x2="734.6" y2="1215.3" stroke="#3a3a3a" stroke-width="1" />
<text x="734.6" y="1233.25" font-size="13" text-anchor="middle" >0</text>
<line x1="771.9" y1="1217.6" x2="771.9" y2="1215.3" stroke="#3a3a3a" stroke-width="1" />
<text x="771.9" y="1233.25" font-size="13" text-anchor="middle" >0.2</text>
<line x1="810.2" y1="1217.6" x2="810.2" y2="1215.3" stroke="#3a3a3a" stroke-width="1" />
<text x="810.2" y="1233.25" font-size="13" text-anchor="middle" >0.4</text>
<text x="735" y="1047.71" font-size="16.5" text-anchor="middle" textLength="158.7" lengthAdjust="spacingAndGlyphs" >Between-subject test</text>
<text x="735.5" y="1254.09" font-size="17" text-anchor="middle" >t value</text>
<text x="596.5" y="1145.09" font-size="17" text-anchor="middle" textLength="127" lengthAdjust="spacingAndGlyphs" transform="rotate(-90 596.5 1139)" >Number of times</text>
<line x1="742.4" y1="1063.5" x2="742.4" y2="1217.6" stroke="#e8141c" stroke-width="2.6" />
<text x="768.6" y="1077.65" font-size="13" text-anchor="start" >p<tspan font-size="9.5" dy="3.5">perm</tspan><tspan dy="-3.5">=0.68</tspan></text>
</svg>
</body></html>
